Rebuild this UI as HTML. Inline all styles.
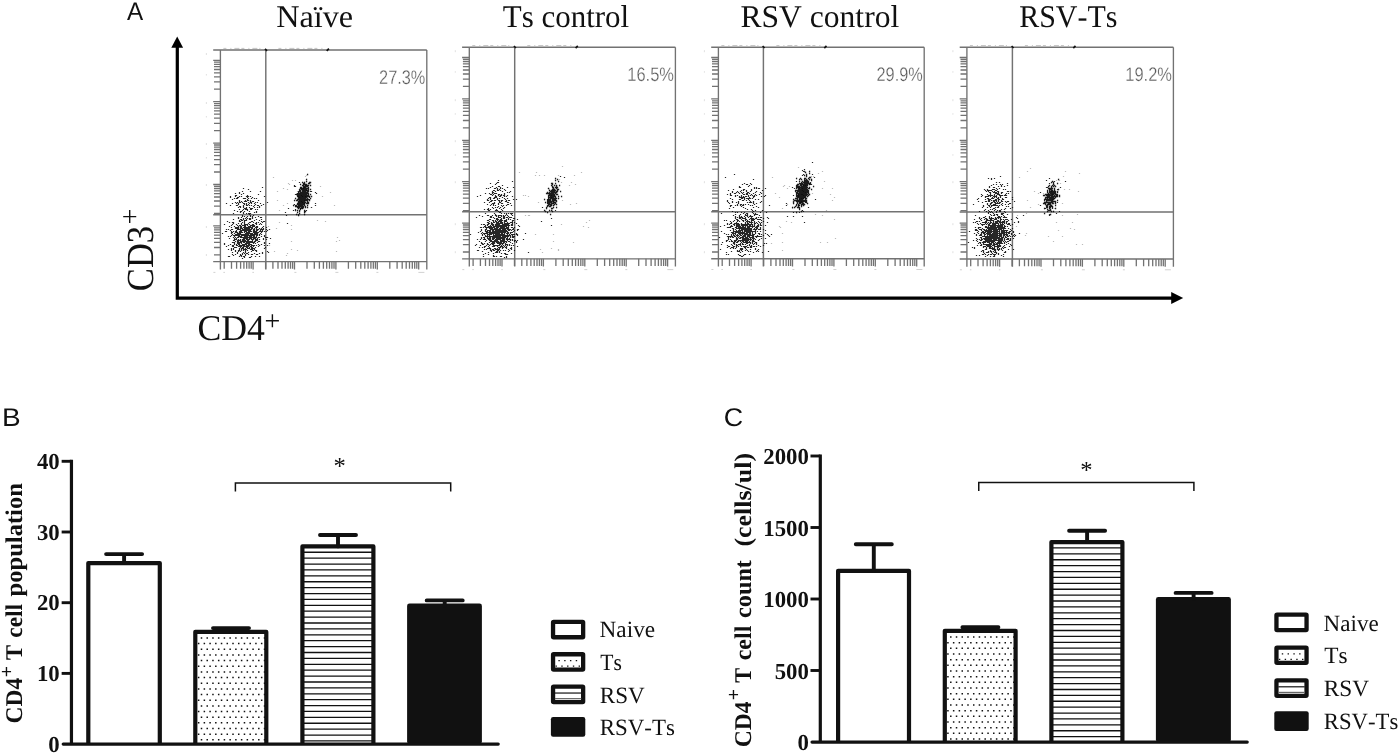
<!DOCTYPE html>
<html lang="en"><head><meta charset="utf-8"><title>Figure</title>
<style>
html,body{margin:0;padding:0;background:#fff;}
body{width:1400px;height:754px;overflow:hidden;}
svg{display:block;}
text{font-kerning:none;text-rendering:geometricPrecision;white-space:pre;}
.t{font-family:"Liberation Serif", serif;fill:#111;}
.tb{font-family:"Liberation Serif", serif;font-weight:bold;fill:#111;}
.s{font-family:"Liberation Sans", sans-serif;fill:#111;}
.pc{font-family:"Liberation Sans", sans-serif;fill:#585858;stroke:#fff;stroke-width:0.3px;}
</style></head><body>
<svg width="1400" height="754" viewBox="0 0 1400 754">
<defs>
<filter id="bl" x="-5%" y="-5%" width="110%" height="110%"><feGaussianBlur stdDeviation="0.3"/></filter>
</defs>
<rect width="1400" height="754" fill="#fff"/>

<text class="s" transform="translate(126.95,20.1) scale(0.9485,1)" font-size="25.6">A</text>
<text class="s" transform="translate(1.90,425.6) scale(1.0936,1)" font-size="25.6">B</text>
<text class="s" transform="translate(723.74,425.7) scale(1.0486,1)" font-size="25.6">C</text>
<path d="M177.3 46 V298.1 H1172" fill="none" stroke="#000" stroke-width="3.2"/>
<path d="M177.2 36.4 L183.1 47.8 H171.3 Z" fill="#000"/>
<path d="M1183.2 298.1 L1171.2 292.1 V304.1 Z" fill="#000"/>
<text class="t" transform="translate(276.17,26.5) scale(1.0198,1)" font-size="31.6">Naïve</text>
<text class="t" transform="translate(502.84,26.5) scale(0.9796,1)" font-size="31.6">Ts control</text>
<text class="t" transform="translate(740.49,26.5) scale(0.9991,1)" font-size="31.6">RSV control</text>
<text class="t" transform="translate(1019.14,26.5) scale(0.9484,1)" font-size="31.6">RSV-Ts</text>
<g transform="translate(152.7,289.7) rotate(-90)"><text class="t" transform="scale(0.952,1.055)" x="-1.5" y="0" font-size="36.3">CD3</text><text class="t" x="65.3" y="-13.6" font-size="28">+</text></g>
<text class="t" transform="translate(197.54,339.6) scale(0.9832,1)" font-size="36.3">CD4</text>
<text class="t" x="264.6" y="329.85" font-size="28">+</text>
<g><path d="M213.20000000000002 50.0H426.8 M426.8 50.0V269.40000000000003 M213.20000000000002 261.6H426.8 M220.4 50.0V269.40000000000003" fill="none" stroke="#727272" stroke-width="1.35"/>
<path d="M265.8 50.0V269.40000000000003 M213.20000000000002 214.8H426.8" fill="none" stroke="#727272" stroke-width="1.45"/>
<path d="M213.20000000000002 60.3H220.4M214.0 89.2H220.4M214.0 81.9H220.4M214.0 76.8H220.4M214.0 72.8H220.4M214.0 69.5H220.4M214.0 66.7H220.4M214.0 64.3H220.4M214.0 62.2H220.4M213.20000000000002 101.7H220.4M214.0 130.6H220.4M214.0 123.3H220.4M214.0 118.2H220.4M214.0 114.2H220.4M214.0 110.9H220.4M214.0 108.1H220.4M214.0 105.7H220.4M214.0 103.6H220.4M213.20000000000002 143.1H220.4M214.0 172.0H220.4M214.0 164.7H220.4M214.0 159.6H220.4M214.0 155.6H220.4M214.0 152.3H220.4M214.0 149.5H220.4M214.0 147.1H220.4M214.0 145.0H220.4M213.20000000000002 184.5H220.4M214.0 213.4H220.4M214.0 206.1H220.4M214.0 201.0H220.4M214.0 197.0H220.4M214.0 193.7H220.4M214.0 190.9H220.4M214.0 188.5H220.4M214.0 186.4H220.4M213.20000000000002 225.9H220.4M214.0 254.8H220.4M214.0 247.5H220.4M214.0 242.4H220.4M214.0 238.4H220.4M214.0 235.1H220.4M214.0 232.3H220.4M214.0 229.9H220.4M214.0 227.8H220.4M224.2 261.6V268.8M231.5 261.6V268.8M236.6 261.6V268.8M240.6 261.6V268.8M243.9 261.6V268.8M246.7 261.6V268.8M249.1 261.6V268.8M251.2 261.6V268.8M253.1 261.6V269.40000000000003M265.6 261.6V268.8M272.9 261.6V268.8M278.0 261.6V268.8M282.0 261.6V268.8M285.3 261.6V268.8M288.1 261.6V268.8M290.5 261.6V268.8M292.6 261.6V268.8M294.5 261.6V269.40000000000003M307.0 261.6V268.8M314.3 261.6V268.8M319.4 261.6V268.8M323.4 261.6V268.8M326.7 261.6V268.8M329.5 261.6V268.8M331.9 261.6V268.8M334.0 261.6V268.8M335.9 261.6V269.40000000000003M348.4 261.6V268.8M355.7 261.6V268.8M360.8 261.6V268.8M364.8 261.6V268.8M368.1 261.6V268.8M370.9 261.6V268.8M373.3 261.6V268.8M375.4 261.6V268.8M377.3 261.6V269.40000000000003M389.8 261.6V268.8M397.1 261.6V268.8M402.2 261.6V268.8M406.2 261.6V268.8M409.5 261.6V268.8M412.3 261.6V268.8M414.7 261.6V268.8M416.8 261.6V268.8M418.7 261.6V269.40000000000003" fill="none" stroke="#727272" stroke-width="1.3"/>
<path d="M265.0 48.8l2 2 M326.7 50.9l2.2 -2.2" stroke="#111" stroke-width="1.7" fill="none"/>
<path d="M223.4 48.4H260.4 M278.4 48.4H324.4" stroke="#bbb" stroke-width="0.9" stroke-dasharray="3 4 1 3 5 2" fill="none"/>
<path d="M213.4 272.40000000000003h2 M223.4 272.40000000000003h1.5 M252.4 272.40000000000003h1.5 M294.4 272.40000000000003h2 M335.4 272.40000000000003h3 M376.4 272.40000000000003h2 M418.4 272.40000000000003h6" stroke="#ccc" stroke-width="0.9" fill="none"/>
<path d="M206.4 53.0v2 M206.4 74.0v1.5 M206.4 102.0v2 M206.4 116.0v1.5 M206.4 143.0v2 M206.4 157.0v1.5 M206.4 184.0v2 M206.4 226.0v2 M206.4 254.0v2" stroke="#ddd" stroke-width="0.9" fill="none"/>
<text class="pc" transform="translate(379.08,83.9) scale(0.8332,1)" font-size="19.6">27.3%</text>
<g filter="url(#bl)"><path d="M221.9 233.5h1.2M223.9 224.5h1.2M223.9 243.5h1.2M223.9 244.5h1.2M224.9 231.5h1.2M225.9 203.5h1.2M225.9 229.5h1.2M225.9 231.5h1.2M225.9 246.5h1.2M226.9 221.5h1.2M227.9 229.5h1.2M227.9 236.5h1.2M227.9 245.5h1.2M227.9 249.5h1.2M227.9 256.5h1.2M228.9 222.5h1.2M228.9 226.5h1.2M228.9 238.5h1.2M228.9 256.5h1.2M229.9 196.5h1.2M229.9 197.5h1.2M229.9 205.5h1.2M229.9 230.5h1.2M229.9 236.5h1.2M229.9 244.5h1.2M230.9 225.5h1.2M230.9 227.5h1.2M230.9 229.5h1.2M230.9 231.5h1.2M230.9 232.5h1.2M230.9 233.5h1.2M230.9 235.5h1.2M230.9 248.5h1.2M230.9 249.5h1.2M230.9 250.5h1.2M231.9 199.5h1.2M231.9 203.5h1.2M231.9 222.5h1.2M231.9 224.5h1.2M231.9 229.5h1.2M231.9 232.5h1.2M231.9 234.5h1.2M231.9 242.5h1.2M231.9 245.5h1.2M231.9 246.5h1.2M231.9 252.5h1.2M231.9 254.5h1.2M232.9 213.5h1.2M232.9 219.5h1.2M232.9 222.5h1.2M232.9 223.5h1.2M232.9 231.5h1.2M232.9 235.5h1.2M232.9 237.5h1.2M232.9 240.5h1.2M232.9 242.5h1.2M232.9 245.5h1.2M232.9 246.5h1.2M232.9 248.5h1.2M232.9 249.5h1.2M232.9 255.5h1.2M233.9 198.5h1.2M233.9 210.5h1.2M233.9 226.5h1.2M233.9 233.5h1.2M233.9 235.5h1.2M233.9 236.5h1.2M233.9 238.5h1.2M233.9 239.5h1.2M233.9 240.5h1.2M233.9 242.5h1.2M233.9 243.5h1.2M233.9 244.5h1.2M233.9 247.5h1.2M234.9 193.5h1.2M234.9 195.5h1.2M234.9 196.5h1.2M234.9 202.5h1.2M234.9 227.5h1.2M234.9 228.5h1.2M234.9 231.5h1.2M234.9 232.5h1.2M234.9 234.5h1.2M234.9 235.5h1.2M234.9 237.5h1.2M234.9 239.5h1.2M234.9 241.5h1.2M234.9 247.5h1.2M234.9 250.5h1.2M234.9 251.5h1.2M234.9 254.5h1.2M235.9 195.5h1.2M235.9 198.5h1.2M235.9 203.5h1.2M235.9 205.5h1.2M235.9 224.5h1.2M235.9 227.5h1.2M235.9 228.5h1.2M235.9 230.5h1.2M235.9 231.5h1.2M235.9 232.5h1.2M235.9 234.5h1.2M235.9 235.5h1.2M235.9 238.5h1.2M235.9 239.5h1.2M235.9 244.5h1.2M235.9 245.5h1.2M235.9 247.5h1.2M236.9 197.5h1.2M236.9 198.5h1.2M236.9 202.5h1.2M236.9 205.5h1.2M236.9 211.5h1.2M236.9 225.5h1.2M236.9 227.5h1.2M236.9 228.5h1.2M236.9 229.5h1.2M236.9 232.5h1.2M236.9 233.5h1.2M236.9 234.5h1.2M236.9 235.5h1.2M236.9 237.5h1.2M236.9 240.5h1.2M236.9 241.5h1.2M236.9 242.5h1.2M236.9 243.5h1.2M236.9 245.5h1.2M236.9 252.5h1.2M236.9 253.5h1.2M237.9 197.5h1.2M237.9 203.5h1.2M237.9 204.5h1.2M237.9 207.5h1.2M237.9 217.5h1.2M237.9 218.5h1.2M237.9 223.5h1.2M237.9 226.5h1.2M237.9 227.5h1.2M237.9 228.5h1.2M237.9 229.5h1.2M237.9 233.5h1.2M237.9 234.5h1.2M237.9 235.5h1.2M237.9 236.5h1.2M237.9 237.5h1.2M237.9 239.5h1.2M237.9 240.5h1.2M237.9 241.5h1.2M237.9 242.5h1.2M237.9 243.5h1.2M237.9 244.5h1.2M237.9 246.5h1.2M237.9 250.5h1.2M237.9 251.5h1.2M238.9 192.5h1.2M238.9 193.5h1.2M238.9 196.5h1.2M238.9 200.5h1.2M238.9 201.5h1.2M238.9 202.5h1.2M238.9 206.5h1.2M238.9 209.5h1.2M238.9 220.5h1.2M238.9 221.5h1.2M238.9 225.5h1.2M238.9 229.5h1.2M238.9 231.5h1.2M238.9 232.5h1.2M238.9 233.5h1.2M238.9 234.5h1.2M238.9 235.5h1.2M238.9 236.5h1.2M238.9 240.5h1.2M238.9 242.5h1.2M238.9 243.5h1.2M238.9 244.5h1.2M238.9 245.5h1.2M238.9 246.5h1.2M238.9 248.5h1.2M238.9 249.5h1.2M238.9 250.5h1.2M238.9 256.5h1.2M239.9 202.5h1.2M239.9 206.5h1.2M239.9 207.5h1.2M239.9 211.5h1.2M239.9 212.5h1.2M239.9 219.5h1.2M239.9 221.5h1.2M239.9 225.5h1.2M239.9 226.5h1.2M239.9 227.5h1.2M239.9 228.5h1.2M239.9 229.5h1.2M239.9 230.5h1.2M239.9 231.5h1.2M239.9 232.5h1.2M239.9 233.5h1.2M239.9 234.5h1.2M239.9 236.5h1.2M239.9 237.5h1.2M239.9 239.5h1.2M239.9 240.5h1.2M239.9 241.5h1.2M239.9 242.5h1.2M239.9 245.5h1.2M239.9 246.5h1.2M239.9 247.5h1.2M239.9 251.5h1.2M239.9 254.5h1.2M239.9 255.5h1.2M240.9 194.5h1.2M240.9 196.5h1.2M240.9 201.5h1.2M240.9 211.5h1.2M240.9 217.5h1.2M240.9 219.5h1.2M240.9 220.5h1.2M240.9 223.5h1.2M240.9 224.5h1.2M240.9 226.5h1.2M240.9 227.5h1.2M240.9 228.5h1.2M240.9 230.5h1.2M240.9 231.5h1.2M240.9 232.5h1.2M240.9 234.5h1.2M240.9 235.5h1.2M240.9 236.5h1.2M240.9 237.5h1.2M240.9 241.5h1.2M240.9 242.5h1.2M240.9 243.5h1.2M240.9 245.5h1.2M240.9 246.5h1.2M240.9 248.5h1.2M240.9 249.5h1.2M240.9 250.5h1.2M240.9 255.5h1.2M240.9 256.5h1.2M241.9 191.5h1.2M241.9 202.5h1.2M241.9 210.5h1.2M241.9 215.5h1.2M241.9 216.5h1.2M241.9 220.5h1.2M241.9 222.5h1.2M241.9 225.5h1.2M241.9 228.5h1.2M241.9 229.5h1.2M241.9 230.5h1.2M241.9 232.5h1.2M241.9 234.5h1.2M241.9 235.5h1.2M241.9 237.5h1.2M241.9 239.5h1.2M241.9 240.5h1.2M241.9 241.5h1.2M241.9 244.5h1.2M241.9 245.5h1.2M241.9 247.5h1.2M241.9 248.5h1.2M241.9 253.5h1.2M241.9 254.5h1.2M241.9 258.5h1.2M242.9 188.5h1.2M242.9 193.5h1.2M242.9 198.5h1.2M242.9 203.5h1.2M242.9 205.5h1.2M242.9 206.5h1.2M242.9 207.5h1.2M242.9 209.5h1.2M242.9 212.5h1.2M242.9 213.5h1.2M242.9 218.5h1.2M242.9 219.5h1.2M242.9 225.5h1.2M242.9 227.5h1.2M242.9 229.5h1.2M242.9 230.5h1.2M242.9 234.5h1.2M242.9 235.5h1.2M242.9 237.5h1.2M242.9 238.5h1.2M242.9 239.5h1.2M242.9 240.5h1.2M242.9 241.5h1.2M242.9 242.5h1.2M242.9 244.5h1.2M242.9 245.5h1.2M242.9 246.5h1.2M242.9 247.5h1.2M242.9 248.5h1.2M242.9 249.5h1.2M242.9 250.5h1.2M242.9 252.5h1.2M242.9 256.5h1.2M243.9 198.5h1.2M243.9 201.5h1.2M243.9 203.5h1.2M243.9 204.5h1.2M243.9 208.5h1.2M243.9 211.5h1.2M243.9 216.5h1.2M243.9 220.5h1.2M243.9 221.5h1.2M243.9 222.5h1.2M243.9 223.5h1.2M243.9 224.5h1.2M243.9 225.5h1.2M243.9 226.5h1.2M243.9 227.5h1.2M243.9 228.5h1.2M243.9 229.5h1.2M243.9 230.5h1.2M243.9 231.5h1.2M243.9 232.5h1.2M243.9 234.5h1.2M243.9 235.5h1.2M243.9 236.5h1.2M243.9 237.5h1.2M243.9 238.5h1.2M243.9 239.5h1.2M243.9 240.5h1.2M243.9 241.5h1.2M243.9 242.5h1.2M243.9 244.5h1.2M243.9 245.5h1.2M243.9 246.5h1.2M243.9 249.5h1.2M243.9 253.5h1.2M243.9 256.5h1.2M243.9 257.5h1.2M244.9 198.5h1.2M244.9 200.5h1.2M244.9 201.5h1.2M244.9 208.5h1.2M244.9 209.5h1.2M244.9 218.5h1.2M244.9 220.5h1.2M244.9 224.5h1.2M244.9 225.5h1.2M244.9 226.5h1.2M244.9 227.5h1.2M244.9 228.5h1.2M244.9 229.5h1.2M244.9 230.5h1.2M244.9 231.5h1.2M244.9 233.5h1.2M244.9 234.5h1.2M244.9 235.5h1.2M244.9 236.5h1.2M244.9 237.5h1.2M244.9 238.5h1.2M244.9 240.5h1.2M244.9 241.5h1.2M244.9 243.5h1.2M244.9 244.5h1.2M244.9 246.5h1.2M244.9 248.5h1.2M244.9 249.5h1.2M244.9 250.5h1.2M244.9 251.5h1.2M244.9 252.5h1.2M244.9 254.5h1.2M244.9 255.5h1.2M245.9 196.5h1.2M245.9 201.5h1.2M245.9 203.5h1.2M245.9 204.5h1.2M245.9 205.5h1.2M245.9 207.5h1.2M245.9 208.5h1.2M245.9 209.5h1.2M245.9 213.5h1.2M245.9 217.5h1.2M245.9 219.5h1.2M245.9 220.5h1.2M245.9 224.5h1.2M245.9 227.5h1.2M245.9 228.5h1.2M245.9 229.5h1.2M245.9 230.5h1.2M245.9 231.5h1.2M245.9 232.5h1.2M245.9 233.5h1.2M245.9 234.5h1.2M245.9 235.5h1.2M245.9 236.5h1.2M245.9 237.5h1.2M245.9 238.5h1.2M245.9 239.5h1.2M245.9 241.5h1.2M245.9 242.5h1.2M245.9 243.5h1.2M245.9 244.5h1.2M245.9 245.5h1.2M245.9 246.5h1.2M245.9 247.5h1.2M245.9 249.5h1.2M245.9 253.5h1.2M246.9 195.5h1.2M246.9 196.5h1.2M246.9 197.5h1.2M246.9 199.5h1.2M246.9 200.5h1.2M246.9 205.5h1.2M246.9 209.5h1.2M246.9 210.5h1.2M246.9 216.5h1.2M246.9 218.5h1.2M246.9 224.5h1.2M246.9 225.5h1.2M246.9 227.5h1.2M246.9 228.5h1.2M246.9 229.5h1.2M246.9 230.5h1.2M246.9 232.5h1.2M246.9 233.5h1.2M246.9 234.5h1.2M246.9 235.5h1.2M246.9 236.5h1.2M246.9 237.5h1.2M246.9 238.5h1.2M246.9 239.5h1.2M246.9 240.5h1.2M246.9 241.5h1.2M246.9 242.5h1.2M246.9 243.5h1.2M246.9 245.5h1.2M246.9 246.5h1.2M246.9 247.5h1.2M246.9 248.5h1.2M246.9 250.5h1.2M246.9 253.5h1.2M247.9 189.5h1.2M247.9 196.5h1.2M247.9 198.5h1.2M247.9 200.5h1.2M247.9 202.5h1.2M247.9 204.5h1.2M247.9 213.5h1.2M247.9 223.5h1.2M247.9 226.5h1.2M247.9 227.5h1.2M247.9 228.5h1.2M247.9 229.5h1.2M247.9 230.5h1.2M247.9 231.5h1.2M247.9 232.5h1.2M247.9 233.5h1.2M247.9 234.5h1.2M247.9 235.5h1.2M247.9 237.5h1.2M247.9 239.5h1.2M247.9 240.5h1.2M247.9 241.5h1.2M247.9 242.5h1.2M247.9 243.5h1.2M247.9 244.5h1.2M247.9 245.5h1.2M247.9 246.5h1.2M247.9 248.5h1.2M247.9 252.5h1.2M247.9 254.5h1.2M248.9 203.5h1.2M248.9 205.5h1.2M248.9 207.5h1.2M248.9 211.5h1.2M248.9 213.5h1.2M248.9 214.5h1.2M248.9 218.5h1.2M248.9 219.5h1.2M248.9 222.5h1.2M248.9 224.5h1.2M248.9 226.5h1.2M248.9 227.5h1.2M248.9 228.5h1.2M248.9 229.5h1.2M248.9 230.5h1.2M248.9 231.5h1.2M248.9 232.5h1.2M248.9 233.5h1.2M248.9 235.5h1.2M248.9 236.5h1.2M248.9 237.5h1.2M248.9 238.5h1.2M248.9 239.5h1.2M248.9 241.5h1.2M248.9 242.5h1.2M248.9 243.5h1.2M248.9 244.5h1.2M248.9 245.5h1.2M248.9 247.5h1.2M248.9 248.5h1.2M248.9 257.5h1.2M249.9 191.5h1.2M249.9 196.5h1.2M249.9 200.5h1.2M249.9 201.5h1.2M249.9 202.5h1.2M249.9 208.5h1.2M249.9 209.5h1.2M249.9 213.5h1.2M249.9 215.5h1.2M249.9 216.5h1.2M249.9 218.5h1.2M249.9 219.5h1.2M249.9 222.5h1.2M249.9 225.5h1.2M249.9 226.5h1.2M249.9 227.5h1.2M249.9 229.5h1.2M249.9 230.5h1.2M249.9 231.5h1.2M249.9 233.5h1.2M249.9 234.5h1.2M249.9 235.5h1.2M249.9 236.5h1.2M249.9 237.5h1.2M249.9 238.5h1.2M249.9 241.5h1.2M249.9 242.5h1.2M249.9 244.5h1.2M249.9 246.5h1.2M249.9 249.5h1.2M249.9 257.5h1.2M250.9 198.5h1.2M250.9 202.5h1.2M250.9 203.5h1.2M250.9 205.5h1.2M250.9 208.5h1.2M250.9 209.5h1.2M250.9 221.5h1.2M250.9 225.5h1.2M250.9 227.5h1.2M250.9 228.5h1.2M250.9 229.5h1.2M250.9 231.5h1.2M250.9 233.5h1.2M250.9 234.5h1.2M250.9 235.5h1.2M250.9 236.5h1.2M250.9 237.5h1.2M250.9 238.5h1.2M250.9 239.5h1.2M250.9 241.5h1.2M250.9 242.5h1.2M250.9 244.5h1.2M250.9 245.5h1.2M250.9 246.5h1.2M250.9 247.5h1.2M250.9 248.5h1.2M250.9 249.5h1.2M250.9 251.5h1.2M250.9 254.5h1.2M250.9 256.5h1.2M251.9 197.5h1.2M251.9 201.5h1.2M251.9 208.5h1.2M251.9 216.5h1.2M251.9 217.5h1.2M251.9 218.5h1.2M251.9 221.5h1.2M251.9 224.5h1.2M251.9 225.5h1.2M251.9 226.5h1.2M251.9 227.5h1.2M251.9 228.5h1.2M251.9 233.5h1.2M251.9 234.5h1.2M251.9 235.5h1.2M251.9 237.5h1.2M251.9 239.5h1.2M251.9 240.5h1.2M251.9 241.5h1.2M251.9 242.5h1.2M251.9 245.5h1.2M251.9 247.5h1.2M251.9 248.5h1.2M251.9 249.5h1.2M251.9 250.5h1.2M251.9 254.5h1.2M252.9 201.5h1.2M252.9 206.5h1.2M252.9 215.5h1.2M252.9 222.5h1.2M252.9 224.5h1.2M252.9 225.5h1.2M252.9 226.5h1.2M252.9 229.5h1.2M252.9 230.5h1.2M252.9 231.5h1.2M252.9 232.5h1.2M252.9 234.5h1.2M252.9 235.5h1.2M252.9 236.5h1.2M252.9 237.5h1.2M252.9 238.5h1.2M252.9 239.5h1.2M252.9 242.5h1.2M252.9 243.5h1.2M252.9 245.5h1.2M252.9 246.5h1.2M252.9 248.5h1.2M252.9 250.5h1.2M253.9 198.5h1.2M253.9 203.5h1.2M253.9 205.5h1.2M253.9 207.5h1.2M253.9 212.5h1.2M253.9 220.5h1.2M253.9 225.5h1.2M253.9 226.5h1.2M253.9 228.5h1.2M253.9 229.5h1.2M253.9 230.5h1.2M253.9 231.5h1.2M253.9 232.5h1.2M253.9 233.5h1.2M253.9 234.5h1.2M253.9 235.5h1.2M253.9 236.5h1.2M253.9 237.5h1.2M253.9 238.5h1.2M253.9 241.5h1.2M253.9 242.5h1.2M253.9 245.5h1.2M253.9 248.5h1.2M253.9 249.5h1.2M253.9 253.5h1.2M254.9 202.5h1.2M254.9 204.5h1.2M254.9 209.5h1.2M254.9 217.5h1.2M254.9 223.5h1.2M254.9 227.5h1.2M254.9 231.5h1.2M254.9 232.5h1.2M254.9 233.5h1.2M254.9 234.5h1.2M254.9 237.5h1.2M254.9 238.5h1.2M254.9 239.5h1.2M254.9 240.5h1.2M254.9 241.5h1.2M254.9 243.5h1.2M254.9 247.5h1.2M254.9 250.5h1.2M254.9 256.5h1.2M255.9 198.5h1.2M255.9 211.5h1.2M255.9 212.5h1.2M255.9 219.5h1.2M255.9 222.5h1.2M255.9 223.5h1.2M255.9 224.5h1.2M255.9 226.5h1.2M255.9 227.5h1.2M255.9 228.5h1.2M255.9 229.5h1.2M255.9 230.5h1.2M255.9 231.5h1.2M255.9 232.5h1.2M255.9 233.5h1.2M255.9 234.5h1.2M255.9 235.5h1.2M255.9 236.5h1.2M255.9 237.5h1.2M255.9 239.5h1.2M255.9 240.5h1.2M255.9 245.5h1.2M255.9 250.5h1.2M255.9 251.5h1.2M255.9 254.5h1.2M256.9 202.5h1.2M256.9 205.5h1.2M256.9 207.5h1.2M256.9 209.5h1.2M256.9 226.5h1.2M256.9 227.5h1.2M256.9 229.5h1.2M256.9 230.5h1.2M256.9 232.5h1.2M256.9 233.5h1.2M256.9 234.5h1.2M256.9 235.5h1.2M256.9 238.5h1.2M256.9 239.5h1.2M256.9 240.5h1.2M256.9 242.5h1.2M256.9 254.5h1.2M257.9 194.5h1.2M257.9 200.5h1.2M257.9 205.5h1.2M257.9 216.5h1.2M257.9 222.5h1.2M257.9 229.5h1.2M257.9 232.5h1.2M257.9 237.5h1.2M257.9 241.5h1.2M257.9 244.5h1.2M257.9 246.5h1.2M258.9 206.5h1.2M258.9 207.5h1.2M258.9 220.5h1.2M258.9 224.5h1.2M258.9 228.5h1.2M258.9 231.5h1.2M258.9 234.5h1.2M258.9 235.5h1.2M258.9 237.5h1.2M258.9 239.5h1.2M258.9 241.5h1.2M258.9 245.5h1.2M258.9 253.5h1.2M258.9 256.5h1.2M259.9 191.5h1.2M259.9 203.5h1.2M259.9 217.5h1.2M259.9 223.5h1.2M259.9 229.5h1.2M259.9 230.5h1.2M259.9 231.5h1.2M259.9 233.5h1.2M260.9 205.5h1.2M260.9 217.5h1.2M260.9 219.5h1.2M260.9 221.5h1.2M260.9 224.5h1.2M260.9 228.5h1.2M260.9 229.5h1.2M260.9 231.5h1.2M260.9 232.5h1.2M260.9 234.5h1.2M260.9 236.5h1.2M260.9 244.5h1.2M261.9 187.5h1.2M261.9 222.5h1.2M261.9 227.5h1.2M261.9 229.5h1.2M261.9 230.5h1.2M261.9 231.5h1.2M261.9 252.5h1.2M261.9 253.5h1.2M262.9 204.5h1.2M262.9 221.5h1.2M262.9 226.5h1.2M262.9 228.5h1.2M262.9 229.5h1.2M262.9 238.5h1.2M262.9 239.5h1.2M263.9 196.5h1.2M263.9 221.5h1.2M263.9 231.5h1.2M263.9 235.5h1.2M263.9 236.5h1.2M263.9 242.5h1.2M263.9 243.5h1.2M263.9 245.5h1.2M263.9 248.5h1.2M264.9 237.5h1.2M264.9 247.5h1.2M265.9 227.5h1.2M265.9 229.5h1.2M265.9 231.5h1.2M265.9 237.5h1.2M265.9 239.5h1.2M266.9 202.5h1.2M266.9 230.5h1.2M266.9 237.5h1.2M266.9 245.5h1.2M266.9 251.5h1.2M267.9 252.5h1.2M268.9 229.5h1.2M268.9 243.5h1.2M269.9 238.5h1.2M284.9 212.5h1.2M285.9 215.5h1.2M286.9 223.5h1.2M287.9 208.5h1.2M292.9 210.5h1.2M293.9 185.5h1.2M293.9 186.5h1.2M293.9 204.5h1.2M294.9 186.5h1.2M294.9 194.5h1.2M294.9 205.5h1.2M294.9 209.5h1.2M296.9 193.5h1.2M296.9 206.5h1.2M297.9 191.5h1.2M297.9 196.5h1.2M297.9 206.5h1.2M297.9 208.5h1.2M297.9 214.5h1.2M298.9 182.5h1.2M298.9 197.5h1.2M299.9 193.5h1.2M299.9 208.5h1.2M300.9 188.5h1.2M300.9 195.5h1.2M300.9 201.5h1.2M300.9 208.5h1.2M301.9 196.5h1.2M301.9 202.5h1.2M301.9 208.5h1.2M302.9 186.5h1.2M302.9 188.5h1.2M303.9 187.5h1.2M303.9 200.5h1.2M303.9 203.5h1.2M304.9 185.5h1.2M304.9 196.5h1.2M305.9 190.5h1.2M305.9 210.5h1.2M308.9 196.5h1.2M308.9 197.5h1.2M308.9 199.5h1.2M309.9 191.5h1.2M310.9 191.5h1.2M310.9 207.5h1.2M314.9 192.5h1.2M314.9 203.5h1.2M314.9 205.5h1.2M315.9 193.5h1.2" stroke="#111" stroke-opacity="0.9" stroke-width="1.2" fill="none"/>
<path d="M303.9 197.5h1.3M300.9 194.5h1.3M300.9 193.5h1.3M306.9 198.5h1.3M301.9 193.5h1.3M302.9 201.5h1.3M299.9 197.5h1.3M304.9 197.5h1.3M303.9 187.5h1.3M302.9 183.5h1.3M305.9 184.5h1.3M305.9 188.5h1.3M301.9 198.5h1.3M305.9 179.5h1.3M302.9 197.5h1.3M303.9 186.5h1.3M301.9 190.5h1.3M298.9 204.5h1.3M304.9 197.5h1.3M303.9 193.5h1.3M302.9 198.5h1.3M304.9 189.5h1.3M295.9 205.5h1.3M301.9 203.5h1.3M309.9 194.5h1.3M297.9 201.5h1.3M303.9 198.5h1.3M304.9 196.5h1.3M304.9 197.5h1.3M297.9 207.5h1.3M300.9 198.5h1.3M298.9 197.5h1.3M302.9 193.5h1.3M303.9 204.5h1.3M302.9 187.5h1.3M295.9 200.5h1.3M302.9 194.5h1.3M302.9 206.5h1.3M301.9 194.5h1.3M307.9 196.5h1.3M302.9 194.5h1.3M301.9 199.5h1.3M299.9 195.5h1.3M301.9 197.5h1.3M302.9 206.5h1.3M304.9 197.5h1.3M305.9 195.5h1.3M304.9 197.5h1.3M305.9 188.5h1.3M299.9 184.5h1.3M300.9 194.5h1.3M308.9 200.5h1.3M302.9 191.5h1.3M303.9 199.5h1.3M302.9 196.5h1.3M302.9 202.5h1.3M304.9 190.5h1.3M299.9 196.5h1.3M299.9 198.5h1.3M301.9 204.5h1.3M300.9 197.5h1.3M297.9 195.5h1.3M305.9 189.5h1.3M308.9 183.5h1.3M307.9 185.5h1.3M306.9 192.5h1.3M297.9 197.5h1.3M304.9 207.5h1.3M301.9 196.5h1.3M299.9 195.5h1.3M298.9 204.5h1.3M300.9 196.5h1.3M299.9 192.5h1.3M299.9 206.5h1.3M300.9 204.5h1.3M302.9 192.5h1.3M303.9 193.5h1.3M302.9 194.5h1.3M302.9 187.5h1.3M297.9 208.5h1.3M305.9 190.5h1.3M295.9 206.5h1.3M301.9 195.5h1.3M307.9 185.5h1.3M302.9 197.5h1.3M305.9 192.5h1.3M302.9 193.5h1.3M300.9 188.5h1.3M298.9 206.5h1.3M301.9 199.5h1.3M301.9 194.5h1.3M300.9 201.5h1.3M302.9 196.5h1.3M302.9 206.5h1.3M300.9 199.5h1.3M307.9 188.5h1.3M300.9 204.5h1.3M303.9 201.5h1.3M303.9 203.5h1.3M307.9 195.5h1.3M307.9 189.5h1.3M303.9 201.5h1.3M303.9 211.5h1.3M299.9 188.5h1.3M298.9 202.5h1.3M304.9 198.5h1.3M299.9 184.5h1.3M302.9 199.5h1.3M302.9 195.5h1.3M299.9 190.5h1.3M299.9 195.5h1.3M306.9 186.5h1.3M303.9 197.5h1.3M302.9 190.5h1.3M301.9 189.5h1.3M299.9 198.5h1.3M302.9 200.5h1.3M294.9 210.5h1.3M300.9 203.5h1.3M298.9 196.5h1.3M305.9 194.5h1.3M302.9 196.5h1.3M306.9 196.5h1.3M296.9 195.5h1.3M298.9 191.5h1.3M306.9 174.5h1.3M300.9 206.5h1.3M301.9 188.5h1.3M300.9 205.5h1.3M302.9 197.5h1.3M304.9 198.5h1.3M302.9 201.5h1.3M305.9 190.5h1.3M306.9 193.5h1.3M304.9 188.5h1.3M298.9 196.5h1.3M303.9 210.5h1.3M305.9 194.5h1.3M294.9 198.5h1.3M301.9 199.5h1.3M299.9 197.5h1.3M302.9 195.5h1.3M301.9 206.5h1.3M306.9 198.5h1.3M302.9 193.5h1.3M309.9 185.5h1.3M303.9 204.5h1.3M301.9 202.5h1.3M301.9 198.5h1.3M302.9 196.5h1.3M301.9 208.5h1.3M300.9 196.5h1.3M307.9 194.5h1.3M301.9 201.5h1.3M299.9 194.5h1.3M304.9 197.5h1.3M302.9 194.5h1.3M303.9 196.5h1.3M304.9 186.5h1.3M306.9 192.5h1.3M305.9 192.5h1.3M298.9 207.5h1.3M304.9 193.5h1.3M299.9 196.5h1.3M307.9 202.5h1.3M302.9 195.5h1.3M305.9 190.5h1.3M301.9 188.5h1.3M297.9 205.5h1.3M304.9 206.5h1.3M303.9 199.5h1.3M298.9 210.5h1.3M299.9 192.5h1.3M306.9 198.5h1.3M298.9 203.5h1.3M302.9 191.5h1.3M301.9 199.5h1.3M302.9 199.5h1.3M302.9 195.5h1.3M301.9 198.5h1.3M306.9 202.5h1.3M301.9 201.5h1.3M306.9 186.5h1.3M301.9 182.5h1.3M302.9 203.5h1.3M297.9 195.5h1.3M301.9 194.5h1.3M307.9 203.5h1.3M299.9 198.5h1.3M304.9 189.5h1.3M299.9 195.5h1.3M298.9 197.5h1.3M303.9 205.5h1.3M299.9 204.5h1.3M301.9 200.5h1.3M302.9 194.5h1.3M300.9 187.5h1.3M300.9 202.5h1.3M304.9 199.5h1.3M303.9 184.5h1.3M303.9 198.5h1.3M305.9 195.5h1.3M298.9 198.5h1.3M306.9 191.5h1.3M296.9 199.5h1.3M301.9 207.5h1.3M298.9 206.5h1.3M299.9 194.5h1.3M297.9 215.5h1.3M297.9 208.5h1.3M297.9 197.5h1.3M305.9 195.5h1.3M307.9 189.5h1.3M298.9 199.5h1.3M302.9 193.5h1.3M300.9 196.5h1.3M303.9 191.5h1.3M300.9 189.5h1.3M304.9 197.5h1.3M305.9 186.5h1.3M300.9 192.5h1.3M299.9 203.5h1.3M297.9 207.5h1.3M301.9 200.5h1.3M305.9 192.5h1.3M304.9 196.5h1.3M299.9 196.5h1.3M302.9 196.5h1.3M298.9 203.5h1.3M297.9 196.5h1.3M298.9 201.5h1.3M305.9 184.5h1.3M296.9 204.5h1.3M302.9 189.5h1.3M305.9 189.5h1.3M301.9 191.5h1.3M299.9 201.5h1.3M298.9 199.5h1.3M299.9 187.5h1.3M298.9 210.5h1.3M301.9 199.5h1.3M302.9 198.5h1.3M296.9 210.5h1.3M302.9 185.5h1.3M306.9 188.5h1.3M298.9 202.5h1.3M303.9 187.5h1.3M292.9 205.5h1.3M298.9 200.5h1.3M297.9 203.5h1.3M298.9 194.5h1.3M307.9 191.5h1.3M299.9 202.5h1.3M298.9 190.5h1.3M303.9 194.5h1.3M302.9 196.5h1.3M304.9 189.5h1.3M306.9 198.5h1.3M298.9 210.5h1.3M303.9 192.5h1.3M301.9 192.5h1.3M299.9 196.5h1.3M301.9 201.5h1.3M301.9 199.5h1.3M301.9 191.5h1.3M301.9 195.5h1.3M301.9 199.5h1.3M305.9 188.5h1.3M303.9 187.5h1.3M297.9 193.5h1.3M302.9 198.5h1.3M301.9 196.5h1.3M300.9 194.5h1.3M301.9 195.5h1.3M298.9 197.5h1.3M302.9 199.5h1.3M301.9 196.5h1.3M296.9 200.5h1.3M302.9 200.5h1.3M302.9 199.5h1.3M302.9 192.5h1.3M302.9 202.5h1.3M297.9 197.5h1.3M304.9 202.5h1.3M301.9 204.5h1.3M307.9 187.5h1.3M295.9 194.5h1.3M297.9 199.5h1.3M302.9 188.5h1.3M299.9 206.5h1.3M306.9 200.5h1.3M299.9 208.5h1.3M299.9 194.5h1.3M304.9 192.5h1.3M302.9 200.5h1.3M298.9 203.5h1.3M304.9 197.5h1.3M304.9 202.5h1.3M300.9 200.5h1.3M298.9 199.5h1.3M306.9 186.5h1.3M303.9 197.5h1.3M304.9 185.5h1.3M301.9 192.5h1.3M305.9 181.5h1.3M301.9 204.5h1.3M303.9 193.5h1.3M293.9 200.5h1.3M304.9 197.5h1.3M305.9 203.5h1.3M301.9 205.5h1.3M304.9 200.5h1.3M303.9 193.5h1.3M306.9 205.5h1.3M302.9 196.5h1.3M305.9 199.5h1.3M306.9 198.5h1.3M303.9 190.5h1.3M304.9 196.5h1.3M296.9 203.5h1.3M304.9 191.5h1.3M299.9 191.5h1.3M301.9 205.5h1.3M300.9 200.5h1.3M299.9 204.5h1.3M297.9 204.5h1.3M304.9 191.5h1.3M305.9 193.5h1.3M299.9 198.5h1.3M301.9 197.5h1.3M299.9 203.5h1.3M306.9 195.5h1.3M303.9 214.5h1.3M302.9 198.5h1.3M299.9 208.5h1.3M304.9 190.5h1.3M299.9 200.5h1.3M301.9 185.5h1.3M299.9 201.5h1.3M303.9 196.5h1.3M300.9 201.5h1.3M299.9 200.5h1.3M300.9 194.5h1.3M300.9 205.5h1.3M302.9 192.5h1.3M304.9 196.5h1.3M302.9 185.5h1.3M310.9 196.5h1.3M300.9 204.5h1.3M306.9 203.5h1.3M301.9 195.5h1.3M301.9 206.5h1.3M299.9 201.5h1.3M303.9 212.5h1.3M303.9 201.5h1.3M307.9 183.5h1.3M303.9 196.5h1.3M300.9 202.5h1.3M306.9 185.5h1.3M302.9 192.5h1.3M302.9 193.5h1.3M309.9 182.5h1.3M305.9 200.5h1.3M298.9 211.5h1.3M303.9 184.5h1.3M303.9 188.5h1.3M296.9 196.5h1.3M297.9 198.5h1.3M301.9 199.5h1.3M302.9 195.5h1.3M301.9 193.5h1.3M305.9 185.5h1.3M304.9 211.5h1.3M302.9 207.5h1.3M307.9 193.5h1.3M302.9 197.5h1.3M303.9 195.5h1.3M302.9 194.5h1.3M303.9 189.5h1.3M298.9 213.5h1.3M304.9 196.5h1.3M298.9 201.5h1.3M305.9 196.5h1.3M302.9 199.5h1.3M297.9 207.5h1.3M300.9 197.5h1.3M294.9 206.5h1.3M302.9 192.5h1.3M302.9 202.5h1.3M295.9 206.5h1.3M300.9 202.5h1.3M305.9 193.5h1.3M298.9 189.5h1.3M298.9 193.5h1.3M304.9 193.5h1.3M306.9 200.5h1.3M298.9 195.5h1.3M301.9 191.5h1.3M305.9 189.5h1.3M298.9 191.5h1.3M300.9 202.5h1.3M302.9 200.5h1.3M301.9 201.5h1.3M301.9 206.5h1.3M302.9 200.5h1.3M304.9 187.5h1.3M303.9 195.5h1.3M309.9 189.5h1.3M298.9 197.5h1.3M304.9 185.5h1.3M300.9 196.5h1.3M300.9 197.5h1.3M299.9 200.5h1.3M305.9 197.5h1.3M295.9 214.5h1.3M300.9 193.5h1.3M297.9 202.5h1.3M303.9 194.5h1.3M301.9 190.5h1.3M297.9 192.5h1.3M303.9 187.5h1.3M301.9 198.5h1.3M304.9 184.5h1.3M302.9 203.5h1.3M300.9 196.5h1.3M299.9 201.5h1.3M302.9 188.5h1.3M300.9 207.5h1.3M299.9 205.5h1.3M299.9 203.5h1.3M309.9 198.5h1.3M299.9 202.5h1.3M303.9 197.5h1.3M298.9 205.5h1.3M304.9 185.5h1.3M302.9 197.5h1.3M300.9 206.5h1.3M297.9 202.5h1.3M306.9 205.5h1.3M301.9 203.5h1.3M307.9 199.5h1.3M303.9 190.5h1.3M303.9 201.5h1.3M304.9 194.5h1.3M303.9 195.5h1.3M299.9 195.5h1.3M304.9 197.5h1.3M303.9 190.5h1.3M298.9 201.5h1.3M299.9 198.5h1.3M306.9 207.5h1.3M298.9 211.5h1.3M301.9 202.5h1.3M306.9 199.5h1.3M307.9 189.5h1.3M306.9 198.5h1.3M300.9 198.5h1.3M303.9 199.5h1.3M303.9 198.5h1.3M297.9 192.5h1.3M302.9 204.5h1.3M302.9 198.5h1.3M299.9 204.5h1.3M303.9 192.5h1.3M296.9 204.5h1.3M298.9 205.5h1.3M307.9 190.5h1.3M298.9 195.5h1.3M305.9 195.5h1.3M299.9 205.5h1.3M303.9 200.5h1.3M304.9 193.5h1.3M300.9 196.5h1.3M303.9 194.5h1.3M300.9 197.5h1.3M306.9 195.5h1.3M304.9 199.5h1.3M301.9 206.5h1.3M296.9 212.5h1.3M300.9 202.5h1.3M303.9 211.5h1.3M303.9 183.5h1.3M303.9 202.5h1.3M300.9 202.5h1.3M303.9 201.5h1.3M305.9 197.5h1.3M308.9 182.5h1.3M306.9 190.5h1.3M300.9 195.5h1.3M299.9 199.5h1.3M299.9 190.5h1.3M303.9 197.5h1.3M300.9 204.5h1.3M300.9 204.5h1.3M304.9 197.5h1.3M299.9 204.5h1.3M302.9 195.5h1.3M299.9 197.5h1.3M299.9 204.5h1.3M299.9 200.5h1.3M302.9 200.5h1.3M308.9 196.5h1.3M306.9 201.5h1.3M298.9 203.5h1.3M304.9 195.5h1.3M302.9 197.5h1.3M297.9 194.5h1.3M296.9 194.5h1.3M299.9 199.5h1.3M303.9 192.5h1.3M297.9 198.5h1.3M302.9 184.5h1.3M303.9 182.5h1.3M296.9 207.5h1.3M297.9 201.5h1.3M300.9 199.5h1.3M304.9 197.5h1.3M299.9 209.5h1.3M299.9 197.5h1.3M300.9 201.5h1.3" stroke="#0a0a0a" stroke-opacity="0.95" stroke-width="1.35" fill="none"/>
<path d="M267.9 226.5h1.2M268.9 229.5h1.2M268.9 245.5h1.2M272.9 177.5h1.2M273.9 251.5h1.2M275.9 228.5h1.2M276.9 191.5h1.2M276.9 200.5h1.2M278.9 210.5h1.2M278.9 222.5h1.2M282.9 188.5h1.2M282.9 205.5h1.2M285.9 255.5h1.2M286.9 189.5h1.2M286.9 203.5h1.2M286.9 253.5h1.2M287.9 183.5h1.2M288.9 184.5h1.2M290.9 225.5h1.2M290.9 229.5h1.2M290.9 241.5h1.2M290.9 249.5h1.2M291.9 180.5h1.2M294.9 180.5h1.2M296.9 191.5h1.2M296.9 250.5h1.2M302.9 208.5h1.2M304.9 176.5h1.2M305.9 175.5h1.2M310.9 207.5h1.2M316.9 220.5h1.2M319.9 186.5h1.2M321.9 196.5h1.2M324.9 221.5h1.2M329.9 192.5h1.2M333.9 205.5h1.2M335.9 241.5h1.2M335.9 251.5h1.2M336.9 237.5h1.2M338.9 240.5h1.2" stroke="#555" stroke-opacity="0.4" stroke-width="1.1" fill="none"/></g></g>
<g><path d="M462.1 47.2H675.4 M675.4 47.2V266.6 M462.1 258.8H675.4 M469.3 47.2V266.6" fill="none" stroke="#727272" stroke-width="1.35"/>
<path d="M514.7 47.2V266.6 M462.1 211.7H675.4" fill="none" stroke="#727272" stroke-width="1.45"/>
<path d="M462.1 57.5H469.3M462.90000000000003 86.4H469.3M462.90000000000003 79.1H469.3M462.90000000000003 74.0H469.3M462.90000000000003 70.0H469.3M462.90000000000003 66.7H469.3M462.90000000000003 63.9H469.3M462.90000000000003 61.5H469.3M462.90000000000003 59.4H469.3M462.1 98.9H469.3M462.90000000000003 127.8H469.3M462.90000000000003 120.5H469.3M462.90000000000003 115.4H469.3M462.90000000000003 111.4H469.3M462.90000000000003 108.1H469.3M462.90000000000003 105.3H469.3M462.90000000000003 102.9H469.3M462.90000000000003 100.8H469.3M462.1 140.3H469.3M462.90000000000003 169.2H469.3M462.90000000000003 161.9H469.3M462.90000000000003 156.8H469.3M462.90000000000003 152.8H469.3M462.90000000000003 149.5H469.3M462.90000000000003 146.7H469.3M462.90000000000003 144.3H469.3M462.90000000000003 142.2H469.3M462.1 181.7H469.3M462.90000000000003 210.6H469.3M462.90000000000003 203.3H469.3M462.90000000000003 198.2H469.3M462.90000000000003 194.2H469.3M462.90000000000003 190.9H469.3M462.90000000000003 188.1H469.3M462.90000000000003 185.7H469.3M462.90000000000003 183.6H469.3M462.1 223.1H469.3M462.90000000000003 252.0H469.3M462.90000000000003 244.7H469.3M462.90000000000003 239.6H469.3M462.90000000000003 235.6H469.3M462.90000000000003 232.3H469.3M462.90000000000003 229.5H469.3M462.90000000000003 227.1H469.3M462.90000000000003 225.0H469.3M473.1 258.8V266.0M480.4 258.8V266.0M485.5 258.8V266.0M489.5 258.8V266.0M492.8 258.8V266.0M495.6 258.8V266.0M498.0 258.8V266.0M500.1 258.8V266.0M502.0 258.8V266.6M514.5 258.8V266.0M521.8 258.8V266.0M526.9 258.8V266.0M530.9 258.8V266.0M534.2 258.8V266.0M537.0 258.8V266.0M539.4 258.8V266.0M541.5 258.8V266.0M543.4 258.8V266.6M555.9 258.8V266.0M563.2 258.8V266.0M568.3 258.8V266.0M572.3 258.8V266.0M575.6 258.8V266.0M578.4 258.8V266.0M580.8 258.8V266.0M582.9 258.8V266.0M584.8 258.8V266.6M597.3 258.8V266.0M604.6 258.8V266.0M609.7 258.8V266.0M613.7 258.8V266.0M617.0 258.8V266.0M619.8 258.8V266.0M622.2 258.8V266.0M624.3 258.8V266.0M626.2 258.8V266.6M638.7 258.8V266.0M646.0 258.8V266.0M651.1 258.8V266.0M655.1 258.8V266.0M658.4 258.8V266.0M661.2 258.8V266.0M663.6 258.8V266.0M665.7 258.8V266.0M667.6 258.8V266.6" fill="none" stroke="#727272" stroke-width="1.3"/>
<path d="M513.9000000000001 46.0l2 2 M575.6 48.1l2.2 -2.2" stroke="#111" stroke-width="1.7" fill="none"/>
<path d="M472.3 45.6H509.3 M527.3 45.6H573.3" stroke="#bbb" stroke-width="0.9" stroke-dasharray="3 4 1 3 5 2" fill="none"/>
<path d="M462.3 269.6h2 M472.3 269.6h1.5 M501.3 269.6h1.5 M543.3 269.6h2 M584.3 269.6h3 M625.3 269.6h2 M667.3 269.6h6" stroke="#ccc" stroke-width="0.9" fill="none"/>
<path d="M455.3 50.2v2 M455.3 71.2v1.5 M455.3 99.2v2 M455.3 113.2v1.5 M455.3 140.2v2 M455.3 154.2v1.5 M455.3 181.2v2 M455.3 223.2v2 M455.3 251.2v2" stroke="#ddd" stroke-width="0.9" fill="none"/>
<text class="pc" transform="translate(627.24,81.1) scale(0.8411,1)" font-size="19.6">16.5%</text>
<g filter="url(#bl)"><path d="M469.9 234.5h1.2M474.9 245.5h1.2M475.9 217.5h1.2M475.9 244.5h1.2M476.9 196.5h1.2M476.9 239.5h1.2M476.9 250.5h1.2M477.9 232.5h1.2M477.9 250.5h1.2M478.9 215.5h1.2M478.9 241.5h1.2M478.9 247.5h1.2M479.9 195.5h1.2M479.9 227.5h1.2M479.9 231.5h1.2M479.9 239.5h1.2M479.9 245.5h1.2M480.9 224.5h1.2M480.9 227.5h1.2M480.9 229.5h1.2M480.9 230.5h1.2M480.9 233.5h1.2M480.9 237.5h1.2M480.9 238.5h1.2M480.9 242.5h1.2M480.9 243.5h1.2M481.9 216.5h1.2M481.9 232.5h1.2M481.9 234.5h1.2M481.9 235.5h1.2M481.9 243.5h1.2M481.9 244.5h1.2M481.9 247.5h1.2M481.9 251.5h1.2M482.9 224.5h1.2M482.9 227.5h1.2M482.9 233.5h1.2M482.9 237.5h1.2M482.9 239.5h1.2M482.9 244.5h1.2M482.9 254.5h1.2M482.9 256.5h1.2M483.9 202.5h1.2M483.9 209.5h1.2M483.9 224.5h1.2M483.9 226.5h1.2M483.9 233.5h1.2M483.9 234.5h1.2M483.9 237.5h1.2M483.9 238.5h1.2M483.9 239.5h1.2M483.9 243.5h1.2M483.9 246.5h1.2M483.9 247.5h1.2M483.9 249.5h1.2M484.9 193.5h1.2M484.9 213.5h1.2M484.9 225.5h1.2M484.9 226.5h1.2M484.9 227.5h1.2M484.9 229.5h1.2M484.9 230.5h1.2M484.9 231.5h1.2M484.9 233.5h1.2M484.9 235.5h1.2M484.9 236.5h1.2M484.9 239.5h1.2M484.9 241.5h1.2M484.9 246.5h1.2M484.9 253.5h1.2M485.9 188.5h1.2M485.9 227.5h1.2M485.9 228.5h1.2M485.9 229.5h1.2M485.9 231.5h1.2M485.9 232.5h1.2M485.9 233.5h1.2M485.9 236.5h1.2M485.9 240.5h1.2M485.9 245.5h1.2M485.9 249.5h1.2M486.9 199.5h1.2M486.9 200.5h1.2M486.9 204.5h1.2M486.9 209.5h1.2M486.9 215.5h1.2M486.9 220.5h1.2M486.9 222.5h1.2M486.9 224.5h1.2M486.9 225.5h1.2M486.9 227.5h1.2M486.9 230.5h1.2M486.9 231.5h1.2M486.9 232.5h1.2M486.9 233.5h1.2M486.9 234.5h1.2M486.9 235.5h1.2M486.9 236.5h1.2M486.9 237.5h1.2M486.9 238.5h1.2M486.9 243.5h1.2M486.9 244.5h1.2M486.9 248.5h1.2M487.9 188.5h1.2M487.9 198.5h1.2M487.9 200.5h1.2M487.9 208.5h1.2M487.9 209.5h1.2M487.9 210.5h1.2M487.9 215.5h1.2M487.9 220.5h1.2M487.9 222.5h1.2M487.9 223.5h1.2M487.9 224.5h1.2M487.9 226.5h1.2M487.9 227.5h1.2M487.9 230.5h1.2M487.9 232.5h1.2M487.9 234.5h1.2M487.9 236.5h1.2M487.9 238.5h1.2M487.9 239.5h1.2M487.9 244.5h1.2M487.9 246.5h1.2M487.9 248.5h1.2M487.9 252.5h1.2M487.9 254.5h1.2M488.9 193.5h1.2M488.9 197.5h1.2M488.9 202.5h1.2M488.9 210.5h1.2M488.9 219.5h1.2M488.9 221.5h1.2M488.9 223.5h1.2M488.9 226.5h1.2M488.9 227.5h1.2M488.9 228.5h1.2M488.9 230.5h1.2M488.9 231.5h1.2M488.9 232.5h1.2M488.9 233.5h1.2M488.9 234.5h1.2M488.9 235.5h1.2M488.9 236.5h1.2M488.9 237.5h1.2M488.9 238.5h1.2M488.9 239.5h1.2M488.9 240.5h1.2M488.9 242.5h1.2M488.9 245.5h1.2M488.9 247.5h1.2M488.9 248.5h1.2M489.9 183.5h1.2M489.9 187.5h1.2M489.9 194.5h1.2M489.9 197.5h1.2M489.9 198.5h1.2M489.9 199.5h1.2M489.9 201.5h1.2M489.9 205.5h1.2M489.9 209.5h1.2M489.9 216.5h1.2M489.9 217.5h1.2M489.9 219.5h1.2M489.9 225.5h1.2M489.9 226.5h1.2M489.9 227.5h1.2M489.9 228.5h1.2M489.9 229.5h1.2M489.9 230.5h1.2M489.9 231.5h1.2M489.9 232.5h1.2M489.9 233.5h1.2M489.9 234.5h1.2M489.9 236.5h1.2M489.9 237.5h1.2M489.9 238.5h1.2M489.9 239.5h1.2M489.9 240.5h1.2M489.9 241.5h1.2M489.9 244.5h1.2M489.9 248.5h1.2M489.9 249.5h1.2M489.9 250.5h1.2M490.9 194.5h1.2M490.9 200.5h1.2M490.9 201.5h1.2M490.9 204.5h1.2M490.9 216.5h1.2M490.9 217.5h1.2M490.9 222.5h1.2M490.9 223.5h1.2M490.9 224.5h1.2M490.9 226.5h1.2M490.9 227.5h1.2M490.9 228.5h1.2M490.9 229.5h1.2M490.9 232.5h1.2M490.9 233.5h1.2M490.9 234.5h1.2M490.9 236.5h1.2M490.9 240.5h1.2M490.9 241.5h1.2M490.9 243.5h1.2M490.9 250.5h1.2M490.9 251.5h1.2M491.9 186.5h1.2M491.9 191.5h1.2M491.9 192.5h1.2M491.9 193.5h1.2M491.9 195.5h1.2M491.9 200.5h1.2M491.9 203.5h1.2M491.9 207.5h1.2M491.9 215.5h1.2M491.9 220.5h1.2M491.9 223.5h1.2M491.9 224.5h1.2M491.9 225.5h1.2M491.9 227.5h1.2M491.9 228.5h1.2M491.9 229.5h1.2M491.9 230.5h1.2M491.9 231.5h1.2M491.9 232.5h1.2M491.9 233.5h1.2M491.9 236.5h1.2M491.9 237.5h1.2M491.9 238.5h1.2M491.9 239.5h1.2M491.9 241.5h1.2M491.9 242.5h1.2M491.9 243.5h1.2M491.9 244.5h1.2M491.9 246.5h1.2M491.9 249.5h1.2M492.9 190.5h1.2M492.9 192.5h1.2M492.9 194.5h1.2M492.9 198.5h1.2M492.9 203.5h1.2M492.9 204.5h1.2M492.9 205.5h1.2M492.9 208.5h1.2M492.9 217.5h1.2M492.9 220.5h1.2M492.9 221.5h1.2M492.9 222.5h1.2M492.9 224.5h1.2M492.9 225.5h1.2M492.9 226.5h1.2M492.9 227.5h1.2M492.9 229.5h1.2M492.9 230.5h1.2M492.9 231.5h1.2M492.9 232.5h1.2M492.9 233.5h1.2M492.9 234.5h1.2M492.9 235.5h1.2M492.9 236.5h1.2M492.9 237.5h1.2M492.9 238.5h1.2M492.9 239.5h1.2M492.9 241.5h1.2M492.9 242.5h1.2M492.9 243.5h1.2M492.9 244.5h1.2M492.9 245.5h1.2M492.9 246.5h1.2M492.9 249.5h1.2M492.9 250.5h1.2M492.9 253.5h1.2M492.9 255.5h1.2M492.9 256.5h1.2M493.9 188.5h1.2M493.9 190.5h1.2M493.9 193.5h1.2M493.9 197.5h1.2M493.9 198.5h1.2M493.9 200.5h1.2M493.9 202.5h1.2M493.9 203.5h1.2M493.9 213.5h1.2M493.9 218.5h1.2M493.9 222.5h1.2M493.9 226.5h1.2M493.9 227.5h1.2M493.9 228.5h1.2M493.9 229.5h1.2M493.9 231.5h1.2M493.9 232.5h1.2M493.9 233.5h1.2M493.9 235.5h1.2M493.9 236.5h1.2M493.9 237.5h1.2M493.9 238.5h1.2M493.9 240.5h1.2M493.9 241.5h1.2M493.9 242.5h1.2M493.9 243.5h1.2M493.9 245.5h1.2M493.9 246.5h1.2M493.9 248.5h1.2M493.9 250.5h1.2M493.9 256.5h1.2M494.9 184.5h1.2M494.9 188.5h1.2M494.9 191.5h1.2M494.9 193.5h1.2M494.9 195.5h1.2M494.9 196.5h1.2M494.9 197.5h1.2M494.9 200.5h1.2M494.9 205.5h1.2M494.9 207.5h1.2M494.9 210.5h1.2M494.9 214.5h1.2M494.9 215.5h1.2M494.9 220.5h1.2M494.9 221.5h1.2M494.9 224.5h1.2M494.9 225.5h1.2M494.9 226.5h1.2M494.9 228.5h1.2M494.9 229.5h1.2M494.9 230.5h1.2M494.9 231.5h1.2M494.9 232.5h1.2M494.9 233.5h1.2M494.9 234.5h1.2M494.9 235.5h1.2M494.9 236.5h1.2M494.9 237.5h1.2M494.9 239.5h1.2M494.9 240.5h1.2M494.9 241.5h1.2M494.9 245.5h1.2M494.9 248.5h1.2M494.9 249.5h1.2M494.9 252.5h1.2M495.9 183.5h1.2M495.9 187.5h1.2M495.9 193.5h1.2M495.9 196.5h1.2M495.9 197.5h1.2M495.9 209.5h1.2M495.9 210.5h1.2M495.9 215.5h1.2M495.9 216.5h1.2M495.9 218.5h1.2M495.9 219.5h1.2M495.9 221.5h1.2M495.9 222.5h1.2M495.9 223.5h1.2M495.9 224.5h1.2M495.9 225.5h1.2M495.9 226.5h1.2M495.9 227.5h1.2M495.9 228.5h1.2M495.9 229.5h1.2M495.9 230.5h1.2M495.9 231.5h1.2M495.9 232.5h1.2M495.9 233.5h1.2M495.9 234.5h1.2M495.9 235.5h1.2M495.9 236.5h1.2M495.9 237.5h1.2M495.9 238.5h1.2M495.9 239.5h1.2M495.9 240.5h1.2M495.9 241.5h1.2M495.9 242.5h1.2M495.9 245.5h1.2M495.9 249.5h1.2M495.9 251.5h1.2M495.9 252.5h1.2M495.9 256.5h1.2M496.9 182.5h1.2M496.9 188.5h1.2M496.9 189.5h1.2M496.9 190.5h1.2M496.9 198.5h1.2M496.9 199.5h1.2M496.9 207.5h1.2M496.9 210.5h1.2M496.9 218.5h1.2M496.9 219.5h1.2M496.9 220.5h1.2M496.9 222.5h1.2M496.9 223.5h1.2M496.9 224.5h1.2M496.9 225.5h1.2M496.9 226.5h1.2M496.9 227.5h1.2M496.9 228.5h1.2M496.9 229.5h1.2M496.9 230.5h1.2M496.9 231.5h1.2M496.9 232.5h1.2M496.9 233.5h1.2M496.9 234.5h1.2M496.9 235.5h1.2M496.9 236.5h1.2M496.9 237.5h1.2M496.9 238.5h1.2M496.9 239.5h1.2M496.9 240.5h1.2M496.9 241.5h1.2M496.9 242.5h1.2M496.9 243.5h1.2M496.9 245.5h1.2M496.9 246.5h1.2M496.9 248.5h1.2M496.9 249.5h1.2M496.9 250.5h1.2M496.9 251.5h1.2M496.9 252.5h1.2M497.9 180.5h1.2M497.9 182.5h1.2M497.9 186.5h1.2M497.9 190.5h1.2M497.9 194.5h1.2M497.9 195.5h1.2M497.9 200.5h1.2M497.9 203.5h1.2M497.9 204.5h1.2M497.9 206.5h1.2M497.9 211.5h1.2M497.9 215.5h1.2M497.9 216.5h1.2M497.9 217.5h1.2M497.9 219.5h1.2M497.9 221.5h1.2M497.9 222.5h1.2M497.9 223.5h1.2M497.9 224.5h1.2M497.9 225.5h1.2M497.9 226.5h1.2M497.9 227.5h1.2M497.9 229.5h1.2M497.9 230.5h1.2M497.9 231.5h1.2M497.9 232.5h1.2M497.9 233.5h1.2M497.9 234.5h1.2M497.9 235.5h1.2M497.9 236.5h1.2M497.9 237.5h1.2M497.9 238.5h1.2M497.9 239.5h1.2M497.9 241.5h1.2M497.9 242.5h1.2M497.9 243.5h1.2M497.9 245.5h1.2M497.9 247.5h1.2M497.9 249.5h1.2M497.9 250.5h1.2M498.9 186.5h1.2M498.9 189.5h1.2M498.9 194.5h1.2M498.9 196.5h1.2M498.9 198.5h1.2M498.9 200.5h1.2M498.9 201.5h1.2M498.9 202.5h1.2M498.9 208.5h1.2M498.9 212.5h1.2M498.9 215.5h1.2M498.9 217.5h1.2M498.9 220.5h1.2M498.9 221.5h1.2M498.9 223.5h1.2M498.9 224.5h1.2M498.9 225.5h1.2M498.9 226.5h1.2M498.9 228.5h1.2M498.9 229.5h1.2M498.9 230.5h1.2M498.9 231.5h1.2M498.9 232.5h1.2M498.9 233.5h1.2M498.9 234.5h1.2M498.9 235.5h1.2M498.9 236.5h1.2M498.9 237.5h1.2M498.9 238.5h1.2M498.9 239.5h1.2M498.9 242.5h1.2M498.9 243.5h1.2M498.9 244.5h1.2M498.9 245.5h1.2M498.9 247.5h1.2M498.9 248.5h1.2M498.9 249.5h1.2M498.9 251.5h1.2M498.9 252.5h1.2M499.9 187.5h1.2M499.9 188.5h1.2M499.9 190.5h1.2M499.9 195.5h1.2M499.9 196.5h1.2M499.9 202.5h1.2M499.9 207.5h1.2M499.9 211.5h1.2M499.9 212.5h1.2M499.9 215.5h1.2M499.9 217.5h1.2M499.9 219.5h1.2M499.9 220.5h1.2M499.9 221.5h1.2M499.9 222.5h1.2M499.9 223.5h1.2M499.9 225.5h1.2M499.9 226.5h1.2M499.9 227.5h1.2M499.9 228.5h1.2M499.9 229.5h1.2M499.9 230.5h1.2M499.9 231.5h1.2M499.9 232.5h1.2M499.9 234.5h1.2M499.9 235.5h1.2M499.9 236.5h1.2M499.9 237.5h1.2M499.9 238.5h1.2M499.9 239.5h1.2M499.9 240.5h1.2M499.9 241.5h1.2M499.9 242.5h1.2M499.9 243.5h1.2M499.9 244.5h1.2M499.9 246.5h1.2M499.9 247.5h1.2M499.9 250.5h1.2M499.9 256.5h1.2M500.9 194.5h1.2M500.9 195.5h1.2M500.9 200.5h1.2M500.9 201.5h1.2M500.9 203.5h1.2M500.9 205.5h1.2M500.9 209.5h1.2M500.9 213.5h1.2M500.9 215.5h1.2M500.9 216.5h1.2M500.9 218.5h1.2M500.9 219.5h1.2M500.9 220.5h1.2M500.9 221.5h1.2M500.9 222.5h1.2M500.9 223.5h1.2M500.9 225.5h1.2M500.9 226.5h1.2M500.9 227.5h1.2M500.9 228.5h1.2M500.9 230.5h1.2M500.9 231.5h1.2M500.9 232.5h1.2M500.9 233.5h1.2M500.9 234.5h1.2M500.9 235.5h1.2M500.9 237.5h1.2M500.9 238.5h1.2M500.9 240.5h1.2M500.9 241.5h1.2M500.9 242.5h1.2M500.9 243.5h1.2M500.9 245.5h1.2M500.9 246.5h1.2M500.9 253.5h1.2M500.9 256.5h1.2M501.9 185.5h1.2M501.9 188.5h1.2M501.9 191.5h1.2M501.9 197.5h1.2M501.9 200.5h1.2M501.9 203.5h1.2M501.9 206.5h1.2M501.9 210.5h1.2M501.9 220.5h1.2M501.9 222.5h1.2M501.9 223.5h1.2M501.9 224.5h1.2M501.9 225.5h1.2M501.9 226.5h1.2M501.9 227.5h1.2M501.9 228.5h1.2M501.9 229.5h1.2M501.9 230.5h1.2M501.9 231.5h1.2M501.9 232.5h1.2M501.9 233.5h1.2M501.9 234.5h1.2M501.9 235.5h1.2M501.9 236.5h1.2M501.9 237.5h1.2M501.9 238.5h1.2M501.9 239.5h1.2M501.9 240.5h1.2M501.9 241.5h1.2M501.9 243.5h1.2M501.9 244.5h1.2M501.9 246.5h1.2M501.9 247.5h1.2M501.9 248.5h1.2M502.9 195.5h1.2M502.9 205.5h1.2M502.9 208.5h1.2M502.9 215.5h1.2M502.9 216.5h1.2M502.9 217.5h1.2M502.9 218.5h1.2M502.9 224.5h1.2M502.9 225.5h1.2M502.9 226.5h1.2M502.9 227.5h1.2M502.9 228.5h1.2M502.9 229.5h1.2M502.9 230.5h1.2M502.9 231.5h1.2M502.9 232.5h1.2M502.9 234.5h1.2M502.9 235.5h1.2M502.9 236.5h1.2M502.9 237.5h1.2M502.9 238.5h1.2M502.9 239.5h1.2M502.9 240.5h1.2M502.9 241.5h1.2M502.9 242.5h1.2M502.9 243.5h1.2M502.9 245.5h1.2M502.9 247.5h1.2M502.9 250.5h1.2M503.9 189.5h1.2M503.9 193.5h1.2M503.9 194.5h1.2M503.9 195.5h1.2M503.9 196.5h1.2M503.9 198.5h1.2M503.9 207.5h1.2M503.9 213.5h1.2M503.9 216.5h1.2M503.9 217.5h1.2M503.9 218.5h1.2M503.9 220.5h1.2M503.9 221.5h1.2M503.9 222.5h1.2M503.9 223.5h1.2M503.9 224.5h1.2M503.9 225.5h1.2M503.9 226.5h1.2M503.9 227.5h1.2M503.9 228.5h1.2M503.9 229.5h1.2M503.9 230.5h1.2M503.9 231.5h1.2M503.9 232.5h1.2M503.9 233.5h1.2M503.9 234.5h1.2M503.9 235.5h1.2M503.9 236.5h1.2M503.9 237.5h1.2M503.9 238.5h1.2M503.9 239.5h1.2M503.9 240.5h1.2M503.9 241.5h1.2M503.9 242.5h1.2M503.9 246.5h1.2M503.9 253.5h1.2M503.9 257.5h1.2M504.9 190.5h1.2M504.9 199.5h1.2M504.9 201.5h1.2M504.9 215.5h1.2M504.9 220.5h1.2M504.9 221.5h1.2M504.9 223.5h1.2M504.9 224.5h1.2M504.9 225.5h1.2M504.9 226.5h1.2M504.9 228.5h1.2M504.9 229.5h1.2M504.9 230.5h1.2M504.9 231.5h1.2M504.9 232.5h1.2M504.9 235.5h1.2M504.9 236.5h1.2M504.9 237.5h1.2M504.9 241.5h1.2M504.9 243.5h1.2M504.9 244.5h1.2M504.9 245.5h1.2M504.9 247.5h1.2M504.9 250.5h1.2M504.9 253.5h1.2M504.9 254.5h1.2M505.9 196.5h1.2M505.9 200.5h1.2M505.9 201.5h1.2M505.9 205.5h1.2M505.9 213.5h1.2M505.9 214.5h1.2M505.9 217.5h1.2M505.9 219.5h1.2M505.9 220.5h1.2M505.9 221.5h1.2M505.9 223.5h1.2M505.9 224.5h1.2M505.9 225.5h1.2M505.9 226.5h1.2M505.9 227.5h1.2M505.9 228.5h1.2M505.9 230.5h1.2M505.9 231.5h1.2M505.9 233.5h1.2M505.9 235.5h1.2M505.9 236.5h1.2M505.9 238.5h1.2M505.9 239.5h1.2M505.9 241.5h1.2M505.9 242.5h1.2M505.9 244.5h1.2M505.9 246.5h1.2M505.9 247.5h1.2M505.9 248.5h1.2M505.9 254.5h1.2M505.9 256.5h1.2M505.9 257.5h1.2M506.9 187.5h1.2M506.9 192.5h1.2M506.9 195.5h1.2M506.9 198.5h1.2M506.9 202.5h1.2M506.9 204.5h1.2M506.9 215.5h1.2M506.9 217.5h1.2M506.9 222.5h1.2M506.9 223.5h1.2M506.9 224.5h1.2M506.9 225.5h1.2M506.9 227.5h1.2M506.9 228.5h1.2M506.9 229.5h1.2M506.9 231.5h1.2M506.9 232.5h1.2M506.9 233.5h1.2M506.9 234.5h1.2M506.9 235.5h1.2M506.9 236.5h1.2M506.9 237.5h1.2M506.9 238.5h1.2M506.9 239.5h1.2M506.9 240.5h1.2M506.9 244.5h1.2M506.9 245.5h1.2M506.9 254.5h1.2M507.9 200.5h1.2M507.9 202.5h1.2M507.9 204.5h1.2M507.9 213.5h1.2M507.9 216.5h1.2M507.9 218.5h1.2M507.9 219.5h1.2M507.9 223.5h1.2M507.9 224.5h1.2M507.9 225.5h1.2M507.9 226.5h1.2M507.9 227.5h1.2M507.9 228.5h1.2M507.9 229.5h1.2M507.9 230.5h1.2M507.9 232.5h1.2M507.9 233.5h1.2M507.9 235.5h1.2M507.9 236.5h1.2M507.9 239.5h1.2M507.9 241.5h1.2M507.9 249.5h1.2M507.9 251.5h1.2M508.9 192.5h1.2M508.9 200.5h1.2M508.9 217.5h1.2M508.9 223.5h1.2M508.9 225.5h1.2M508.9 229.5h1.2M508.9 230.5h1.2M508.9 234.5h1.2M508.9 235.5h1.2M508.9 238.5h1.2M508.9 239.5h1.2M508.9 241.5h1.2M508.9 244.5h1.2M508.9 245.5h1.2M508.9 250.5h1.2M509.9 191.5h1.2M509.9 203.5h1.2M509.9 213.5h1.2M509.9 217.5h1.2M509.9 219.5h1.2M509.9 222.5h1.2M509.9 229.5h1.2M509.9 232.5h1.2M509.9 233.5h1.2M509.9 235.5h1.2M509.9 236.5h1.2M509.9 237.5h1.2M509.9 239.5h1.2M509.9 240.5h1.2M509.9 242.5h1.2M509.9 248.5h1.2M510.9 205.5h1.2M510.9 213.5h1.2M510.9 214.5h1.2M510.9 217.5h1.2M510.9 222.5h1.2M510.9 224.5h1.2M510.9 225.5h1.2M510.9 227.5h1.2M510.9 230.5h1.2M510.9 232.5h1.2M510.9 234.5h1.2M510.9 245.5h1.2M510.9 247.5h1.2M510.9 248.5h1.2M510.9 249.5h1.2M510.9 253.5h1.2M511.9 181.5h1.2M511.9 196.5h1.2M511.9 213.5h1.2M511.9 215.5h1.2M511.9 220.5h1.2M511.9 221.5h1.2M511.9 222.5h1.2M511.9 223.5h1.2M511.9 224.5h1.2M511.9 225.5h1.2M511.9 227.5h1.2M511.9 229.5h1.2M511.9 232.5h1.2M511.9 234.5h1.2M511.9 235.5h1.2M511.9 236.5h1.2M511.9 237.5h1.2M511.9 239.5h1.2M511.9 240.5h1.2M511.9 243.5h1.2M512.9 187.5h1.2M512.9 199.5h1.2M512.9 218.5h1.2M512.9 220.5h1.2M512.9 228.5h1.2M512.9 229.5h1.2M512.9 231.5h1.2M512.9 234.5h1.2M512.9 236.5h1.2M512.9 237.5h1.2M512.9 245.5h1.2M513.9 218.5h1.2M513.9 222.5h1.2M513.9 227.5h1.2M513.9 230.5h1.2M513.9 234.5h1.2M513.9 236.5h1.2M513.9 240.5h1.2M513.9 241.5h1.2M513.9 250.5h1.2M514.9 240.5h1.2M515.9 199.5h1.2M515.9 223.5h1.2M515.9 233.5h1.2M515.9 234.5h1.2M515.9 241.5h1.2M515.9 242.5h1.2M516.9 219.5h1.2M516.9 229.5h1.2M516.9 230.5h1.2M516.9 234.5h1.2M516.9 235.5h1.2M516.9 240.5h1.2M516.9 246.5h1.2M517.9 225.5h1.2M517.9 229.5h1.2M518.9 226.5h1.2M522.9 239.5h1.2M524.9 233.5h1.2M527.9 252.5h1.2M540.9 221.5h1.2M541.9 207.5h1.2M546.9 199.5h1.2M546.9 205.5h1.2M547.9 188.5h1.2M548.9 190.5h1.2M548.9 193.5h1.2M550.9 195.5h1.2M550.9 197.5h1.2M550.9 205.5h1.2M550.9 218.5h1.2M550.9 225.5h1.2M551.9 201.5h1.2M552.9 190.5h1.2M552.9 201.5h1.2M552.9 203.5h1.2M552.9 205.5h1.2M553.9 195.5h1.2M553.9 202.5h1.2M554.9 210.5h1.2M555.9 185.5h1.2M555.9 200.5h1.2M559.9 176.5h1.2M563.9 177.5h1.2" stroke="#111" stroke-opacity="0.9" stroke-width="1.2" fill="none"/>
<path d="M548.9 200.5h1.3M549.9 193.5h1.3M546.9 200.5h1.3M557.9 196.5h1.3M552.9 197.5h1.3M548.9 195.5h1.3M552.9 197.5h1.3M554.9 190.5h1.3M552.9 205.5h1.3M551.9 186.5h1.3M556.9 187.5h1.3M552.9 201.5h1.3M550.9 190.5h1.3M551.9 197.5h1.3M553.9 191.5h1.3M551.9 201.5h1.3M547.9 188.5h1.3M552.9 195.5h1.3M550.9 195.5h1.3M554.9 192.5h1.3M551.9 196.5h1.3M551.9 190.5h1.3M548.9 197.5h1.3M552.9 188.5h1.3M550.9 204.5h1.3M548.9 206.5h1.3M548.9 194.5h1.3M556.9 194.5h1.3M552.9 199.5h1.3M550.9 201.5h1.3M552.9 195.5h1.3M551.9 201.5h1.3M551.9 200.5h1.3M552.9 191.5h1.3M555.9 191.5h1.3M554.9 183.5h1.3M546.9 212.5h1.3M553.9 189.5h1.3M549.9 205.5h1.3M550.9 201.5h1.3M560.9 196.5h1.3M550.9 197.5h1.3M553.9 194.5h1.3M552.9 200.5h1.3M547.9 197.5h1.3M549.9 200.5h1.3M548.9 194.5h1.3M550.9 192.5h1.3M547.9 195.5h1.3M551.9 197.5h1.3M551.9 189.5h1.3M555.9 192.5h1.3M554.9 180.5h1.3M553.9 185.5h1.3M548.9 202.5h1.3M549.9 197.5h1.3M550.9 210.5h1.3M546.9 203.5h1.3M556.9 190.5h1.3M551.9 195.5h1.3M547.9 198.5h1.3M550.9 202.5h1.3M549.9 199.5h1.3M548.9 199.5h1.3M552.9 203.5h1.3M551.9 203.5h1.3M543.9 199.5h1.3M549.9 202.5h1.3M550.9 197.5h1.3M552.9 187.5h1.3M554.9 202.5h1.3M550.9 192.5h1.3M547.9 205.5h1.3M548.9 210.5h1.3M555.9 191.5h1.3M545.9 207.5h1.3M548.9 206.5h1.3M548.9 206.5h1.3M555.9 187.5h1.3M555.9 204.5h1.3M550.9 208.5h1.3M550.9 195.5h1.3M549.9 194.5h1.3M545.9 193.5h1.3M551.9 198.5h1.3M549.9 214.5h1.3M553.9 194.5h1.3M552.9 188.5h1.3M558.9 185.5h1.3M547.9 200.5h1.3M554.9 197.5h1.3M551.9 200.5h1.3M551.9 191.5h1.3M553.9 198.5h1.3M550.9 190.5h1.3M547.9 203.5h1.3M550.9 204.5h1.3M554.9 203.5h1.3M552.9 201.5h1.3M551.9 190.5h1.3M554.9 202.5h1.3M555.9 207.5h1.3M551.9 199.5h1.3M550.9 203.5h1.3M549.9 195.5h1.3M547.9 202.5h1.3M547.9 199.5h1.3M547.9 203.5h1.3M546.9 201.5h1.3M555.9 194.5h1.3M553.9 191.5h1.3M546.9 192.5h1.3M552.9 199.5h1.3M554.9 190.5h1.3M550.9 191.5h1.3M549.9 196.5h1.3M543.9 210.5h1.3M552.9 202.5h1.3M550.9 183.5h1.3M549.9 200.5h1.3M553.9 200.5h1.3M549.9 193.5h1.3M556.9 179.5h1.3M553.9 191.5h1.3M547.9 197.5h1.3M551.9 208.5h1.3M547.9 201.5h1.3M550.9 194.5h1.3M549.9 193.5h1.3M551.9 199.5h1.3M549.9 199.5h1.3M550.9 205.5h1.3M554.9 178.5h1.3M554.9 197.5h1.3M551.9 194.5h1.3M554.9 193.5h1.3M550.9 193.5h1.3M554.9 192.5h1.3M548.9 192.5h1.3M548.9 200.5h1.3M551.9 199.5h1.3M552.9 205.5h1.3M552.9 193.5h1.3M557.9 189.5h1.3M554.9 200.5h1.3M546.9 193.5h1.3M549.9 206.5h1.3M551.9 197.5h1.3M551.9 201.5h1.3M556.9 187.5h1.3M551.9 193.5h1.3M551.9 208.5h1.3M547.9 193.5h1.3M552.9 198.5h1.3M548.9 195.5h1.3M549.9 191.5h1.3M553.9 198.5h1.3M548.9 203.5h1.3M552.9 198.5h1.3M552.9 193.5h1.3M548.9 210.5h1.3M549.9 202.5h1.3M547.9 196.5h1.3M554.9 197.5h1.3M551.9 211.5h1.3M550.9 201.5h1.3M552.9 193.5h1.3M548.9 200.5h1.3M547.9 202.5h1.3M551.9 184.5h1.3M550.9 185.5h1.3M549.9 204.5h1.3M554.9 199.5h1.3M548.9 204.5h1.3M550.9 205.5h1.3M552.9 197.5h1.3M551.9 187.5h1.3M553.9 196.5h1.3M551.9 194.5h1.3M553.9 204.5h1.3M553.9 202.5h1.3M551.9 194.5h1.3M550.9 198.5h1.3M556.9 194.5h1.3M549.9 195.5h1.3M555.9 201.5h1.3M554.9 198.5h1.3M551.9 193.5h1.3M552.9 192.5h1.3M545.9 208.5h1.3M546.9 206.5h1.3M554.9 196.5h1.3M551.9 201.5h1.3M555.9 186.5h1.3M559.9 191.5h1.3M552.9 195.5h1.3M552.9 189.5h1.3M556.9 189.5h1.3M553.9 195.5h1.3M551.9 192.5h1.3M547.9 204.5h1.3M555.9 185.5h1.3M552.9 189.5h1.3M548.9 202.5h1.3M548.9 202.5h1.3M552.9 207.5h1.3M551.9 193.5h1.3M553.9 191.5h1.3M546.9 203.5h1.3M546.9 202.5h1.3M548.9 190.5h1.3M548.9 210.5h1.3M549.9 198.5h1.3M544.9 202.5h1.3M557.9 198.5h1.3M552.9 194.5h1.3M548.9 200.5h1.3M554.9 197.5h1.3M552.9 198.5h1.3M552.9 194.5h1.3M555.9 198.5h1.3M549.9 201.5h1.3M557.9 181.5h1.3M548.9 201.5h1.3M551.9 183.5h1.3M547.9 202.5h1.3M552.9 194.5h1.3M549.9 204.5h1.3M550.9 196.5h1.3M551.9 208.5h1.3M548.9 195.5h1.3M554.9 192.5h1.3M555.9 192.5h1.3M551.9 199.5h1.3M551.9 201.5h1.3M552.9 191.5h1.3M544.9 211.5h1.3M555.9 194.5h1.3M549.9 195.5h1.3M555.9 188.5h1.3M553.9 204.5h1.3M554.9 198.5h1.3M553.9 190.5h1.3M553.9 192.5h1.3M553.9 202.5h1.3M556.9 191.5h1.3M549.9 193.5h1.3M548.9 194.5h1.3M552.9 197.5h1.3M553.9 196.5h1.3M552.9 194.5h1.3M554.9 187.5h1.3M551.9 191.5h1.3M552.9 196.5h1.3M550.9 185.5h1.3M553.9 195.5h1.3M553.9 199.5h1.3M550.9 205.5h1.3M549.9 196.5h1.3M551.9 190.5h1.3" stroke="#0a0a0a" stroke-opacity="0.95" stroke-width="1.35" fill="none"/>
<path d="M518.9 172.5h1.2M522.9 195.5h1.2M524.9 195.5h1.2M524.9 215.5h1.2M527.9 196.5h1.2M527.9 215.5h1.2M528.9 215.5h1.2M534.9 175.5h1.2M534.9 234.5h1.2M535.9 172.5h1.2M537.9 202.5h1.2M538.9 175.5h1.2M539.9 249.5h1.2M541.9 252.5h1.2M543.9 175.5h1.2M548.9 189.5h1.2M550.9 248.5h1.2M551.9 201.5h1.2M552.9 234.5h1.2M552.9 241.5h1.2M557.9 175.5h1.2M557.9 249.5h1.2M557.9 250.5h1.2M558.9 179.5h1.2M560.9 182.5h1.2M560.9 224.5h1.2M561.9 166.5h1.2M561.9 200.5h1.2M568.9 185.5h1.2M569.9 204.5h1.2M570.9 182.5h1.2M572.9 242.5h1.2M573.9 175.5h1.2M574.9 184.5h1.2M575.9 203.5h1.2M580.9 172.5h1.2M582.9 226.5h1.2M585.9 222.5h1.2M587.9 227.5h1.2M588.9 220.5h1.2" stroke="#555" stroke-opacity="0.4" stroke-width="1.1" fill="none"/></g></g>
<g><path d="M711.1999999999999 47.2H924.2 M924.2 47.2V266.5 M711.1999999999999 258.7H924.2 M718.4 47.2V266.5" fill="none" stroke="#727272" stroke-width="1.35"/>
<path d="M763.4 47.2V266.5 M711.1999999999999 211.7H924.2" fill="none" stroke="#727272" stroke-width="1.45"/>
<path d="M711.1999999999999 57.5H718.4M712.0 86.4H718.4M712.0 79.1H718.4M712.0 74.0H718.4M712.0 70.0H718.4M712.0 66.7H718.4M712.0 63.9H718.4M712.0 61.5H718.4M712.0 59.4H718.4M711.1999999999999 98.9H718.4M712.0 127.8H718.4M712.0 120.5H718.4M712.0 115.4H718.4M712.0 111.4H718.4M712.0 108.1H718.4M712.0 105.3H718.4M712.0 102.9H718.4M712.0 100.8H718.4M711.1999999999999 140.3H718.4M712.0 169.2H718.4M712.0 161.9H718.4M712.0 156.8H718.4M712.0 152.8H718.4M712.0 149.5H718.4M712.0 146.7H718.4M712.0 144.3H718.4M712.0 142.2H718.4M711.1999999999999 181.7H718.4M712.0 210.6H718.4M712.0 203.3H718.4M712.0 198.2H718.4M712.0 194.2H718.4M712.0 190.9H718.4M712.0 188.1H718.4M712.0 185.7H718.4M712.0 183.6H718.4M711.1999999999999 223.1H718.4M712.0 252.0H718.4M712.0 244.7H718.4M712.0 239.6H718.4M712.0 235.6H718.4M712.0 232.3H718.4M712.0 229.5H718.4M712.0 227.1H718.4M712.0 225.0H718.4M722.2 258.7V265.9M729.5 258.7V265.9M734.6 258.7V265.9M738.6 258.7V265.9M741.9 258.7V265.9M744.7 258.7V265.9M747.1 258.7V265.9M749.2 258.7V265.9M751.1 258.7V266.5M763.6 258.7V265.9M770.9 258.7V265.9M776.0 258.7V265.9M780.0 258.7V265.9M783.3 258.7V265.9M786.1 258.7V265.9M788.5 258.7V265.9M790.6 258.7V265.9M792.5 258.7V266.5M805.0 258.7V265.9M812.3 258.7V265.9M817.4 258.7V265.9M821.4 258.7V265.9M824.7 258.7V265.9M827.5 258.7V265.9M829.9 258.7V265.9M832.0 258.7V265.9M833.9 258.7V266.5M846.4 258.7V265.9M853.7 258.7V265.9M858.8 258.7V265.9M862.8 258.7V265.9M866.1 258.7V265.9M868.9 258.7V265.9M871.3 258.7V265.9M873.4 258.7V265.9M875.3 258.7V266.5M887.8 258.7V265.9M895.1 258.7V265.9M900.2 258.7V265.9M904.2 258.7V265.9M907.5 258.7V265.9M910.3 258.7V265.9M912.7 258.7V265.9M914.8 258.7V265.9M916.7 258.7V266.5" fill="none" stroke="#727272" stroke-width="1.3"/>
<path d="M762.6 46.0l2 2 M824.3 48.1l2.2 -2.2" stroke="#111" stroke-width="1.7" fill="none"/>
<path d="M721.4 45.6H758.4 M776.4 45.6H822.4" stroke="#bbb" stroke-width="0.9" stroke-dasharray="3 4 1 3 5 2" fill="none"/>
<path d="M711.4 269.5h2 M721.4 269.5h1.5 M750.4 269.5h1.5 M792.4 269.5h2 M833.4 269.5h3 M874.4 269.5h2 M916.4 269.5h6" stroke="#ccc" stroke-width="0.9" fill="none"/>
<path d="M704.4 50.2v2 M704.4 71.2v1.5 M704.4 99.2v2 M704.4 113.2v1.5 M704.4 140.2v2 M704.4 154.2v1.5 M704.4 181.2v2 M704.4 223.2v2 M704.4 251.2v2" stroke="#ddd" stroke-width="0.9" fill="none"/>
<text class="pc" transform="translate(876.48,81.1) scale(0.8332,1)" font-size="19.6">29.9%</text>
<g filter="url(#bl)"><path d="M718.9 237.5h1.2M719.9 226.5h1.2M719.9 249.5h1.2M720.9 213.5h1.2M720.9 231.5h1.2M720.9 244.5h1.2M721.9 242.5h1.2M723.9 220.5h1.2M723.9 225.5h1.2M723.9 233.5h1.2M724.9 177.5h1.2M725.9 220.5h1.2M725.9 234.5h1.2M725.9 240.5h1.2M725.9 241.5h1.2M725.9 252.5h1.2M725.9 254.5h1.2M726.9 194.5h1.2M726.9 200.5h1.2M726.9 201.5h1.2M726.9 223.5h1.2M726.9 224.5h1.2M726.9 227.5h1.2M726.9 236.5h1.2M726.9 240.5h1.2M726.9 245.5h1.2M726.9 247.5h1.2M727.9 190.5h1.2M727.9 202.5h1.2M727.9 227.5h1.2M727.9 234.5h1.2M727.9 236.5h1.2M727.9 237.5h1.2M727.9 238.5h1.2M727.9 239.5h1.2M727.9 246.5h1.2M727.9 254.5h1.2M728.9 203.5h1.2M728.9 208.5h1.2M728.9 224.5h1.2M728.9 227.5h1.2M728.9 236.5h1.2M728.9 241.5h1.2M728.9 246.5h1.2M729.9 193.5h1.2M729.9 194.5h1.2M729.9 195.5h1.2M729.9 198.5h1.2M729.9 205.5h1.2M729.9 206.5h1.2M729.9 221.5h1.2M729.9 223.5h1.2M729.9 226.5h1.2M729.9 227.5h1.2M729.9 230.5h1.2M729.9 236.5h1.2M729.9 237.5h1.2M729.9 239.5h1.2M729.9 248.5h1.2M730.9 195.5h1.2M730.9 205.5h1.2M730.9 222.5h1.2M730.9 223.5h1.2M730.9 225.5h1.2M730.9 226.5h1.2M730.9 232.5h1.2M730.9 234.5h1.2M730.9 235.5h1.2M730.9 236.5h1.2M730.9 240.5h1.2M730.9 241.5h1.2M730.9 244.5h1.2M730.9 247.5h1.2M730.9 251.5h1.2M731.9 191.5h1.2M731.9 192.5h1.2M731.9 199.5h1.2M731.9 201.5h1.2M731.9 202.5h1.2M731.9 211.5h1.2M731.9 226.5h1.2M731.9 228.5h1.2M731.9 232.5h1.2M731.9 233.5h1.2M731.9 236.5h1.2M731.9 237.5h1.2M731.9 241.5h1.2M731.9 245.5h1.2M731.9 247.5h1.2M732.9 189.5h1.2M732.9 207.5h1.2M732.9 215.5h1.2M732.9 221.5h1.2M732.9 224.5h1.2M732.9 228.5h1.2M732.9 229.5h1.2M732.9 230.5h1.2M732.9 231.5h1.2M732.9 232.5h1.2M732.9 233.5h1.2M732.9 234.5h1.2M732.9 235.5h1.2M732.9 237.5h1.2M732.9 242.5h1.2M732.9 243.5h1.2M732.9 246.5h1.2M732.9 247.5h1.2M732.9 248.5h1.2M733.9 174.5h1.2M733.9 193.5h1.2M733.9 220.5h1.2M733.9 223.5h1.2M733.9 224.5h1.2M733.9 225.5h1.2M733.9 231.5h1.2M733.9 233.5h1.2M733.9 235.5h1.2M733.9 236.5h1.2M733.9 240.5h1.2M733.9 241.5h1.2M733.9 242.5h1.2M733.9 243.5h1.2M733.9 244.5h1.2M733.9 246.5h1.2M734.9 193.5h1.2M734.9 195.5h1.2M734.9 196.5h1.2M734.9 205.5h1.2M734.9 212.5h1.2M734.9 214.5h1.2M734.9 216.5h1.2M734.9 217.5h1.2M734.9 218.5h1.2M734.9 223.5h1.2M734.9 227.5h1.2M734.9 229.5h1.2M734.9 231.5h1.2M734.9 232.5h1.2M734.9 233.5h1.2M734.9 234.5h1.2M734.9 236.5h1.2M734.9 240.5h1.2M734.9 241.5h1.2M734.9 248.5h1.2M735.9 192.5h1.2M735.9 202.5h1.2M735.9 219.5h1.2M735.9 222.5h1.2M735.9 223.5h1.2M735.9 224.5h1.2M735.9 225.5h1.2M735.9 226.5h1.2M735.9 227.5h1.2M735.9 228.5h1.2M735.9 230.5h1.2M735.9 231.5h1.2M735.9 232.5h1.2M735.9 235.5h1.2M735.9 237.5h1.2M735.9 238.5h1.2M735.9 239.5h1.2M735.9 240.5h1.2M735.9 242.5h1.2M735.9 244.5h1.2M735.9 245.5h1.2M735.9 246.5h1.2M735.9 247.5h1.2M736.9 191.5h1.2M736.9 195.5h1.2M736.9 204.5h1.2M736.9 205.5h1.2M736.9 212.5h1.2M736.9 217.5h1.2M736.9 219.5h1.2M736.9 220.5h1.2M736.9 221.5h1.2M736.9 223.5h1.2M736.9 224.5h1.2M736.9 225.5h1.2M736.9 226.5h1.2M736.9 228.5h1.2M736.9 231.5h1.2M736.9 232.5h1.2M736.9 234.5h1.2M736.9 235.5h1.2M736.9 236.5h1.2M736.9 238.5h1.2M736.9 239.5h1.2M736.9 241.5h1.2M736.9 242.5h1.2M736.9 245.5h1.2M736.9 250.5h1.2M736.9 251.5h1.2M737.9 192.5h1.2M737.9 201.5h1.2M737.9 202.5h1.2M737.9 203.5h1.2M737.9 220.5h1.2M737.9 223.5h1.2M737.9 224.5h1.2M737.9 225.5h1.2M737.9 226.5h1.2M737.9 227.5h1.2M737.9 228.5h1.2M737.9 230.5h1.2M737.9 231.5h1.2M737.9 232.5h1.2M737.9 233.5h1.2M737.9 235.5h1.2M737.9 237.5h1.2M737.9 240.5h1.2M737.9 241.5h1.2M737.9 244.5h1.2M737.9 246.5h1.2M737.9 251.5h1.2M737.9 254.5h1.2M738.9 186.5h1.2M738.9 187.5h1.2M738.9 193.5h1.2M738.9 196.5h1.2M738.9 197.5h1.2M738.9 199.5h1.2M738.9 215.5h1.2M738.9 216.5h1.2M738.9 217.5h1.2M738.9 218.5h1.2M738.9 221.5h1.2M738.9 224.5h1.2M738.9 225.5h1.2M738.9 226.5h1.2M738.9 227.5h1.2M738.9 228.5h1.2M738.9 229.5h1.2M738.9 230.5h1.2M738.9 231.5h1.2M738.9 232.5h1.2M738.9 233.5h1.2M738.9 234.5h1.2M738.9 236.5h1.2M738.9 238.5h1.2M738.9 240.5h1.2M738.9 244.5h1.2M738.9 250.5h1.2M738.9 251.5h1.2M738.9 255.5h1.2M739.9 187.5h1.2M739.9 191.5h1.2M739.9 197.5h1.2M739.9 199.5h1.2M739.9 204.5h1.2M739.9 205.5h1.2M739.9 214.5h1.2M739.9 217.5h1.2M739.9 218.5h1.2M739.9 226.5h1.2M739.9 227.5h1.2M739.9 228.5h1.2M739.9 230.5h1.2M739.9 231.5h1.2M739.9 232.5h1.2M739.9 233.5h1.2M739.9 234.5h1.2M739.9 235.5h1.2M739.9 237.5h1.2M739.9 238.5h1.2M739.9 240.5h1.2M739.9 241.5h1.2M739.9 243.5h1.2M739.9 244.5h1.2M739.9 245.5h1.2M739.9 248.5h1.2M739.9 249.5h1.2M739.9 252.5h1.2M739.9 255.5h1.2M740.9 190.5h1.2M740.9 192.5h1.2M740.9 195.5h1.2M740.9 196.5h1.2M740.9 197.5h1.2M740.9 198.5h1.2M740.9 204.5h1.2M740.9 206.5h1.2M740.9 212.5h1.2M740.9 216.5h1.2M740.9 217.5h1.2M740.9 219.5h1.2M740.9 223.5h1.2M740.9 224.5h1.2M740.9 225.5h1.2M740.9 227.5h1.2M740.9 228.5h1.2M740.9 229.5h1.2M740.9 230.5h1.2M740.9 232.5h1.2M740.9 233.5h1.2M740.9 235.5h1.2M740.9 237.5h1.2M740.9 240.5h1.2M740.9 242.5h1.2M740.9 246.5h1.2M740.9 248.5h1.2M740.9 249.5h1.2M740.9 250.5h1.2M740.9 256.5h1.2M741.9 184.5h1.2M741.9 193.5h1.2M741.9 197.5h1.2M741.9 198.5h1.2M741.9 200.5h1.2M741.9 205.5h1.2M741.9 217.5h1.2M741.9 218.5h1.2M741.9 220.5h1.2M741.9 224.5h1.2M741.9 225.5h1.2M741.9 226.5h1.2M741.9 227.5h1.2M741.9 228.5h1.2M741.9 229.5h1.2M741.9 230.5h1.2M741.9 231.5h1.2M741.9 232.5h1.2M741.9 233.5h1.2M741.9 234.5h1.2M741.9 236.5h1.2M741.9 237.5h1.2M741.9 238.5h1.2M741.9 239.5h1.2M741.9 240.5h1.2M741.9 241.5h1.2M741.9 243.5h1.2M741.9 244.5h1.2M741.9 248.5h1.2M741.9 249.5h1.2M741.9 251.5h1.2M741.9 256.5h1.2M742.9 189.5h1.2M742.9 190.5h1.2M742.9 192.5h1.2M742.9 194.5h1.2M742.9 196.5h1.2M742.9 197.5h1.2M742.9 200.5h1.2M742.9 204.5h1.2M742.9 205.5h1.2M742.9 207.5h1.2M742.9 213.5h1.2M742.9 218.5h1.2M742.9 220.5h1.2M742.9 221.5h1.2M742.9 224.5h1.2M742.9 225.5h1.2M742.9 226.5h1.2M742.9 227.5h1.2M742.9 228.5h1.2M742.9 229.5h1.2M742.9 232.5h1.2M742.9 233.5h1.2M742.9 235.5h1.2M742.9 236.5h1.2M742.9 237.5h1.2M742.9 238.5h1.2M742.9 239.5h1.2M742.9 240.5h1.2M742.9 241.5h1.2M742.9 242.5h1.2M742.9 244.5h1.2M742.9 246.5h1.2M742.9 255.5h1.2M743.9 183.5h1.2M743.9 189.5h1.2M743.9 194.5h1.2M743.9 197.5h1.2M743.9 198.5h1.2M743.9 199.5h1.2M743.9 212.5h1.2M743.9 216.5h1.2M743.9 218.5h1.2M743.9 224.5h1.2M743.9 225.5h1.2M743.9 227.5h1.2M743.9 228.5h1.2M743.9 229.5h1.2M743.9 230.5h1.2M743.9 231.5h1.2M743.9 232.5h1.2M743.9 233.5h1.2M743.9 234.5h1.2M743.9 235.5h1.2M743.9 236.5h1.2M743.9 238.5h1.2M743.9 239.5h1.2M743.9 240.5h1.2M743.9 242.5h1.2M743.9 246.5h1.2M743.9 247.5h1.2M743.9 254.5h1.2M744.9 196.5h1.2M744.9 204.5h1.2M744.9 208.5h1.2M744.9 214.5h1.2M744.9 215.5h1.2M744.9 217.5h1.2M744.9 218.5h1.2M744.9 219.5h1.2M744.9 220.5h1.2M744.9 222.5h1.2M744.9 223.5h1.2M744.9 224.5h1.2M744.9 225.5h1.2M744.9 226.5h1.2M744.9 227.5h1.2M744.9 228.5h1.2M744.9 229.5h1.2M744.9 230.5h1.2M744.9 231.5h1.2M744.9 233.5h1.2M744.9 234.5h1.2M744.9 235.5h1.2M744.9 236.5h1.2M744.9 237.5h1.2M744.9 238.5h1.2M744.9 239.5h1.2M744.9 240.5h1.2M744.9 241.5h1.2M744.9 242.5h1.2M744.9 244.5h1.2M744.9 246.5h1.2M744.9 247.5h1.2M744.9 248.5h1.2M744.9 250.5h1.2M744.9 254.5h1.2M745.9 184.5h1.2M745.9 190.5h1.2M745.9 191.5h1.2M745.9 193.5h1.2M745.9 194.5h1.2M745.9 196.5h1.2M745.9 198.5h1.2M745.9 200.5h1.2M745.9 213.5h1.2M745.9 215.5h1.2M745.9 219.5h1.2M745.9 221.5h1.2M745.9 224.5h1.2M745.9 225.5h1.2M745.9 228.5h1.2M745.9 229.5h1.2M745.9 230.5h1.2M745.9 231.5h1.2M745.9 232.5h1.2M745.9 233.5h1.2M745.9 234.5h1.2M745.9 237.5h1.2M745.9 238.5h1.2M745.9 239.5h1.2M745.9 240.5h1.2M745.9 241.5h1.2M745.9 242.5h1.2M745.9 243.5h1.2M745.9 246.5h1.2M745.9 249.5h1.2M746.9 184.5h1.2M746.9 192.5h1.2M746.9 193.5h1.2M746.9 194.5h1.2M746.9 198.5h1.2M746.9 202.5h1.2M746.9 209.5h1.2M746.9 213.5h1.2M746.9 214.5h1.2M746.9 215.5h1.2M746.9 216.5h1.2M746.9 220.5h1.2M746.9 221.5h1.2M746.9 222.5h1.2M746.9 223.5h1.2M746.9 224.5h1.2M746.9 225.5h1.2M746.9 226.5h1.2M746.9 227.5h1.2M746.9 228.5h1.2M746.9 229.5h1.2M746.9 230.5h1.2M746.9 231.5h1.2M746.9 232.5h1.2M746.9 233.5h1.2M746.9 234.5h1.2M746.9 235.5h1.2M746.9 236.5h1.2M746.9 237.5h1.2M746.9 238.5h1.2M746.9 239.5h1.2M746.9 240.5h1.2M746.9 241.5h1.2M746.9 242.5h1.2M746.9 243.5h1.2M746.9 245.5h1.2M746.9 247.5h1.2M746.9 250.5h1.2M747.9 186.5h1.2M747.9 192.5h1.2M747.9 195.5h1.2M747.9 196.5h1.2M747.9 198.5h1.2M747.9 199.5h1.2M747.9 204.5h1.2M747.9 217.5h1.2M747.9 221.5h1.2M747.9 223.5h1.2M747.9 224.5h1.2M747.9 226.5h1.2M747.9 227.5h1.2M747.9 228.5h1.2M747.9 229.5h1.2M747.9 230.5h1.2M747.9 231.5h1.2M747.9 232.5h1.2M747.9 234.5h1.2M747.9 235.5h1.2M747.9 236.5h1.2M747.9 238.5h1.2M747.9 239.5h1.2M747.9 240.5h1.2M747.9 242.5h1.2M747.9 247.5h1.2M747.9 251.5h1.2M748.9 185.5h1.2M748.9 193.5h1.2M748.9 197.5h1.2M748.9 198.5h1.2M748.9 200.5h1.2M748.9 202.5h1.2M748.9 216.5h1.2M748.9 219.5h1.2M748.9 221.5h1.2M748.9 222.5h1.2M748.9 224.5h1.2M748.9 225.5h1.2M748.9 226.5h1.2M748.9 227.5h1.2M748.9 228.5h1.2M748.9 229.5h1.2M748.9 230.5h1.2M748.9 231.5h1.2M748.9 232.5h1.2M748.9 233.5h1.2M748.9 234.5h1.2M748.9 235.5h1.2M748.9 236.5h1.2M748.9 237.5h1.2M748.9 239.5h1.2M748.9 241.5h1.2M748.9 242.5h1.2M748.9 244.5h1.2M748.9 245.5h1.2M748.9 254.5h1.2M749.9 183.5h1.2M749.9 191.5h1.2M749.9 195.5h1.2M749.9 198.5h1.2M749.9 201.5h1.2M749.9 202.5h1.2M749.9 205.5h1.2M749.9 215.5h1.2M749.9 216.5h1.2M749.9 218.5h1.2M749.9 222.5h1.2M749.9 224.5h1.2M749.9 225.5h1.2M749.9 226.5h1.2M749.9 228.5h1.2M749.9 229.5h1.2M749.9 230.5h1.2M749.9 231.5h1.2M749.9 232.5h1.2M749.9 233.5h1.2M749.9 234.5h1.2M749.9 235.5h1.2M749.9 237.5h1.2M749.9 238.5h1.2M749.9 239.5h1.2M749.9 240.5h1.2M749.9 242.5h1.2M749.9 243.5h1.2M749.9 246.5h1.2M749.9 247.5h1.2M749.9 249.5h1.2M749.9 251.5h1.2M750.9 184.5h1.2M750.9 189.5h1.2M750.9 190.5h1.2M750.9 194.5h1.2M750.9 202.5h1.2M750.9 209.5h1.2M750.9 216.5h1.2M750.9 217.5h1.2M750.9 218.5h1.2M750.9 219.5h1.2M750.9 220.5h1.2M750.9 221.5h1.2M750.9 222.5h1.2M750.9 223.5h1.2M750.9 224.5h1.2M750.9 226.5h1.2M750.9 228.5h1.2M750.9 229.5h1.2M750.9 230.5h1.2M750.9 231.5h1.2M750.9 235.5h1.2M750.9 237.5h1.2M750.9 239.5h1.2M750.9 245.5h1.2M750.9 246.5h1.2M750.9 247.5h1.2M751.9 195.5h1.2M751.9 198.5h1.2M751.9 205.5h1.2M751.9 210.5h1.2M751.9 212.5h1.2M751.9 216.5h1.2M751.9 218.5h1.2M751.9 219.5h1.2M751.9 220.5h1.2M751.9 222.5h1.2M751.9 224.5h1.2M751.9 225.5h1.2M751.9 226.5h1.2M751.9 227.5h1.2M751.9 231.5h1.2M751.9 232.5h1.2M751.9 233.5h1.2M751.9 234.5h1.2M751.9 235.5h1.2M751.9 236.5h1.2M751.9 237.5h1.2M751.9 238.5h1.2M751.9 240.5h1.2M751.9 241.5h1.2M751.9 242.5h1.2M751.9 243.5h1.2M752.9 179.5h1.2M752.9 193.5h1.2M752.9 196.5h1.2M752.9 197.5h1.2M752.9 201.5h1.2M752.9 202.5h1.2M752.9 203.5h1.2M752.9 207.5h1.2M752.9 211.5h1.2M752.9 213.5h1.2M752.9 218.5h1.2M752.9 219.5h1.2M752.9 220.5h1.2M752.9 226.5h1.2M752.9 229.5h1.2M752.9 231.5h1.2M752.9 234.5h1.2M752.9 235.5h1.2M752.9 236.5h1.2M752.9 237.5h1.2M752.9 238.5h1.2M752.9 239.5h1.2M752.9 240.5h1.2M752.9 241.5h1.2M752.9 244.5h1.2M752.9 246.5h1.2M752.9 252.5h1.2M753.9 187.5h1.2M753.9 188.5h1.2M753.9 195.5h1.2M753.9 196.5h1.2M753.9 204.5h1.2M753.9 214.5h1.2M753.9 215.5h1.2M753.9 219.5h1.2M753.9 221.5h1.2M753.9 222.5h1.2M753.9 223.5h1.2M753.9 224.5h1.2M753.9 225.5h1.2M753.9 226.5h1.2M753.9 228.5h1.2M753.9 229.5h1.2M753.9 231.5h1.2M753.9 234.5h1.2M753.9 238.5h1.2M753.9 241.5h1.2M753.9 243.5h1.2M753.9 246.5h1.2M754.9 192.5h1.2M754.9 194.5h1.2M754.9 199.5h1.2M754.9 210.5h1.2M754.9 213.5h1.2M754.9 214.5h1.2M754.9 218.5h1.2M754.9 223.5h1.2M754.9 227.5h1.2M754.9 229.5h1.2M754.9 230.5h1.2M754.9 231.5h1.2M754.9 232.5h1.2M754.9 233.5h1.2M754.9 236.5h1.2M754.9 239.5h1.2M754.9 242.5h1.2M754.9 248.5h1.2M754.9 249.5h1.2M755.9 187.5h1.2M755.9 188.5h1.2M755.9 191.5h1.2M755.9 195.5h1.2M755.9 203.5h1.2M755.9 206.5h1.2M755.9 214.5h1.2M755.9 217.5h1.2M755.9 218.5h1.2M755.9 222.5h1.2M755.9 226.5h1.2M755.9 227.5h1.2M755.9 228.5h1.2M755.9 229.5h1.2M755.9 236.5h1.2M755.9 237.5h1.2M755.9 242.5h1.2M755.9 243.5h1.2M755.9 244.5h1.2M755.9 246.5h1.2M755.9 251.5h1.2M756.9 214.5h1.2M756.9 219.5h1.2M756.9 223.5h1.2M756.9 225.5h1.2M756.9 226.5h1.2M756.9 227.5h1.2M756.9 228.5h1.2M756.9 231.5h1.2M756.9 235.5h1.2M756.9 236.5h1.2M756.9 250.5h1.2M757.9 188.5h1.2M757.9 199.5h1.2M757.9 207.5h1.2M757.9 217.5h1.2M757.9 219.5h1.2M757.9 221.5h1.2M757.9 224.5h1.2M757.9 225.5h1.2M757.9 226.5h1.2M757.9 229.5h1.2M757.9 233.5h1.2M757.9 236.5h1.2M757.9 240.5h1.2M757.9 245.5h1.2M757.9 249.5h1.2M757.9 251.5h1.2M758.9 188.5h1.2M758.9 194.5h1.2M758.9 215.5h1.2M758.9 219.5h1.2M758.9 222.5h1.2M758.9 229.5h1.2M758.9 233.5h1.2M758.9 234.5h1.2M758.9 236.5h1.2M758.9 239.5h1.2M759.9 192.5h1.2M759.9 202.5h1.2M759.9 212.5h1.2M759.9 217.5h1.2M759.9 219.5h1.2M759.9 223.5h1.2M759.9 224.5h1.2M759.9 225.5h1.2M759.9 227.5h1.2M759.9 228.5h1.2M759.9 229.5h1.2M759.9 231.5h1.2M759.9 236.5h1.2M759.9 246.5h1.2M760.9 193.5h1.2M760.9 196.5h1.2M760.9 201.5h1.2M760.9 217.5h1.2M760.9 220.5h1.2M760.9 222.5h1.2M760.9 225.5h1.2M760.9 234.5h1.2M760.9 236.5h1.2M760.9 238.5h1.2M761.9 190.5h1.2M761.9 210.5h1.2M761.9 252.5h1.2M762.9 218.5h1.2M762.9 221.5h1.2M762.9 229.5h1.2M762.9 235.5h1.2M762.9 245.5h1.2M763.9 196.5h1.2M763.9 243.5h1.2M764.9 188.5h1.2M764.9 195.5h1.2M764.9 225.5h1.2M764.9 230.5h1.2M764.9 233.5h1.2M764.9 238.5h1.2M765.9 212.5h1.2M765.9 243.5h1.2M766.9 217.5h1.2M766.9 222.5h1.2M766.9 234.5h1.2M767.9 218.5h1.2M767.9 235.5h1.2M767.9 251.5h1.2M768.9 205.5h1.2M768.9 236.5h1.2M770.9 234.5h1.2M785.9 203.5h1.2M785.9 205.5h1.2M786.9 216.5h1.2M791.9 187.5h1.2M792.9 195.5h1.2M792.9 202.5h1.2M792.9 212.5h1.2M792.9 216.5h1.2M793.9 188.5h1.2M795.9 181.5h1.2M795.9 190.5h1.2M797.9 187.5h1.2M797.9 194.5h1.2M797.9 195.5h1.2M797.9 196.5h1.2M797.9 205.5h1.2M798.9 187.5h1.2M798.9 188.5h1.2M798.9 199.5h1.2M798.9 202.5h1.2M798.9 207.5h1.2M798.9 212.5h1.2M799.9 183.5h1.2M799.9 202.5h1.2M800.9 194.5h1.2M800.9 198.5h1.2M800.9 201.5h1.2M801.9 170.5h1.2M801.9 175.5h1.2M801.9 188.5h1.2M801.9 190.5h1.2M801.9 194.5h1.2M801.9 210.5h1.2M801.9 216.5h1.2M802.9 171.5h1.2M802.9 174.5h1.2M802.9 185.5h1.2M802.9 191.5h1.2M802.9 195.5h1.2M802.9 198.5h1.2M802.9 211.5h1.2M803.9 169.5h1.2M803.9 197.5h1.2M803.9 201.5h1.2M803.9 222.5h1.2M804.9 185.5h1.2M804.9 192.5h1.2M804.9 202.5h1.2M805.9 201.5h1.2M806.9 191.5h1.2M807.9 188.5h1.2M807.9 207.5h1.2M808.9 184.5h1.2M809.9 182.5h1.2M809.9 184.5h1.2M810.9 184.5h1.2M811.9 162.5h1.2M811.9 174.5h1.2M813.9 177.5h1.2M814.9 199.5h1.2" stroke="#111" stroke-opacity="0.9" stroke-width="1.2" fill="none"/>
<path d="M802.9 188.5h1.3M799.9 194.5h1.3M803.9 192.5h1.3M807.9 195.5h1.3M794.9 206.5h1.3M798.9 186.5h1.3M805.9 183.5h1.3M800.9 183.5h1.3M804.9 190.5h1.3M801.9 188.5h1.3M801.9 198.5h1.3M803.9 195.5h1.3M803.9 184.5h1.3M805.9 187.5h1.3M797.9 197.5h1.3M795.9 200.5h1.3M800.9 200.5h1.3M799.9 184.5h1.3M802.9 189.5h1.3M804.9 186.5h1.3M804.9 181.5h1.3M796.9 190.5h1.3M797.9 193.5h1.3M804.9 172.5h1.3M804.9 190.5h1.3M806.9 189.5h1.3M802.9 203.5h1.3M800.9 201.5h1.3M804.9 188.5h1.3M800.9 199.5h1.3M797.9 188.5h1.3M801.9 196.5h1.3M804.9 182.5h1.3M799.9 196.5h1.3M802.9 198.5h1.3M803.9 180.5h1.3M803.9 195.5h1.3M793.9 200.5h1.3M803.9 191.5h1.3M804.9 201.5h1.3M802.9 184.5h1.3M805.9 184.5h1.3M807.9 182.5h1.3M801.9 198.5h1.3M803.9 175.5h1.3M796.9 196.5h1.3M801.9 189.5h1.3M800.9 198.5h1.3M799.9 193.5h1.3M801.9 191.5h1.3M799.9 196.5h1.3M794.9 198.5h1.3M798.9 200.5h1.3M799.9 200.5h1.3M804.9 199.5h1.3M802.9 187.5h1.3M802.9 190.5h1.3M803.9 179.5h1.3M799.9 189.5h1.3M797.9 189.5h1.3M800.9 202.5h1.3M795.9 205.5h1.3M804.9 183.5h1.3M805.9 179.5h1.3M801.9 186.5h1.3M801.9 193.5h1.3M800.9 205.5h1.3M806.9 182.5h1.3M804.9 181.5h1.3M801.9 181.5h1.3M797.9 201.5h1.3M801.9 186.5h1.3M806.9 190.5h1.3M800.9 182.5h1.3M795.9 194.5h1.3M805.9 189.5h1.3M800.9 191.5h1.3M800.9 185.5h1.3M802.9 187.5h1.3M802.9 201.5h1.3M800.9 186.5h1.3M795.9 195.5h1.3M801.9 188.5h1.3M800.9 182.5h1.3M796.9 193.5h1.3M801.9 184.5h1.3M797.9 191.5h1.3M798.9 199.5h1.3M800.9 189.5h1.3M799.9 185.5h1.3M800.9 200.5h1.3M804.9 191.5h1.3M804.9 186.5h1.3M798.9 191.5h1.3M795.9 196.5h1.3M797.9 195.5h1.3M804.9 195.5h1.3M798.9 195.5h1.3M800.9 190.5h1.3M800.9 182.5h1.3M802.9 192.5h1.3M804.9 178.5h1.3M800.9 195.5h1.3M806.9 184.5h1.3M805.9 182.5h1.3M792.9 201.5h1.3M801.9 193.5h1.3M798.9 192.5h1.3M798.9 188.5h1.3M802.9 192.5h1.3M800.9 185.5h1.3M802.9 187.5h1.3M801.9 191.5h1.3M797.9 190.5h1.3M808.9 171.5h1.3M794.9 200.5h1.3M803.9 186.5h1.3M801.9 198.5h1.3M799.9 200.5h1.3M801.9 194.5h1.3M805.9 188.5h1.3M803.9 196.5h1.3M805.9 189.5h1.3M804.9 183.5h1.3M803.9 171.5h1.3M798.9 196.5h1.3M796.9 191.5h1.3M800.9 202.5h1.3M802.9 191.5h1.3M804.9 194.5h1.3M796.9 191.5h1.3M805.9 190.5h1.3M799.9 195.5h1.3M800.9 195.5h1.3M795.9 194.5h1.3M804.9 185.5h1.3M802.9 189.5h1.3M797.9 205.5h1.3M799.9 192.5h1.3M802.9 186.5h1.3M798.9 179.5h1.3M798.9 201.5h1.3M799.9 199.5h1.3M803.9 192.5h1.3M796.9 195.5h1.3M796.9 199.5h1.3M808.9 194.5h1.3M806.9 192.5h1.3M803.9 189.5h1.3M802.9 191.5h1.3M800.9 184.5h1.3M796.9 192.5h1.3M804.9 185.5h1.3M800.9 186.5h1.3M803.9 183.5h1.3M802.9 188.5h1.3M807.9 191.5h1.3M796.9 186.5h1.3M801.9 192.5h1.3M796.9 191.5h1.3M799.9 199.5h1.3M797.9 189.5h1.3M800.9 194.5h1.3M797.9 200.5h1.3M804.9 182.5h1.3M804.9 184.5h1.3M803.9 183.5h1.3M801.9 189.5h1.3M800.9 186.5h1.3M799.9 190.5h1.3M800.9 192.5h1.3M805.9 174.5h1.3M799.9 201.5h1.3M801.9 195.5h1.3M798.9 186.5h1.3M803.9 197.5h1.3M801.9 195.5h1.3M800.9 194.5h1.3M801.9 193.5h1.3M798.9 192.5h1.3M804.9 187.5h1.3M795.9 187.5h1.3M794.9 190.5h1.3M800.9 205.5h1.3M798.9 195.5h1.3M802.9 182.5h1.3M799.9 190.5h1.3M803.9 192.5h1.3M797.9 194.5h1.3M805.9 175.5h1.3M803.9 186.5h1.3M803.9 204.5h1.3M804.9 194.5h1.3M798.9 203.5h1.3M803.9 193.5h1.3M800.9 190.5h1.3M802.9 185.5h1.3M804.9 187.5h1.3M806.9 189.5h1.3M796.9 199.5h1.3M798.9 198.5h1.3M800.9 201.5h1.3M803.9 191.5h1.3M803.9 187.5h1.3M800.9 194.5h1.3M798.9 193.5h1.3M797.9 194.5h1.3M801.9 196.5h1.3M798.9 196.5h1.3M795.9 212.5h1.3M799.9 192.5h1.3M797.9 201.5h1.3M797.9 197.5h1.3M799.9 193.5h1.3M799.9 197.5h1.3M804.9 185.5h1.3M800.9 182.5h1.3M795.9 195.5h1.3M799.9 196.5h1.3M803.9 185.5h1.3M798.9 195.5h1.3M804.9 190.5h1.3M800.9 196.5h1.3M800.9 185.5h1.3M804.9 187.5h1.3M801.9 195.5h1.3M798.9 201.5h1.3M801.9 188.5h1.3M792.9 203.5h1.3M802.9 194.5h1.3M807.9 193.5h1.3M801.9 200.5h1.3M804.9 185.5h1.3M802.9 189.5h1.3M799.9 192.5h1.3M804.9 197.5h1.3M800.9 199.5h1.3M807.9 178.5h1.3M799.9 199.5h1.3M804.9 188.5h1.3M805.9 186.5h1.3M800.9 183.5h1.3M797.9 191.5h1.3M803.9 192.5h1.3M806.9 183.5h1.3M804.9 188.5h1.3M799.9 193.5h1.3M797.9 187.5h1.3M800.9 186.5h1.3M801.9 204.5h1.3M806.9 182.5h1.3M800.9 193.5h1.3M802.9 195.5h1.3M801.9 187.5h1.3M798.9 192.5h1.3M801.9 193.5h1.3M800.9 186.5h1.3M803.9 194.5h1.3M798.9 193.5h1.3M800.9 197.5h1.3M803.9 196.5h1.3M802.9 185.5h1.3M800.9 187.5h1.3M800.9 206.5h1.3M805.9 179.5h1.3M805.9 188.5h1.3M800.9 192.5h1.3M802.9 193.5h1.3M800.9 192.5h1.3M803.9 191.5h1.3M803.9 184.5h1.3M800.9 190.5h1.3M796.9 196.5h1.3M799.9 188.5h1.3M799.9 195.5h1.3M802.9 192.5h1.3M805.9 181.5h1.3M802.9 186.5h1.3M803.9 191.5h1.3M805.9 198.5h1.3M800.9 192.5h1.3M804.9 188.5h1.3M799.9 203.5h1.3M803.9 188.5h1.3M801.9 193.5h1.3M796.9 185.5h1.3M805.9 188.5h1.3M795.9 192.5h1.3M796.9 190.5h1.3M798.9 205.5h1.3M805.9 184.5h1.3M804.9 186.5h1.3M798.9 191.5h1.3M796.9 195.5h1.3M799.9 201.5h1.3M798.9 183.5h1.3M802.9 204.5h1.3M808.9 184.5h1.3M800.9 193.5h1.3M801.9 191.5h1.3M799.9 202.5h1.3M810.9 180.5h1.3M797.9 197.5h1.3M799.9 188.5h1.3M802.9 192.5h1.3M799.9 193.5h1.3M805.9 186.5h1.3M807.9 192.5h1.3M805.9 186.5h1.3M799.9 191.5h1.3M799.9 201.5h1.3M802.9 185.5h1.3M796.9 198.5h1.3M801.9 202.5h1.3M805.9 190.5h1.3M800.9 204.5h1.3M806.9 194.5h1.3M796.9 201.5h1.3M801.9 190.5h1.3M798.9 188.5h1.3M800.9 198.5h1.3M805.9 193.5h1.3M802.9 188.5h1.3M799.9 193.5h1.3M803.9 191.5h1.3M805.9 192.5h1.3M803.9 186.5h1.3M803.9 181.5h1.3M806.9 187.5h1.3M801.9 197.5h1.3M802.9 205.5h1.3M798.9 196.5h1.3M803.9 181.5h1.3M800.9 189.5h1.3M797.9 188.5h1.3M795.9 201.5h1.3M804.9 187.5h1.3M806.9 181.5h1.3M799.9 198.5h1.3M802.9 184.5h1.3M808.9 179.5h1.3M799.9 191.5h1.3M804.9 185.5h1.3M795.9 201.5h1.3M797.9 186.5h1.3M800.9 196.5h1.3M797.9 207.5h1.3M800.9 188.5h1.3M795.9 196.5h1.3M800.9 197.5h1.3M800.9 187.5h1.3M804.9 200.5h1.3M803.9 189.5h1.3M796.9 203.5h1.3M798.9 189.5h1.3M801.9 190.5h1.3M800.9 188.5h1.3M800.9 179.5h1.3M805.9 185.5h1.3M800.9 187.5h1.3M802.9 197.5h1.3M801.9 186.5h1.3M801.9 196.5h1.3M803.9 186.5h1.3M804.9 192.5h1.3M805.9 186.5h1.3M798.9 194.5h1.3M802.9 200.5h1.3M809.9 183.5h1.3M801.9 183.5h1.3M804.9 190.5h1.3M800.9 196.5h1.3M800.9 202.5h1.3M806.9 203.5h1.3M794.9 191.5h1.3M799.9 188.5h1.3M801.9 192.5h1.3M800.9 182.5h1.3M801.9 189.5h1.3M808.9 173.5h1.3M801.9 192.5h1.3M798.9 193.5h1.3M804.9 192.5h1.3M801.9 200.5h1.3M799.9 189.5h1.3M800.9 201.5h1.3M796.9 187.5h1.3M797.9 184.5h1.3M799.9 201.5h1.3M802.9 186.5h1.3M800.9 211.5h1.3M803.9 182.5h1.3M798.9 181.5h1.3M808.9 194.5h1.3M798.9 203.5h1.3M802.9 189.5h1.3M795.9 198.5h1.3M810.9 179.5h1.3M805.9 195.5h1.3M805.9 194.5h1.3M804.9 187.5h1.3M801.9 204.5h1.3M804.9 189.5h1.3M798.9 186.5h1.3M804.9 196.5h1.3M796.9 197.5h1.3M801.9 198.5h1.3M795.9 186.5h1.3M802.9 200.5h1.3M795.9 194.5h1.3M807.9 181.5h1.3M801.9 198.5h1.3M803.9 190.5h1.3M801.9 187.5h1.3M803.9 185.5h1.3M805.9 189.5h1.3M797.9 196.5h1.3M795.9 204.5h1.3M803.9 196.5h1.3M792.9 199.5h1.3M803.9 200.5h1.3M792.9 201.5h1.3M802.9 186.5h1.3M806.9 189.5h1.3M806.9 187.5h1.3M796.9 195.5h1.3M802.9 184.5h1.3M804.9 193.5h1.3M804.9 191.5h1.3M795.9 178.5h1.3M803.9 189.5h1.3M799.9 188.5h1.3M806.9 196.5h1.3M799.9 190.5h1.3M808.9 187.5h1.3M803.9 192.5h1.3M802.9 201.5h1.3M806.9 185.5h1.3M801.9 198.5h1.3M798.9 199.5h1.3M800.9 191.5h1.3M798.9 197.5h1.3M797.9 194.5h1.3M800.9 190.5h1.3M802.9 191.5h1.3M801.9 190.5h1.3M808.9 177.5h1.3M802.9 187.5h1.3M805.9 186.5h1.3M804.9 185.5h1.3M804.9 201.5h1.3M801.9 201.5h1.3M807.9 183.5h1.3M801.9 201.5h1.3M800.9 198.5h1.3M805.9 188.5h1.3M796.9 200.5h1.3M800.9 199.5h1.3M800.9 198.5h1.3M802.9 201.5h1.3M796.9 197.5h1.3M800.9 198.5h1.3M805.9 184.5h1.3M806.9 182.5h1.3M797.9 204.5h1.3M801.9 199.5h1.3M796.9 196.5h1.3M800.9 196.5h1.3M800.9 197.5h1.3M800.9 200.5h1.3M804.9 198.5h1.3M804.9 194.5h1.3M802.9 194.5h1.3M804.9 188.5h1.3M799.9 201.5h1.3M801.9 198.5h1.3M804.9 184.5h1.3M797.9 201.5h1.3M805.9 179.5h1.3M808.9 188.5h1.3M801.9 191.5h1.3M803.9 187.5h1.3M800.9 187.5h1.3M799.9 191.5h1.3M795.9 201.5h1.3M799.9 191.5h1.3M808.9 183.5h1.3M809.9 177.5h1.3M804.9 181.5h1.3M791.9 207.5h1.3M807.9 183.5h1.3M799.9 193.5h1.3M798.9 191.5h1.3M805.9 194.5h1.3M802.9 189.5h1.3M805.9 202.5h1.3M803.9 188.5h1.3M800.9 187.5h1.3M800.9 188.5h1.3M799.9 178.5h1.3M803.9 187.5h1.3M797.9 200.5h1.3M803.9 191.5h1.3M800.9 197.5h1.3M807.9 193.5h1.3M800.9 189.5h1.3M805.9 180.5h1.3M807.9 191.5h1.3M804.9 190.5h1.3M804.9 200.5h1.3M808.9 183.5h1.3M801.9 192.5h1.3M801.9 189.5h1.3M795.9 188.5h1.3M800.9 196.5h1.3M803.9 185.5h1.3M798.9 209.5h1.3M807.9 190.5h1.3M802.9 186.5h1.3M801.9 188.5h1.3M801.9 198.5h1.3M802.9 186.5h1.3M800.9 192.5h1.3M799.9 191.5h1.3M803.9 186.5h1.3M804.9 185.5h1.3M799.9 190.5h1.3M801.9 187.5h1.3M802.9 191.5h1.3M799.9 190.5h1.3M801.9 203.5h1.3M804.9 193.5h1.3M800.9 194.5h1.3M808.9 194.5h1.3M802.9 200.5h1.3M804.9 189.5h1.3M798.9 208.5h1.3M803.9 200.5h1.3M804.9 197.5h1.3M802.9 194.5h1.3M810.9 189.5h1.3M801.9 194.5h1.3M797.9 201.5h1.3M799.9 191.5h1.3M800.9 192.5h1.3M800.9 196.5h1.3M801.9 187.5h1.3M800.9 191.5h1.3M801.9 199.5h1.3M798.9 192.5h1.3M797.9 195.5h1.3M801.9 193.5h1.3M800.9 187.5h1.3M808.9 188.5h1.3M801.9 190.5h1.3M801.9 199.5h1.3M796.9 199.5h1.3M812.9 186.5h1.3M800.9 191.5h1.3M804.9 194.5h1.3M804.9 183.5h1.3M803.9 192.5h1.3M799.9 193.5h1.3M796.9 184.5h1.3M795.9 198.5h1.3M806.9 190.5h1.3M804.9 189.5h1.3M803.9 191.5h1.3M800.9 192.5h1.3M798.9 201.5h1.3M803.9 182.5h1.3M797.9 195.5h1.3M802.9 198.5h1.3M796.9 207.5h1.3M795.9 195.5h1.3M802.9 189.5h1.3M800.9 195.5h1.3M800.9 191.5h1.3M803.9 189.5h1.3M802.9 196.5h1.3M803.9 200.5h1.3M803.9 178.5h1.3M800.9 190.5h1.3M801.9 200.5h1.3M802.9 191.5h1.3M798.9 201.5h1.3M804.9 190.5h1.3M804.9 196.5h1.3M803.9 195.5h1.3M799.9 187.5h1.3M794.9 190.5h1.3M803.9 195.5h1.3M800.9 192.5h1.3M799.9 199.5h1.3M805.9 200.5h1.3M802.9 198.5h1.3M801.9 195.5h1.3M801.9 194.5h1.3M795.9 198.5h1.3M803.9 190.5h1.3M802.9 186.5h1.3M804.9 187.5h1.3M804.9 199.5h1.3M798.9 195.5h1.3M802.9 194.5h1.3M793.9 200.5h1.3M795.9 193.5h1.3M801.9 197.5h1.3M803.9 196.5h1.3M799.9 194.5h1.3M804.9 195.5h1.3M801.9 191.5h1.3M806.9 184.5h1.3M800.9 188.5h1.3M800.9 188.5h1.3M805.9 191.5h1.3M804.9 198.5h1.3M796.9 202.5h1.3M804.9 196.5h1.3M793.9 207.5h1.3M805.9 182.5h1.3M799.9 189.5h1.3M798.9 194.5h1.3M805.9 176.5h1.3M803.9 193.5h1.3M800.9 199.5h1.3M800.9 190.5h1.3M803.9 180.5h1.3M801.9 199.5h1.3M797.9 206.5h1.3M806.9 180.5h1.3M796.9 198.5h1.3M804.9 180.5h1.3M797.9 196.5h1.3M800.9 189.5h1.3M800.9 182.5h1.3M800.9 192.5h1.3M795.9 185.5h1.3M796.9 203.5h1.3M798.9 190.5h1.3" stroke="#0a0a0a" stroke-opacity="0.95" stroke-width="1.35" fill="none"/>
<path d="M770.9 243.5h1.2M771.9 177.5h1.2M774.9 193.5h1.2M778.9 197.5h1.2M778.9 226.5h1.2M779.9 227.5h1.2M781.9 208.5h1.2M781.9 233.5h1.2M781.9 242.5h1.2M781.9 250.5h1.2M782.9 186.5h1.2M783.9 185.5h1.2M785.9 221.5h1.2M786.9 188.5h1.2M786.9 204.5h1.2M788.9 186.5h1.2M790.9 222.5h1.2M791.9 208.5h1.2M792.9 201.5h1.2M797.9 167.5h1.2M799.9 188.5h1.2M803.9 171.5h1.2M810.9 176.5h1.2M811.9 193.5h1.2M812.9 176.5h1.2M814.9 214.5h1.2M817.9 173.5h1.2M819.9 242.5h1.2M821.9 171.5h1.2M821.9 188.5h1.2M821.9 215.5h1.2M823.9 181.5h1.2M825.9 210.5h1.2M826.9 242.5h1.2M829.9 194.5h1.2M831.9 188.5h1.2M831.9 200.5h1.2M833.9 197.5h1.2M833.9 219.5h1.2M834.9 238.5h1.2" stroke="#555" stroke-opacity="0.4" stroke-width="1.1" fill="none"/></g></g>
<g><path d="M959.6999999999999 47.2H1173.4 M1173.4 47.2V266.8 M959.6999999999999 259.0H1173.4 M966.9 47.2V266.8" fill="none" stroke="#727272" stroke-width="1.35"/>
<path d="M1012.4 47.2V266.8 M959.6999999999999 212.0H1173.4" fill="none" stroke="#727272" stroke-width="1.45"/>
<path d="M959.6999999999999 57.5H966.9M960.5 86.4H966.9M960.5 79.1H966.9M960.5 74.0H966.9M960.5 70.0H966.9M960.5 66.7H966.9M960.5 63.9H966.9M960.5 61.5H966.9M960.5 59.4H966.9M959.6999999999999 98.9H966.9M960.5 127.8H966.9M960.5 120.5H966.9M960.5 115.4H966.9M960.5 111.4H966.9M960.5 108.1H966.9M960.5 105.3H966.9M960.5 102.9H966.9M960.5 100.8H966.9M959.6999999999999 140.3H966.9M960.5 169.2H966.9M960.5 161.9H966.9M960.5 156.8H966.9M960.5 152.8H966.9M960.5 149.5H966.9M960.5 146.7H966.9M960.5 144.3H966.9M960.5 142.2H966.9M959.6999999999999 181.7H966.9M960.5 210.6H966.9M960.5 203.3H966.9M960.5 198.2H966.9M960.5 194.2H966.9M960.5 190.9H966.9M960.5 188.1H966.9M960.5 185.7H966.9M960.5 183.6H966.9M959.6999999999999 223.1H966.9M960.5 252.0H966.9M960.5 244.7H966.9M960.5 239.6H966.9M960.5 235.6H966.9M960.5 232.3H966.9M960.5 229.5H966.9M960.5 227.1H966.9M960.5 225.0H966.9M970.7 259.0V266.2M978.0 259.0V266.2M983.1 259.0V266.2M987.1 259.0V266.2M990.4 259.0V266.2M993.2 259.0V266.2M995.6 259.0V266.2M997.7 259.0V266.2M999.6 259.0V266.8M1012.1 259.0V266.2M1019.4 259.0V266.2M1024.5 259.0V266.2M1028.5 259.0V266.2M1031.8 259.0V266.2M1034.6 259.0V266.2M1037.0 259.0V266.2M1039.1 259.0V266.2M1041.0 259.0V266.8M1053.5 259.0V266.2M1060.8 259.0V266.2M1065.9 259.0V266.2M1069.9 259.0V266.2M1073.2 259.0V266.2M1076.0 259.0V266.2M1078.4 259.0V266.2M1080.5 259.0V266.2M1082.4 259.0V266.8M1094.9 259.0V266.2M1102.2 259.0V266.2M1107.3 259.0V266.2M1111.3 259.0V266.2M1114.6 259.0V266.2M1117.4 259.0V266.2M1119.8 259.0V266.2M1121.9 259.0V266.2M1123.8 259.0V266.8M1136.3 259.0V266.2M1143.6 259.0V266.2M1148.7 259.0V266.2M1152.7 259.0V266.2M1156.0 259.0V266.2M1158.8 259.0V266.2M1161.2 259.0V266.2M1163.3 259.0V266.2M1165.2 259.0V266.8" fill="none" stroke="#727272" stroke-width="1.3"/>
<path d="M1011.6 46.0l2 2 M1073.3 48.1l2.2 -2.2" stroke="#111" stroke-width="1.7" fill="none"/>
<path d="M969.9 45.6H1006.9 M1024.9 45.6H1070.9" stroke="#bbb" stroke-width="0.9" stroke-dasharray="3 4 1 3 5 2" fill="none"/>
<path d="M959.9 269.8h2 M969.9 269.8h1.5 M998.9 269.8h1.5 M1040.9 269.8h2 M1081.9 269.8h3 M1122.9 269.8h2 M1164.9 269.8h6" stroke="#ccc" stroke-width="0.9" fill="none"/>
<path d="M952.9 50.2v2 M952.9 71.2v1.5 M952.9 99.2v2 M952.9 113.2v1.5 M952.9 140.2v2 M952.9 154.2v1.5 M952.9 181.2v2 M952.9 223.2v2 M952.9 251.2v2" stroke="#ddd" stroke-width="0.9" fill="none"/>
<text class="pc" transform="translate(1125.24,81.1) scale(0.8411,1)" font-size="19.6">19.2%</text>
<g filter="url(#bl)"><path d="M1000.9 185.5h1.2M1000.9 186.5h1.2M1000.9 192.5h1.2M1000.9 193.5h1.2M1000.9 195.5h1.2M1000.9 200.5h1.2M1000.9 201.5h1.2M1000.9 204.5h1.2M1000.9 209.5h1.2M1000.9 213.5h1.2M1000.9 214.5h1.2M1000.9 216.5h1.2M1000.9 219.5h1.2M1000.9 222.5h1.2M1000.9 224.5h1.2M1000.9 225.5h1.2M1000.9 226.5h1.2M1000.9 227.5h1.2M1000.9 228.5h1.2M1000.9 229.5h1.2M1000.9 230.5h1.2M1000.9 231.5h1.2M1000.9 232.5h1.2M1000.9 233.5h1.2M1000.9 234.5h1.2M1000.9 235.5h1.2M1000.9 236.5h1.2M1000.9 237.5h1.2M1000.9 238.5h1.2M1000.9 239.5h1.2M1000.9 240.5h1.2M1000.9 241.5h1.2M1000.9 242.5h1.2M1000.9 243.5h1.2M1000.9 248.5h1.2M1000.9 249.5h1.2M1000.9 255.5h1.2M1001.9 184.5h1.2M1001.9 192.5h1.2M1001.9 195.5h1.2M1001.9 198.5h1.2M1001.9 199.5h1.2M1001.9 201.5h1.2M1001.9 203.5h1.2M1001.9 205.5h1.2M1001.9 213.5h1.2M1001.9 214.5h1.2M1001.9 221.5h1.2M1001.9 222.5h1.2M1001.9 223.5h1.2M1001.9 224.5h1.2M1001.9 225.5h1.2M1001.9 226.5h1.2M1001.9 227.5h1.2M1001.9 228.5h1.2M1001.9 230.5h1.2M1001.9 231.5h1.2M1001.9 232.5h1.2M1001.9 233.5h1.2M1001.9 237.5h1.2M1001.9 238.5h1.2M1001.9 239.5h1.2M1001.9 240.5h1.2M1001.9 243.5h1.2M1001.9 247.5h1.2M1001.9 250.5h1.2M1002.9 189.5h1.2M1002.9 199.5h1.2M1002.9 213.5h1.2M1002.9 215.5h1.2M1002.9 217.5h1.2M1002.9 219.5h1.2M1002.9 221.5h1.2M1002.9 222.5h1.2M1002.9 224.5h1.2M1002.9 227.5h1.2M1002.9 228.5h1.2M1002.9 229.5h1.2M1002.9 230.5h1.2M1002.9 231.5h1.2M1002.9 232.5h1.2M1002.9 233.5h1.2M1002.9 234.5h1.2M1002.9 235.5h1.2M1002.9 236.5h1.2M1002.9 237.5h1.2M1002.9 241.5h1.2M1002.9 246.5h1.2M1002.9 248.5h1.2M1002.9 254.5h1.2M1002.9 256.5h1.2M1003.9 186.5h1.2M1003.9 195.5h1.2M1003.9 209.5h1.2M1003.9 211.5h1.2M1003.9 216.5h1.2M1003.9 217.5h1.2M1003.9 220.5h1.2M1003.9 221.5h1.2M1003.9 222.5h1.2M1003.9 223.5h1.2M1003.9 225.5h1.2M1003.9 226.5h1.2M1003.9 227.5h1.2M1003.9 228.5h1.2M1003.9 230.5h1.2M1003.9 231.5h1.2M1003.9 232.5h1.2M1003.9 233.5h1.2M1003.9 234.5h1.2M1003.9 235.5h1.2M1003.9 238.5h1.2M1003.9 239.5h1.2M1003.9 240.5h1.2M1003.9 242.5h1.2M1003.9 243.5h1.2M1003.9 245.5h1.2M1003.9 247.5h1.2M1003.9 252.5h1.2M1004.9 189.5h1.2M1004.9 194.5h1.2M1004.9 195.5h1.2M1004.9 197.5h1.2M1004.9 201.5h1.2M1004.9 204.5h1.2M1004.9 208.5h1.2M1004.9 212.5h1.2M1004.9 217.5h1.2M1004.9 219.5h1.2M1004.9 226.5h1.2M1004.9 228.5h1.2M1004.9 230.5h1.2M1004.9 232.5h1.2M1004.9 234.5h1.2M1004.9 236.5h1.2M1004.9 237.5h1.2M1004.9 241.5h1.2M1004.9 247.5h1.2M1004.9 251.5h1.2M1004.9 252.5h1.2M1005.9 193.5h1.2M1005.9 195.5h1.2M1005.9 197.5h1.2M1005.9 202.5h1.2M1005.9 206.5h1.2M1005.9 217.5h1.2M1005.9 219.5h1.2M1005.9 221.5h1.2M1005.9 222.5h1.2M1005.9 223.5h1.2M1005.9 230.5h1.2M1005.9 231.5h1.2M1005.9 232.5h1.2M1005.9 233.5h1.2M1005.9 234.5h1.2M1005.9 235.5h1.2M1005.9 237.5h1.2M1005.9 239.5h1.2M1005.9 242.5h1.2M1005.9 244.5h1.2M1006.9 183.5h1.2M1006.9 185.5h1.2M1006.9 191.5h1.2M1006.9 201.5h1.2M1006.9 214.5h1.2M1006.9 219.5h1.2M1006.9 221.5h1.2M1006.9 224.5h1.2M1006.9 226.5h1.2M1006.9 230.5h1.2M1006.9 232.5h1.2M1006.9 234.5h1.2M1006.9 235.5h1.2M1006.9 236.5h1.2M1006.9 238.5h1.2M1006.9 239.5h1.2M1006.9 241.5h1.2M1007.9 191.5h1.2M1007.9 193.5h1.2M1007.9 201.5h1.2M1007.9 204.5h1.2M1007.9 206.5h1.2M1007.9 220.5h1.2M1007.9 223.5h1.2M1007.9 224.5h1.2M1007.9 228.5h1.2M1007.9 232.5h1.2M1007.9 233.5h1.2M1007.9 236.5h1.2M1007.9 238.5h1.2M1007.9 239.5h1.2M1007.9 241.5h1.2M1007.9 243.5h1.2M1007.9 249.5h1.2M1008.9 203.5h1.2M1008.9 223.5h1.2M1008.9 224.5h1.2M1008.9 231.5h1.2M1008.9 232.5h1.2M1008.9 233.5h1.2M1008.9 235.5h1.2M1008.9 240.5h1.2M1008.9 246.5h1.2M1009.9 191.5h1.2M1009.9 203.5h1.2M1009.9 208.5h1.2M1009.9 225.5h1.2M1009.9 229.5h1.2M1009.9 231.5h1.2M1009.9 236.5h1.2M1009.9 238.5h1.2M1009.9 239.5h1.2M1009.9 240.5h1.2M1009.9 244.5h1.2M1010.9 219.5h1.2M1010.9 230.5h1.2M1010.9 233.5h1.2M1010.9 234.5h1.2M1010.9 245.5h1.2M1011.9 197.5h1.2M1011.9 199.5h1.2M1011.9 207.5h1.2M1011.9 224.5h1.2M1011.9 228.5h1.2M1011.9 236.5h1.2M1012.9 231.5h1.2M1012.9 232.5h1.2M1012.9 235.5h1.2M1012.9 238.5h1.2M1012.9 249.5h1.2M1013.9 201.5h1.2M1013.9 222.5h1.2M1013.9 234.5h1.2M1013.9 236.5h1.2M1014.9 235.5h1.2M1015.9 217.5h1.2M1016.9 218.5h1.2M1017.9 221.5h1.2M1017.9 222.5h1.2M1018.9 233.5h1.2M1022.9 215.5h1.2M1039.9 192.5h1.2M1039.9 205.5h1.2M1044.9 199.5h1.2M1044.9 208.5h1.2M1045.9 180.5h1.2M1045.9 187.5h1.2M1046.9 187.5h1.2M1046.9 197.5h1.2M1047.9 194.5h1.2M1047.9 204.5h1.2M1048.9 178.5h1.2M1048.9 183.5h1.2M1048.9 188.5h1.2M1048.9 214.5h1.2M1048.9 215.5h1.2M1050.9 191.5h1.2M1050.9 197.5h1.2M1050.9 206.5h1.2M1051.9 194.5h1.2M1051.9 199.5h1.2M1051.9 200.5h1.2M1051.9 208.5h1.2M1053.9 181.5h1.2M1053.9 198.5h1.2M1053.9 201.5h1.2M1054.9 192.5h1.2M1055.9 213.5h1.2M1056.9 189.5h1.2M1056.9 194.5h1.2M1056.9 202.5h1.2M1058.9 211.5h1.2M1059.9 187.5h1.2M1064.9 181.5h1.2M967.9 242.5h1.2M968.9 231.5h1.2M971.9 247.5h1.2M972.9 204.5h1.2M972.9 222.5h1.2M972.9 240.5h1.2M973.9 219.5h1.2M973.9 233.5h1.2M973.9 247.5h1.2M973.9 248.5h1.2M974.9 215.5h1.2M974.9 222.5h1.2M974.9 227.5h1.2M974.9 229.5h1.2M974.9 230.5h1.2M975.9 221.5h1.2M975.9 229.5h1.2M975.9 230.5h1.2M975.9 234.5h1.2M975.9 235.5h1.2M975.9 238.5h1.2M975.9 240.5h1.2M975.9 255.5h1.2M976.9 199.5h1.2M976.9 221.5h1.2M976.9 223.5h1.2M976.9 230.5h1.2M976.9 232.5h1.2M976.9 239.5h1.2M976.9 241.5h1.2M976.9 245.5h1.2M977.9 198.5h1.2M977.9 201.5h1.2M977.9 224.5h1.2M977.9 227.5h1.2M977.9 228.5h1.2M977.9 231.5h1.2M977.9 233.5h1.2M977.9 243.5h1.2M978.9 211.5h1.2M978.9 217.5h1.2M978.9 218.5h1.2M978.9 221.5h1.2M978.9 227.5h1.2M978.9 229.5h1.2M978.9 235.5h1.2M978.9 239.5h1.2M978.9 242.5h1.2M978.9 255.5h1.2M979.9 219.5h1.2M979.9 223.5h1.2M979.9 227.5h1.2M979.9 229.5h1.2M979.9 234.5h1.2M979.9 235.5h1.2M979.9 237.5h1.2M979.9 240.5h1.2M979.9 242.5h1.2M979.9 243.5h1.2M979.9 245.5h1.2M980.9 194.5h1.2M980.9 196.5h1.2M980.9 218.5h1.2M980.9 220.5h1.2M980.9 224.5h1.2M980.9 229.5h1.2M980.9 230.5h1.2M980.9 232.5h1.2M980.9 233.5h1.2M980.9 234.5h1.2M980.9 235.5h1.2M980.9 237.5h1.2M980.9 238.5h1.2M980.9 239.5h1.2M980.9 240.5h1.2M980.9 244.5h1.2M980.9 245.5h1.2M980.9 251.5h1.2M981.9 195.5h1.2M981.9 202.5h1.2M981.9 207.5h1.2M981.9 222.5h1.2M981.9 224.5h1.2M981.9 225.5h1.2M981.9 228.5h1.2M981.9 231.5h1.2M981.9 232.5h1.2M981.9 236.5h1.2M981.9 239.5h1.2M981.9 242.5h1.2M981.9 250.5h1.2M981.9 254.5h1.2M982.9 205.5h1.2M982.9 206.5h1.2M982.9 217.5h1.2M982.9 222.5h1.2M982.9 224.5h1.2M982.9 229.5h1.2M982.9 231.5h1.2M982.9 232.5h1.2M982.9 233.5h1.2M982.9 236.5h1.2M982.9 238.5h1.2M982.9 241.5h1.2M982.9 242.5h1.2M982.9 243.5h1.2M982.9 244.5h1.2M982.9 246.5h1.2M982.9 247.5h1.2M982.9 250.5h1.2M982.9 251.5h1.2M982.9 252.5h1.2M982.9 254.5h1.2M983.9 189.5h1.2M983.9 210.5h1.2M983.9 217.5h1.2M983.9 219.5h1.2M983.9 222.5h1.2M983.9 224.5h1.2M983.9 229.5h1.2M983.9 230.5h1.2M983.9 232.5h1.2M983.9 233.5h1.2M983.9 234.5h1.2M983.9 235.5h1.2M983.9 236.5h1.2M983.9 238.5h1.2M983.9 239.5h1.2M983.9 241.5h1.2M983.9 242.5h1.2M983.9 244.5h1.2M983.9 246.5h1.2M983.9 253.5h1.2M984.9 190.5h1.2M984.9 196.5h1.2M984.9 197.5h1.2M984.9 199.5h1.2M984.9 201.5h1.2M984.9 209.5h1.2M984.9 216.5h1.2M984.9 218.5h1.2M984.9 221.5h1.2M984.9 222.5h1.2M984.9 223.5h1.2M984.9 226.5h1.2M984.9 227.5h1.2M984.9 230.5h1.2M984.9 231.5h1.2M984.9 232.5h1.2M984.9 234.5h1.2M984.9 236.5h1.2M984.9 237.5h1.2M984.9 238.5h1.2M984.9 239.5h1.2M984.9 240.5h1.2M984.9 241.5h1.2M984.9 242.5h1.2M984.9 244.5h1.2M984.9 246.5h1.2M984.9 249.5h1.2M984.9 254.5h1.2M984.9 256.5h1.2M985.9 191.5h1.2M985.9 196.5h1.2M985.9 201.5h1.2M985.9 211.5h1.2M985.9 218.5h1.2M985.9 219.5h1.2M985.9 220.5h1.2M985.9 221.5h1.2M985.9 222.5h1.2M985.9 224.5h1.2M985.9 226.5h1.2M985.9 227.5h1.2M985.9 229.5h1.2M985.9 230.5h1.2M985.9 231.5h1.2M985.9 233.5h1.2M985.9 236.5h1.2M985.9 237.5h1.2M985.9 238.5h1.2M985.9 239.5h1.2M985.9 240.5h1.2M985.9 241.5h1.2M985.9 244.5h1.2M985.9 245.5h1.2M985.9 247.5h1.2M985.9 248.5h1.2M985.9 249.5h1.2M985.9 252.5h1.2M986.9 189.5h1.2M986.9 190.5h1.2M986.9 194.5h1.2M986.9 196.5h1.2M986.9 198.5h1.2M986.9 203.5h1.2M986.9 204.5h1.2M986.9 207.5h1.2M986.9 219.5h1.2M986.9 220.5h1.2M986.9 223.5h1.2M986.9 227.5h1.2M986.9 228.5h1.2M986.9 230.5h1.2M986.9 231.5h1.2M986.9 232.5h1.2M986.9 233.5h1.2M986.9 234.5h1.2M986.9 235.5h1.2M986.9 236.5h1.2M986.9 237.5h1.2M986.9 238.5h1.2M986.9 239.5h1.2M986.9 240.5h1.2M986.9 241.5h1.2M986.9 242.5h1.2M986.9 244.5h1.2M986.9 245.5h1.2M986.9 246.5h1.2M986.9 252.5h1.2M986.9 255.5h1.2M987.9 178.5h1.2M987.9 190.5h1.2M987.9 191.5h1.2M987.9 195.5h1.2M987.9 196.5h1.2M987.9 198.5h1.2M987.9 199.5h1.2M987.9 200.5h1.2M987.9 201.5h1.2M987.9 205.5h1.2M987.9 210.5h1.2M987.9 212.5h1.2M987.9 213.5h1.2M987.9 220.5h1.2M987.9 222.5h1.2M987.9 224.5h1.2M987.9 225.5h1.2M987.9 226.5h1.2M987.9 227.5h1.2M987.9 228.5h1.2M987.9 229.5h1.2M987.9 230.5h1.2M987.9 231.5h1.2M987.9 232.5h1.2M987.9 233.5h1.2M987.9 234.5h1.2M987.9 236.5h1.2M987.9 237.5h1.2M987.9 238.5h1.2M987.9 239.5h1.2M987.9 240.5h1.2M987.9 241.5h1.2M987.9 242.5h1.2M987.9 244.5h1.2M987.9 245.5h1.2M987.9 246.5h1.2M987.9 251.5h1.2M987.9 252.5h1.2M987.9 254.5h1.2M988.9 186.5h1.2M988.9 187.5h1.2M988.9 190.5h1.2M988.9 192.5h1.2M988.9 195.5h1.2M988.9 199.5h1.2M988.9 200.5h1.2M988.9 201.5h1.2M988.9 205.5h1.2M988.9 206.5h1.2M988.9 211.5h1.2M988.9 216.5h1.2M988.9 217.5h1.2M988.9 218.5h1.2M988.9 220.5h1.2M988.9 223.5h1.2M988.9 224.5h1.2M988.9 225.5h1.2M988.9 227.5h1.2M988.9 228.5h1.2M988.9 229.5h1.2M988.9 230.5h1.2M988.9 231.5h1.2M988.9 232.5h1.2M988.9 233.5h1.2M988.9 234.5h1.2M988.9 235.5h1.2M988.9 236.5h1.2M988.9 237.5h1.2M988.9 238.5h1.2M988.9 239.5h1.2M988.9 240.5h1.2M988.9 241.5h1.2M988.9 242.5h1.2M988.9 243.5h1.2M988.9 244.5h1.2M988.9 245.5h1.2M988.9 246.5h1.2M988.9 247.5h1.2M988.9 248.5h1.2M989.9 190.5h1.2M989.9 192.5h1.2M989.9 193.5h1.2M989.9 194.5h1.2M989.9 195.5h1.2M989.9 196.5h1.2M989.9 199.5h1.2M989.9 203.5h1.2M989.9 204.5h1.2M989.9 207.5h1.2M989.9 209.5h1.2M989.9 212.5h1.2M989.9 214.5h1.2M989.9 218.5h1.2M989.9 219.5h1.2M989.9 220.5h1.2M989.9 221.5h1.2M989.9 222.5h1.2M989.9 223.5h1.2M989.9 225.5h1.2M989.9 226.5h1.2M989.9 227.5h1.2M989.9 228.5h1.2M989.9 229.5h1.2M989.9 230.5h1.2M989.9 231.5h1.2M989.9 232.5h1.2M989.9 233.5h1.2M989.9 234.5h1.2M989.9 235.5h1.2M989.9 236.5h1.2M989.9 237.5h1.2M989.9 238.5h1.2M989.9 239.5h1.2M989.9 240.5h1.2M989.9 241.5h1.2M989.9 243.5h1.2M989.9 244.5h1.2M989.9 245.5h1.2M989.9 246.5h1.2M989.9 247.5h1.2M989.9 248.5h1.2M989.9 250.5h1.2M989.9 251.5h1.2M989.9 254.5h1.2M989.9 256.5h1.2M990.9 178.5h1.2M990.9 179.5h1.2M990.9 185.5h1.2M990.9 190.5h1.2M990.9 195.5h1.2M990.9 198.5h1.2M990.9 200.5h1.2M990.9 202.5h1.2M990.9 203.5h1.2M990.9 205.5h1.2M990.9 206.5h1.2M990.9 211.5h1.2M990.9 215.5h1.2M990.9 217.5h1.2M990.9 218.5h1.2M990.9 219.5h1.2M990.9 220.5h1.2M990.9 222.5h1.2M990.9 225.5h1.2M990.9 226.5h1.2M990.9 227.5h1.2M990.9 228.5h1.2M990.9 229.5h1.2M990.9 230.5h1.2M990.9 231.5h1.2M990.9 232.5h1.2M990.9 234.5h1.2M990.9 235.5h1.2M990.9 236.5h1.2M990.9 237.5h1.2M990.9 238.5h1.2M990.9 239.5h1.2M990.9 240.5h1.2M990.9 241.5h1.2M990.9 242.5h1.2M990.9 243.5h1.2M990.9 244.5h1.2M990.9 246.5h1.2M990.9 248.5h1.2M990.9 251.5h1.2M990.9 252.5h1.2M990.9 254.5h1.2M991.9 189.5h1.2M991.9 191.5h1.2M991.9 195.5h1.2M991.9 197.5h1.2M991.9 198.5h1.2M991.9 202.5h1.2M991.9 205.5h1.2M991.9 209.5h1.2M991.9 212.5h1.2M991.9 218.5h1.2M991.9 220.5h1.2M991.9 223.5h1.2M991.9 224.5h1.2M991.9 225.5h1.2M991.9 226.5h1.2M991.9 227.5h1.2M991.9 228.5h1.2M991.9 229.5h1.2M991.9 231.5h1.2M991.9 233.5h1.2M991.9 234.5h1.2M991.9 235.5h1.2M991.9 236.5h1.2M991.9 237.5h1.2M991.9 238.5h1.2M991.9 240.5h1.2M991.9 241.5h1.2M991.9 242.5h1.2M991.9 245.5h1.2M991.9 247.5h1.2M991.9 248.5h1.2M991.9 249.5h1.2M991.9 253.5h1.2M992.9 184.5h1.2M992.9 187.5h1.2M992.9 189.5h1.2M992.9 192.5h1.2M992.9 196.5h1.2M992.9 198.5h1.2M992.9 200.5h1.2M992.9 201.5h1.2M992.9 204.5h1.2M992.9 205.5h1.2M992.9 208.5h1.2M992.9 213.5h1.2M992.9 215.5h1.2M992.9 218.5h1.2M992.9 220.5h1.2M992.9 221.5h1.2M992.9 222.5h1.2M992.9 223.5h1.2M992.9 224.5h1.2M992.9 225.5h1.2M992.9 226.5h1.2M992.9 227.5h1.2M992.9 228.5h1.2M992.9 229.5h1.2M992.9 230.5h1.2M992.9 231.5h1.2M992.9 232.5h1.2M992.9 233.5h1.2M992.9 234.5h1.2M992.9 235.5h1.2M992.9 236.5h1.2M992.9 237.5h1.2M992.9 238.5h1.2M992.9 239.5h1.2M992.9 240.5h1.2M992.9 241.5h1.2M992.9 242.5h1.2M992.9 243.5h1.2M992.9 244.5h1.2M992.9 245.5h1.2M992.9 248.5h1.2M992.9 249.5h1.2M992.9 251.5h1.2M992.9 254.5h1.2M992.9 256.5h1.2M993.9 178.5h1.2M993.9 187.5h1.2M993.9 189.5h1.2M993.9 191.5h1.2M993.9 192.5h1.2M993.9 194.5h1.2M993.9 195.5h1.2M993.9 196.5h1.2M993.9 197.5h1.2M993.9 200.5h1.2M993.9 201.5h1.2M993.9 202.5h1.2M993.9 204.5h1.2M993.9 205.5h1.2M993.9 208.5h1.2M993.9 210.5h1.2M993.9 214.5h1.2M993.9 215.5h1.2M993.9 219.5h1.2M993.9 223.5h1.2M993.9 224.5h1.2M993.9 225.5h1.2M993.9 226.5h1.2M993.9 227.5h1.2M993.9 228.5h1.2M993.9 229.5h1.2M993.9 230.5h1.2M993.9 231.5h1.2M993.9 232.5h1.2M993.9 233.5h1.2M993.9 234.5h1.2M993.9 235.5h1.2M993.9 236.5h1.2M993.9 237.5h1.2M993.9 238.5h1.2M993.9 239.5h1.2M993.9 240.5h1.2M993.9 241.5h1.2M993.9 243.5h1.2M993.9 244.5h1.2M993.9 245.5h1.2M993.9 246.5h1.2M993.9 247.5h1.2M993.9 248.5h1.2M993.9 249.5h1.2M993.9 250.5h1.2M993.9 252.5h1.2M993.9 254.5h1.2M993.9 255.5h1.2M993.9 256.5h1.2M994.9 190.5h1.2M994.9 192.5h1.2M994.9 193.5h1.2M994.9 196.5h1.2M994.9 199.5h1.2M994.9 200.5h1.2M994.9 202.5h1.2M994.9 203.5h1.2M994.9 204.5h1.2M994.9 205.5h1.2M994.9 207.5h1.2M994.9 209.5h1.2M994.9 217.5h1.2M994.9 218.5h1.2M994.9 219.5h1.2M994.9 221.5h1.2M994.9 222.5h1.2M994.9 223.5h1.2M994.9 224.5h1.2M994.9 225.5h1.2M994.9 226.5h1.2M994.9 227.5h1.2M994.9 228.5h1.2M994.9 229.5h1.2M994.9 230.5h1.2M994.9 231.5h1.2M994.9 232.5h1.2M994.9 233.5h1.2M994.9 234.5h1.2M994.9 235.5h1.2M994.9 236.5h1.2M994.9 237.5h1.2M994.9 238.5h1.2M994.9 239.5h1.2M994.9 240.5h1.2M994.9 242.5h1.2M994.9 244.5h1.2M994.9 246.5h1.2M994.9 249.5h1.2M994.9 250.5h1.2M994.9 251.5h1.2M994.9 252.5h1.2M994.9 254.5h1.2M995.9 182.5h1.2M995.9 184.5h1.2M995.9 188.5h1.2M995.9 190.5h1.2M995.9 192.5h1.2M995.9 193.5h1.2M995.9 195.5h1.2M995.9 196.5h1.2M995.9 197.5h1.2M995.9 199.5h1.2M995.9 200.5h1.2M995.9 201.5h1.2M995.9 203.5h1.2M995.9 205.5h1.2M995.9 211.5h1.2M995.9 212.5h1.2M995.9 214.5h1.2M995.9 218.5h1.2M995.9 219.5h1.2M995.9 221.5h1.2M995.9 222.5h1.2M995.9 223.5h1.2M995.9 225.5h1.2M995.9 227.5h1.2M995.9 228.5h1.2M995.9 229.5h1.2M995.9 230.5h1.2M995.9 231.5h1.2M995.9 232.5h1.2M995.9 233.5h1.2M995.9 234.5h1.2M995.9 235.5h1.2M995.9 236.5h1.2M995.9 237.5h1.2M995.9 238.5h1.2M995.9 239.5h1.2M995.9 240.5h1.2M995.9 243.5h1.2M995.9 244.5h1.2M995.9 246.5h1.2M995.9 252.5h1.2M995.9 253.5h1.2M996.9 189.5h1.2M996.9 191.5h1.2M996.9 193.5h1.2M996.9 194.5h1.2M996.9 198.5h1.2M996.9 202.5h1.2M996.9 203.5h1.2M996.9 205.5h1.2M996.9 207.5h1.2M996.9 210.5h1.2M996.9 214.5h1.2M996.9 215.5h1.2M996.9 217.5h1.2M996.9 220.5h1.2M996.9 221.5h1.2M996.9 222.5h1.2M996.9 223.5h1.2M996.9 225.5h1.2M996.9 226.5h1.2M996.9 227.5h1.2M996.9 229.5h1.2M996.9 230.5h1.2M996.9 231.5h1.2M996.9 232.5h1.2M996.9 233.5h1.2M996.9 234.5h1.2M996.9 235.5h1.2M996.9 236.5h1.2M996.9 237.5h1.2M996.9 238.5h1.2M996.9 240.5h1.2M996.9 242.5h1.2M996.9 243.5h1.2M996.9 244.5h1.2M996.9 245.5h1.2M996.9 246.5h1.2M996.9 247.5h1.2M996.9 248.5h1.2M996.9 249.5h1.2M997.9 186.5h1.2M997.9 191.5h1.2M997.9 192.5h1.2M997.9 193.5h1.2M997.9 194.5h1.2M997.9 197.5h1.2M997.9 198.5h1.2M997.9 199.5h1.2M997.9 200.5h1.2M997.9 201.5h1.2M997.9 203.5h1.2M997.9 206.5h1.2M997.9 207.5h1.2M997.9 216.5h1.2M997.9 217.5h1.2M997.9 218.5h1.2M997.9 220.5h1.2M997.9 221.5h1.2M997.9 223.5h1.2M997.9 224.5h1.2M997.9 225.5h1.2M997.9 226.5h1.2M997.9 227.5h1.2M997.9 228.5h1.2M997.9 229.5h1.2M997.9 231.5h1.2M997.9 233.5h1.2M997.9 235.5h1.2M997.9 237.5h1.2M997.9 238.5h1.2M997.9 239.5h1.2M997.9 240.5h1.2M997.9 241.5h1.2M997.9 242.5h1.2M997.9 243.5h1.2M997.9 245.5h1.2M997.9 246.5h1.2M997.9 247.5h1.2M997.9 249.5h1.2M997.9 250.5h1.2M997.9 253.5h1.2M997.9 254.5h1.2M998.9 182.5h1.2M998.9 188.5h1.2M998.9 194.5h1.2M998.9 195.5h1.2M998.9 199.5h1.2M998.9 202.5h1.2M998.9 203.5h1.2M998.9 205.5h1.2M998.9 210.5h1.2M998.9 211.5h1.2M998.9 216.5h1.2M998.9 217.5h1.2M998.9 221.5h1.2M998.9 222.5h1.2M998.9 225.5h1.2M998.9 226.5h1.2M998.9 227.5h1.2M998.9 228.5h1.2M998.9 229.5h1.2M998.9 230.5h1.2M998.9 231.5h1.2M998.9 232.5h1.2M998.9 233.5h1.2M998.9 234.5h1.2M998.9 235.5h1.2M998.9 236.5h1.2M998.9 237.5h1.2M998.9 238.5h1.2M998.9 239.5h1.2M998.9 240.5h1.2M998.9 241.5h1.2M998.9 242.5h1.2M998.9 243.5h1.2M998.9 244.5h1.2M998.9 245.5h1.2M998.9 246.5h1.2M998.9 248.5h1.2M998.9 249.5h1.2M999.9 176.5h1.2M999.9 184.5h1.2M999.9 195.5h1.2M999.9 196.5h1.2M999.9 197.5h1.2M999.9 202.5h1.2M999.9 210.5h1.2M999.9 211.5h1.2M999.9 217.5h1.2M999.9 218.5h1.2M999.9 219.5h1.2M999.9 220.5h1.2M999.9 221.5h1.2M999.9 222.5h1.2M999.9 223.5h1.2M999.9 224.5h1.2M999.9 225.5h1.2M999.9 226.5h1.2M999.9 227.5h1.2M999.9 228.5h1.2M999.9 229.5h1.2M999.9 233.5h1.2M999.9 234.5h1.2M999.9 235.5h1.2M999.9 236.5h1.2M999.9 238.5h1.2M999.9 239.5h1.2M999.9 240.5h1.2M999.9 241.5h1.2M999.9 242.5h1.2M999.9 243.5h1.2M999.9 245.5h1.2M999.9 246.5h1.2" stroke="#111" stroke-opacity="0.9" stroke-width="1.2" fill="none"/>
<path d="M1048.9 204.5h1.3M1054.9 194.5h1.3M1049.9 188.5h1.3M1051.9 196.5h1.3M1044.9 194.5h1.3M1050.9 195.5h1.3M1049.9 214.5h1.3M1046.9 197.5h1.3M1046.9 198.5h1.3M1050.9 199.5h1.3M1051.9 195.5h1.3M1049.9 195.5h1.3M1048.9 207.5h1.3M1048.9 195.5h1.3M1051.9 199.5h1.3M1052.9 203.5h1.3M1046.9 199.5h1.3M1049.9 210.5h1.3M1051.9 203.5h1.3M1051.9 188.5h1.3M1053.9 195.5h1.3M1051.9 190.5h1.3M1049.9 207.5h1.3M1055.9 196.5h1.3M1053.9 189.5h1.3M1051.9 196.5h1.3M1048.9 195.5h1.3M1046.9 197.5h1.3M1048.9 200.5h1.3M1047.9 202.5h1.3M1052.9 193.5h1.3M1042.9 203.5h1.3M1051.9 198.5h1.3M1050.9 188.5h1.3M1046.9 200.5h1.3M1055.9 194.5h1.3M1049.9 191.5h1.3M1050.9 182.5h1.3M1056.9 191.5h1.3M1044.9 204.5h1.3M1048.9 210.5h1.3M1052.9 197.5h1.3M1047.9 199.5h1.3M1050.9 186.5h1.3M1049.9 197.5h1.3M1053.9 193.5h1.3M1053.9 191.5h1.3M1050.9 194.5h1.3M1051.9 190.5h1.3M1046.9 191.5h1.3M1049.9 197.5h1.3M1049.9 202.5h1.3M1050.9 190.5h1.3M1051.9 181.5h1.3M1051.9 206.5h1.3M1049.9 202.5h1.3M1050.9 201.5h1.3M1050.9 186.5h1.3M1050.9 205.5h1.3M1048.9 198.5h1.3M1049.9 194.5h1.3M1046.9 190.5h1.3M1048.9 198.5h1.3M1054.9 197.5h1.3M1047.9 200.5h1.3M1045.9 200.5h1.3M1048.9 204.5h1.3M1051.9 196.5h1.3M1046.9 206.5h1.3M1056.9 192.5h1.3M1053.9 198.5h1.3M1052.9 193.5h1.3M1052.9 194.5h1.3M1048.9 195.5h1.3M1048.9 207.5h1.3M1052.9 184.5h1.3M1048.9 190.5h1.3M1049.9 193.5h1.3M1047.9 197.5h1.3M1051.9 185.5h1.3M1044.9 202.5h1.3M1050.9 201.5h1.3M1051.9 194.5h1.3M1050.9 192.5h1.3M1052.9 191.5h1.3M1045.9 205.5h1.3M1042.9 203.5h1.3M1048.9 191.5h1.3M1045.9 207.5h1.3M1043.9 200.5h1.3M1051.9 198.5h1.3M1042.9 195.5h1.3M1051.9 199.5h1.3M1048.9 206.5h1.3M1052.9 186.5h1.3M1046.9 202.5h1.3M1047.9 200.5h1.3M1051.9 198.5h1.3M1058.9 195.5h1.3M1050.9 198.5h1.3M1051.9 192.5h1.3M1046.9 194.5h1.3M1053.9 188.5h1.3M1043.9 195.5h1.3M1052.9 183.5h1.3M1051.9 197.5h1.3M1053.9 190.5h1.3M1049.9 195.5h1.3M1052.9 197.5h1.3M1051.9 201.5h1.3M1050.9 192.5h1.3M1050.9 189.5h1.3M1049.9 194.5h1.3M1049.9 202.5h1.3M1048.9 202.5h1.3M1048.9 204.5h1.3M1049.9 203.5h1.3M1048.9 202.5h1.3M1048.9 188.5h1.3M1047.9 210.5h1.3M1048.9 200.5h1.3M1058.9 196.5h1.3M1051.9 190.5h1.3M1047.9 196.5h1.3M1050.9 189.5h1.3M1049.9 195.5h1.3M1045.9 201.5h1.3M1053.9 201.5h1.3M1045.9 202.5h1.3M1057.9 179.5h1.3M1047.9 200.5h1.3M1046.9 205.5h1.3M1047.9 197.5h1.3M1048.9 199.5h1.3M1053.9 195.5h1.3M1045.9 197.5h1.3M1050.9 202.5h1.3M1050.9 192.5h1.3M1049.9 197.5h1.3M1051.9 198.5h1.3M1056.9 195.5h1.3M1049.9 192.5h1.3M1052.9 211.5h1.3M1049.9 197.5h1.3M1054.9 191.5h1.3M1047.9 197.5h1.3M1052.9 201.5h1.3M1054.9 203.5h1.3M1049.9 205.5h1.3M1051.9 197.5h1.3M1050.9 205.5h1.3M1048.9 204.5h1.3M1051.9 203.5h1.3M1046.9 195.5h1.3M1048.9 208.5h1.3M1051.9 194.5h1.3M1045.9 194.5h1.3M1046.9 195.5h1.3M1049.9 198.5h1.3M1047.9 204.5h1.3M1048.9 199.5h1.3M1046.9 194.5h1.3M1048.9 203.5h1.3M1051.9 193.5h1.3M1048.9 194.5h1.3M1052.9 199.5h1.3M1046.9 194.5h1.3M1055.9 194.5h1.3M1054.9 193.5h1.3M1052.9 196.5h1.3M1045.9 195.5h1.3M1056.9 196.5h1.3M1051.9 197.5h1.3M1050.9 195.5h1.3M1050.9 199.5h1.3M1046.9 211.5h1.3M1048.9 195.5h1.3M1047.9 188.5h1.3M1043.9 200.5h1.3M1049.9 206.5h1.3M1047.9 194.5h1.3M1049.9 197.5h1.3M1046.9 204.5h1.3M1050.9 195.5h1.3M1048.9 195.5h1.3M1048.9 185.5h1.3M1050.9 193.5h1.3M1054.9 205.5h1.3M1048.9 208.5h1.3M1046.9 209.5h1.3M1056.9 195.5h1.3M1050.9 190.5h1.3M1054.9 196.5h1.3M1052.9 194.5h1.3M1047.9 194.5h1.3M1049.9 199.5h1.3M1049.9 189.5h1.3M1053.9 193.5h1.3M1049.9 200.5h1.3M1047.9 200.5h1.3M1047.9 200.5h1.3M1050.9 188.5h1.3M1049.9 198.5h1.3M1043.9 202.5h1.3M1051.9 196.5h1.3M1052.9 191.5h1.3M1047.9 194.5h1.3M1044.9 203.5h1.3M1047.9 203.5h1.3M1049.9 191.5h1.3M1048.9 192.5h1.3M1044.9 197.5h1.3M1049.9 205.5h1.3M1045.9 205.5h1.3M1052.9 182.5h1.3M1050.9 196.5h1.3M1050.9 194.5h1.3M1045.9 197.5h1.3M1043.9 208.5h1.3M1052.9 199.5h1.3M1051.9 192.5h1.3M1046.9 207.5h1.3M1048.9 204.5h1.3M1051.9 199.5h1.3M1049.9 195.5h1.3M1048.9 203.5h1.3M1045.9 199.5h1.3M1053.9 198.5h1.3M1049.9 203.5h1.3M1049.9 193.5h1.3M1052.9 201.5h1.3M1053.9 198.5h1.3M1053.9 196.5h1.3M1052.9 191.5h1.3M1053.9 191.5h1.3M1046.9 200.5h1.3M1050.9 192.5h1.3M1050.9 187.5h1.3M1053.9 192.5h1.3M1046.9 205.5h1.3M1050.9 195.5h1.3M1050.9 194.5h1.3M1049.9 203.5h1.3M1048.9 196.5h1.3M1045.9 206.5h1.3M1047.9 197.5h1.3M1051.9 193.5h1.3M1051.9 195.5h1.3M1046.9 197.5h1.3M1056.9 183.5h1.3M1054.9 194.5h1.3M1047.9 197.5h1.3M1048.9 200.5h1.3M1047.9 197.5h1.3M1051.9 202.5h1.3M1055.9 195.5h1.3M1051.9 194.5h1.3M1047.9 186.5h1.3M1050.9 211.5h1.3M1043.9 203.5h1.3M1050.9 199.5h1.3M1050.9 198.5h1.3M1051.9 191.5h1.3M1050.9 190.5h1.3M1047.9 199.5h1.3M1049.9 195.5h1.3M1052.9 198.5h1.3M1050.9 199.5h1.3M1051.9 188.5h1.3M1046.9 202.5h1.3M1048.9 194.5h1.3M1046.9 205.5h1.3M1052.9 193.5h1.3M1049.9 204.5h1.3M1048.9 203.5h1.3M1048.9 196.5h1.3M1049.9 193.5h1.3M1048.9 199.5h1.3M1051.9 198.5h1.3M1046.9 196.5h1.3M1048.9 191.5h1.3M1053.9 185.5h1.3M1048.9 189.5h1.3M1053.9 191.5h1.3M1053.9 196.5h1.3M1048.9 196.5h1.3M1050.9 201.5h1.3M1047.9 197.5h1.3M1047.9 193.5h1.3M1050.9 195.5h1.3M1051.9 207.5h1.3M1051.9 202.5h1.3M1056.9 200.5h1.3M1054.9 208.5h1.3M1050.9 200.5h1.3M1048.9 204.5h1.3M1046.9 198.5h1.3M1048.9 203.5h1.3M1047.9 202.5h1.3M1054.9 186.5h1.3M1044.9 203.5h1.3M1050.9 191.5h1.3M1045.9 194.5h1.3M1049.9 209.5h1.3M1046.9 192.5h1.3M1054.9 201.5h1.3M1051.9 203.5h1.3M1052.9 191.5h1.3M1057.9 189.5h1.3M1043.9 199.5h1.3M1054.9 186.5h1.3M1048.9 198.5h1.3M1054.9 202.5h1.3M1044.9 198.5h1.3M1046.9 195.5h1.3M1052.9 192.5h1.3M1047.9 195.5h1.3M1047.9 196.5h1.3M1048.9 200.5h1.3M1048.9 199.5h1.3M1048.9 202.5h1.3M1048.9 196.5h1.3M1045.9 197.5h1.3M1043.9 213.5h1.3M1048.9 197.5h1.3M1051.9 194.5h1.3M1049.9 193.5h1.3M1049.9 188.5h1.3M1056.9 191.5h1.3M1049.9 188.5h1.3" stroke="#0a0a0a" stroke-opacity="0.95" stroke-width="1.35" fill="none"/>
<path d="M1015.9 226.5h1.2M1016.9 215.5h1.2M1018.9 177.5h1.2M1024.9 235.5h1.2M1025.9 213.5h1.2M1025.9 233.5h1.2M1026.9 171.5h1.2M1026.9 200.5h1.2M1029.9 168.5h1.2M1029.9 207.5h1.2M1033.9 191.5h1.2M1037.9 193.5h1.2M1037.9 204.5h1.2M1042.9 193.5h1.2M1047.9 236.5h1.2M1049.9 194.5h1.2M1052.9 203.5h1.2M1052.9 241.5h1.2M1053.9 208.5h1.2M1055.9 180.5h1.2M1055.9 222.5h1.2M1056.9 191.5h1.2M1057.9 230.5h1.2M1058.9 180.5h1.2M1059.9 183.5h1.2M1061.9 203.5h1.2M1061.9 215.5h1.2M1061.9 236.5h1.2M1062.9 176.5h1.2M1063.9 189.5h1.2M1064.9 171.5h1.2M1068.9 189.5h1.2M1069.9 228.5h1.2M1071.9 222.5h1.2M1073.9 229.5h1.2M1075.9 244.5h1.2M1076.9 214.5h1.2M1077.9 191.5h1.2M1078.9 173.5h1.2M1081.9 244.5h1.2" stroke="#555" stroke-opacity="0.4" stroke-width="1.1" fill="none"/></g></g>
<g><path d="M71.45 459.85V744.1" stroke="#111" stroke-width="3.2" fill="none"/>
<path d="M61.650000000000006 461.3H71.45" stroke="#111" stroke-width="2.9" fill="none"/>
<path d="M61.650000000000006 532.0H71.45" stroke="#111" stroke-width="2.9" fill="none"/>
<path d="M61.650000000000006 602.7H71.45" stroke="#111" stroke-width="2.9" fill="none"/>
<path d="M61.650000000000006 673.4H71.45" stroke="#111" stroke-width="2.9" fill="none"/>
<text class="tb" transform="translate(36.97,469.0) scale(1.0000,1)" font-size="22.8">40</text>
<text class="tb" transform="translate(36.97,539.7) scale(1.0000,1)" font-size="22.8">30</text>
<text class="tb" transform="translate(36.97,610.4000000000001) scale(1.0000,1)" font-size="22.8">20</text>
<text class="tb" transform="translate(36.97,681.1) scale(1.0000,1)" font-size="22.8">10</text>
<text class="tb" transform="translate(48.37,751.8000000000001) scale(1.0000,1)" font-size="22.8">0</text>
<rect x="88.3" y="563.1" width="71.50000000000001" height="181.0" fill="#fff"/>
<path d="M88.3 744.1V563.1H159.8V744.1" fill="none" stroke="#111" stroke-width="4.2" stroke-linejoin="round"/>
<path d="M124.1 563.1V554.1 M106.1 554.1H142.1" stroke="#111" stroke-width="3.9" stroke-linecap="round" fill="none"/>
<rect x="195.3" y="631.8" width="71.0" height="112.30000000000007" fill="#fff"/>
<path d="M200.75 637.90h1.5M206.48 637.90h1.5M212.21 637.90h1.5M217.94 637.90h1.5M223.67 637.90h1.5M229.40 637.90h1.5M235.13 637.90h1.5M240.86 637.90h1.5M246.59 637.90h1.5M252.32 637.90h1.5M258.05 637.90h1.5M263.78 637.90h1.5M197.89 643.56h1.5M203.62 643.56h1.5M209.34 643.56h1.5M215.07 643.56h1.5M220.80 643.56h1.5M226.53 643.56h1.5M232.26 643.56h1.5M237.99 643.56h1.5M243.72 643.56h1.5M249.45 643.56h1.5M255.18 643.56h1.5M260.91 643.56h1.5M200.75 649.23h1.5M206.48 649.23h1.5M212.21 649.23h1.5M217.94 649.23h1.5M223.67 649.23h1.5M229.40 649.23h1.5M235.13 649.23h1.5M240.86 649.23h1.5M246.59 649.23h1.5M252.32 649.23h1.5M258.05 649.23h1.5M263.78 649.23h1.5M197.89 654.89h1.5M203.62 654.89h1.5M209.34 654.89h1.5M215.07 654.89h1.5M220.80 654.89h1.5M226.53 654.89h1.5M232.26 654.89h1.5M237.99 654.89h1.5M243.72 654.89h1.5M249.45 654.89h1.5M255.18 654.89h1.5M260.91 654.89h1.5M200.75 660.56h1.5M206.48 660.56h1.5M212.21 660.56h1.5M217.94 660.56h1.5M223.67 660.56h1.5M229.40 660.56h1.5M235.13 660.56h1.5M240.86 660.56h1.5M246.59 660.56h1.5M252.32 660.56h1.5M258.05 660.56h1.5M263.78 660.56h1.5M197.89 666.22h1.5M203.62 666.22h1.5M209.34 666.22h1.5M215.07 666.22h1.5M220.80 666.22h1.5M226.53 666.22h1.5M232.26 666.22h1.5M237.99 666.22h1.5M243.72 666.22h1.5M249.45 666.22h1.5M255.18 666.22h1.5M260.91 666.22h1.5M200.75 671.89h1.5M206.48 671.89h1.5M212.21 671.89h1.5M217.94 671.89h1.5M223.67 671.89h1.5M229.40 671.89h1.5M235.13 671.89h1.5M240.86 671.89h1.5M246.59 671.89h1.5M252.32 671.89h1.5M258.05 671.89h1.5M263.78 671.89h1.5M197.89 677.55h1.5M203.62 677.55h1.5M209.34 677.55h1.5M215.07 677.55h1.5M220.80 677.55h1.5M226.53 677.55h1.5M232.26 677.55h1.5M237.99 677.55h1.5M243.72 677.55h1.5M249.45 677.55h1.5M255.18 677.55h1.5M260.91 677.55h1.5M200.75 683.22h1.5M206.48 683.22h1.5M212.21 683.22h1.5M217.94 683.22h1.5M223.67 683.22h1.5M229.40 683.22h1.5M235.13 683.22h1.5M240.86 683.22h1.5M246.59 683.22h1.5M252.32 683.22h1.5M258.05 683.22h1.5M263.78 683.22h1.5M197.89 688.88h1.5M203.62 688.88h1.5M209.34 688.88h1.5M215.07 688.88h1.5M220.80 688.88h1.5M226.53 688.88h1.5M232.26 688.88h1.5M237.99 688.88h1.5M243.72 688.88h1.5M249.45 688.88h1.5M255.18 688.88h1.5M260.91 688.88h1.5M200.75 694.55h1.5M206.48 694.55h1.5M212.21 694.55h1.5M217.94 694.55h1.5M223.67 694.55h1.5M229.40 694.55h1.5M235.13 694.55h1.5M240.86 694.55h1.5M246.59 694.55h1.5M252.32 694.55h1.5M258.05 694.55h1.5M263.78 694.55h1.5M197.89 700.21h1.5M203.62 700.21h1.5M209.34 700.21h1.5M215.07 700.21h1.5M220.80 700.21h1.5M226.53 700.21h1.5M232.26 700.21h1.5M237.99 700.21h1.5M243.72 700.21h1.5M249.45 700.21h1.5M255.18 700.21h1.5M260.91 700.21h1.5M200.75 705.88h1.5M206.48 705.88h1.5M212.21 705.88h1.5M217.94 705.88h1.5M223.67 705.88h1.5M229.40 705.88h1.5M235.13 705.88h1.5M240.86 705.88h1.5M246.59 705.88h1.5M252.32 705.88h1.5M258.05 705.88h1.5M263.78 705.88h1.5M197.89 711.54h1.5M203.62 711.54h1.5M209.34 711.54h1.5M215.07 711.54h1.5M220.80 711.54h1.5M226.53 711.54h1.5M232.26 711.54h1.5M237.99 711.54h1.5M243.72 711.54h1.5M249.45 711.54h1.5M255.18 711.54h1.5M260.91 711.54h1.5M200.75 717.21h1.5M206.48 717.21h1.5M212.21 717.21h1.5M217.94 717.21h1.5M223.67 717.21h1.5M229.40 717.21h1.5M235.13 717.21h1.5M240.86 717.21h1.5M246.59 717.21h1.5M252.32 717.21h1.5M258.05 717.21h1.5M263.78 717.21h1.5M197.89 722.87h1.5M203.62 722.87h1.5M209.34 722.87h1.5M215.07 722.87h1.5M220.80 722.87h1.5M226.53 722.87h1.5M232.26 722.87h1.5M237.99 722.87h1.5M243.72 722.87h1.5M249.45 722.87h1.5M255.18 722.87h1.5M260.91 722.87h1.5M200.75 728.54h1.5M206.48 728.54h1.5M212.21 728.54h1.5M217.94 728.54h1.5M223.67 728.54h1.5M229.40 728.54h1.5M235.13 728.54h1.5M240.86 728.54h1.5M246.59 728.54h1.5M252.32 728.54h1.5M258.05 728.54h1.5M263.78 728.54h1.5M197.89 734.20h1.5M203.62 734.20h1.5M209.34 734.20h1.5M215.07 734.20h1.5M220.80 734.20h1.5M226.53 734.20h1.5M232.26 734.20h1.5M237.99 734.20h1.5M243.72 734.20h1.5M249.45 734.20h1.5M255.18 734.20h1.5M260.91 734.20h1.5M200.75 739.87h1.5M206.48 739.87h1.5M212.21 739.87h1.5M217.94 739.87h1.5M223.67 739.87h1.5M229.40 739.87h1.5M235.13 739.87h1.5M240.86 739.87h1.5M246.59 739.87h1.5M252.32 739.87h1.5M258.05 739.87h1.5M263.78 739.87h1.5" stroke="#111" stroke-width="1.5" fill="none"/>
<path d="M195.3 744.1V631.8H266.3V744.1" fill="none" stroke="#111" stroke-width="4.2" stroke-linejoin="round"/>
<path d="M231.0 631.8V628.1 M213.0 628.1H249.0" stroke="#111" stroke-width="3.9" stroke-linecap="round" fill="none"/>
<rect x="302.4" y="546.4" width="71.0" height="197.70000000000005" fill="#fff"/>
<path d="M302.4 552.25H373.4M302.4 558.15H373.4M302.4 564.04H373.4M302.4 569.94H373.4M302.4 575.84H373.4M302.4 581.74H373.4M302.4 587.63H373.4M302.4 593.53H373.4M302.4 599.43H373.4M302.4 605.32H373.4M302.4 611.22H373.4M302.4 617.12H373.4M302.4 623.01H373.4M302.4 628.91H373.4M302.4 634.81H373.4M302.4 640.71H373.4M302.4 646.60H373.4M302.4 652.50H373.4M302.4 658.40H373.4M302.4 664.29H373.4M302.4 670.19H373.4M302.4 676.09H373.4M302.4 681.98H373.4M302.4 687.88H373.4M302.4 693.78H373.4M302.4 699.68H373.4M302.4 705.57H373.4M302.4 711.47H373.4M302.4 717.37H373.4M302.4 723.26H373.4M302.4 729.16H373.4M302.4 735.06H373.4M302.4 740.95H373.4" stroke="#111" stroke-width="1.3" fill="none"/>
<path d="M302.4 744.1V546.4H373.4V744.1" fill="none" stroke="#111" stroke-width="4.2" stroke-linejoin="round"/>
<path d="M338.0 546.4V535.0 M320.0 535.0H356.0" stroke="#111" stroke-width="3.9" stroke-linecap="round" fill="none"/>
<rect x="407.1" y="603.5" width="74.79999999999995" height="140.60000000000002" rx="2.4" fill="#111"/>
<path d="M444.7 605.5V600.4 M426.7 600.4H462.7" stroke="#111" stroke-width="3.9" stroke-linecap="round" fill="none"/>
<path d="M63.150000000000006 744.1H498.25" stroke="#111" stroke-width="3.1" stroke-linecap="round" fill="none"/>
<path d="M235.4 491.4V482.9H450.7V491.4" stroke="#111" stroke-width="1.5" fill="none"/>
<text class="t" x="339.65" y="473.5" font-size="24.6" text-anchor="middle">*</text>
<text class="tb" transform="translate(22.3,723.44) rotate(-90) scale(0.9768,1)" font-size="24">CD4</text>
<text class="tb" transform="translate(13.04,677.22) rotate(-90)" font-size="19.7">+</text>
<text class="tb" transform="translate(22.3,659.95) rotate(-90) scale(0.9365,1)" font-size="24">T</text>
<text class="tb" transform="translate(22.3,637.65) rotate(-90) scale(0.9743,1)" font-size="24">cell</text>
<text class="tb" transform="translate(22.3,596.41) rotate(-90) scale(1.0227,1)" font-size="24">population</text>
<rect x="553.05" y="621.85" width="30.1" height="15.4" rx="0.6" fill="#fff" stroke="#111" stroke-width="4.3" stroke-linejoin="round"/>
<text class="t" transform="translate(599.53,637.2) scale(0.9990,1)" font-size="23.3">Naive</text>
<rect x="553.05" y="654.27" width="30.1" height="15.4" rx="0.6" fill="#fff" stroke="#111" stroke-width="4.3" stroke-linejoin="round"/>
<path d="M558.40 660.62h1.4M564.18 660.62h1.4M569.96 660.62h1.4M575.74 660.62h1.4M555.50 666.12h1.4M561.28 666.12h1.4M567.06 666.12h1.4M572.84 666.12h1.4M578.62 666.12h1.4" stroke="#111" stroke-width="1.4" fill="none"/>
<text class="t" transform="translate(600.31,669.87) scale(0.9257,1)" font-size="23.3">Ts</text>
<rect x="553.05" y="686.69" width="30.1" height="15.4" rx="0.6" fill="#fff" stroke="#111" stroke-width="4.3" stroke-linejoin="round"/>
<path d="M554.9 693.0400000000001H581.3" stroke="#111" stroke-width="1.2" fill="none"/>
<path d="M554.9 698.6400000000001H581.3" stroke="#666" stroke-width="1.2" fill="none"/>
<text class="t" transform="translate(599.73,702.5400000000001) scale(0.9934,1)" font-size="23.3">RSV</text>
<rect x="550.9" y="716.96" width="34.4" height="19.7" rx="2.2" fill="#111"/>
<text class="t" transform="translate(599.74,735.21) scale(0.9844,1)" font-size="23.3">RSV-Ts</text></g>
<g><path d="M820.3 454.55V742.1" stroke="#111" stroke-width="3.2" fill="none"/>
<path d="M810.5 456.0H820.3" stroke="#111" stroke-width="2.9" fill="none"/>
<path d="M810.5 527.5H820.3" stroke="#111" stroke-width="2.9" fill="none"/>
<path d="M810.5 599.0H820.3" stroke="#111" stroke-width="2.9" fill="none"/>
<path d="M810.5 670.5H820.3" stroke="#111" stroke-width="2.9" fill="none"/>
<text class="tb" transform="translate(763.27,464.1) scale(1.0000,1)" font-size="22.8">2000</text>
<text class="tb" transform="translate(763.27,535.6) scale(1.0000,1)" font-size="22.8">1500</text>
<text class="tb" transform="translate(763.27,607.1) scale(1.0000,1)" font-size="22.8">1000</text>
<text class="tb" transform="translate(774.67,678.6) scale(1.0000,1)" font-size="22.8">500</text>
<text class="tb" transform="translate(797.47,750.1) scale(1.0000,1)" font-size="22.8">0</text>
<rect x="838.1" y="570.85" width="70.89999999999998" height="171.25" fill="#fff"/>
<path d="M838.1 742.1V570.85H909.0V742.1" fill="none" stroke="#111" stroke-width="4.2" stroke-linejoin="round"/>
<path d="M873.8 570.85V544.2 M855.8 544.2H891.8" stroke="#111" stroke-width="3.9" stroke-linecap="round" fill="none"/>
<rect x="944.8" y="630.8" width="70.80000000000007" height="111.30000000000007" fill="#fff"/>
<path d="M950.05 637.00h1.5M955.78 637.00h1.5M961.51 637.00h1.5M967.24 637.00h1.5M972.97 637.00h1.5M978.70 637.00h1.5M984.43 637.00h1.5M990.16 637.00h1.5M995.89 637.00h1.5M1001.62 637.00h1.5M1007.35 637.00h1.5M1013.08 637.00h1.5M947.18 642.66h1.5M952.91 642.66h1.5M958.64 642.66h1.5M964.38 642.66h1.5M970.11 642.66h1.5M975.84 642.66h1.5M981.57 642.66h1.5M987.30 642.66h1.5M993.03 642.66h1.5M998.76 642.66h1.5M1004.49 642.66h1.5M1010.22 642.66h1.5M950.05 648.33h1.5M955.78 648.33h1.5M961.51 648.33h1.5M967.24 648.33h1.5M972.97 648.33h1.5M978.70 648.33h1.5M984.43 648.33h1.5M990.16 648.33h1.5M995.89 648.33h1.5M1001.62 648.33h1.5M1007.35 648.33h1.5M1013.08 648.33h1.5M947.18 653.99h1.5M952.91 653.99h1.5M958.64 653.99h1.5M964.38 653.99h1.5M970.11 653.99h1.5M975.84 653.99h1.5M981.57 653.99h1.5M987.30 653.99h1.5M993.03 653.99h1.5M998.76 653.99h1.5M1004.49 653.99h1.5M1010.22 653.99h1.5M950.05 659.66h1.5M955.78 659.66h1.5M961.51 659.66h1.5M967.24 659.66h1.5M972.97 659.66h1.5M978.70 659.66h1.5M984.43 659.66h1.5M990.16 659.66h1.5M995.89 659.66h1.5M1001.62 659.66h1.5M1007.35 659.66h1.5M1013.08 659.66h1.5M947.18 665.32h1.5M952.91 665.32h1.5M958.64 665.32h1.5M964.38 665.32h1.5M970.11 665.32h1.5M975.84 665.32h1.5M981.57 665.32h1.5M987.30 665.32h1.5M993.03 665.32h1.5M998.76 665.32h1.5M1004.49 665.32h1.5M1010.22 665.32h1.5M950.05 670.99h1.5M955.78 670.99h1.5M961.51 670.99h1.5M967.24 670.99h1.5M972.97 670.99h1.5M978.70 670.99h1.5M984.43 670.99h1.5M990.16 670.99h1.5M995.89 670.99h1.5M1001.62 670.99h1.5M1007.35 670.99h1.5M1013.08 670.99h1.5M947.18 676.65h1.5M952.91 676.65h1.5M958.64 676.65h1.5M964.38 676.65h1.5M970.11 676.65h1.5M975.84 676.65h1.5M981.57 676.65h1.5M987.30 676.65h1.5M993.03 676.65h1.5M998.76 676.65h1.5M1004.49 676.65h1.5M1010.22 676.65h1.5M950.05 682.32h1.5M955.78 682.32h1.5M961.51 682.32h1.5M967.24 682.32h1.5M972.97 682.32h1.5M978.70 682.32h1.5M984.43 682.32h1.5M990.16 682.32h1.5M995.89 682.32h1.5M1001.62 682.32h1.5M1007.35 682.32h1.5M1013.08 682.32h1.5M947.18 687.98h1.5M952.91 687.98h1.5M958.64 687.98h1.5M964.38 687.98h1.5M970.11 687.98h1.5M975.84 687.98h1.5M981.57 687.98h1.5M987.30 687.98h1.5M993.03 687.98h1.5M998.76 687.98h1.5M1004.49 687.98h1.5M1010.22 687.98h1.5M950.05 693.65h1.5M955.78 693.65h1.5M961.51 693.65h1.5M967.24 693.65h1.5M972.97 693.65h1.5M978.70 693.65h1.5M984.43 693.65h1.5M990.16 693.65h1.5M995.89 693.65h1.5M1001.62 693.65h1.5M1007.35 693.65h1.5M1013.08 693.65h1.5M947.18 699.31h1.5M952.91 699.31h1.5M958.64 699.31h1.5M964.38 699.31h1.5M970.11 699.31h1.5M975.84 699.31h1.5M981.57 699.31h1.5M987.30 699.31h1.5M993.03 699.31h1.5M998.76 699.31h1.5M1004.49 699.31h1.5M1010.22 699.31h1.5M950.05 704.98h1.5M955.78 704.98h1.5M961.51 704.98h1.5M967.24 704.98h1.5M972.97 704.98h1.5M978.70 704.98h1.5M984.43 704.98h1.5M990.16 704.98h1.5M995.89 704.98h1.5M1001.62 704.98h1.5M1007.35 704.98h1.5M1013.08 704.98h1.5M947.18 710.64h1.5M952.91 710.64h1.5M958.64 710.64h1.5M964.38 710.64h1.5M970.11 710.64h1.5M975.84 710.64h1.5M981.57 710.64h1.5M987.30 710.64h1.5M993.03 710.64h1.5M998.76 710.64h1.5M1004.49 710.64h1.5M1010.22 710.64h1.5M950.05 716.31h1.5M955.78 716.31h1.5M961.51 716.31h1.5M967.24 716.31h1.5M972.97 716.31h1.5M978.70 716.31h1.5M984.43 716.31h1.5M990.16 716.31h1.5M995.89 716.31h1.5M1001.62 716.31h1.5M1007.35 716.31h1.5M1013.08 716.31h1.5M947.18 721.97h1.5M952.91 721.97h1.5M958.64 721.97h1.5M964.38 721.97h1.5M970.11 721.97h1.5M975.84 721.97h1.5M981.57 721.97h1.5M987.30 721.97h1.5M993.03 721.97h1.5M998.76 721.97h1.5M1004.49 721.97h1.5M1010.22 721.97h1.5M950.05 727.64h1.5M955.78 727.64h1.5M961.51 727.64h1.5M967.24 727.64h1.5M972.97 727.64h1.5M978.70 727.64h1.5M984.43 727.64h1.5M990.16 727.64h1.5M995.89 727.64h1.5M1001.62 727.64h1.5M1007.35 727.64h1.5M1013.08 727.64h1.5M947.18 733.30h1.5M952.91 733.30h1.5M958.64 733.30h1.5M964.38 733.30h1.5M970.11 733.30h1.5M975.84 733.30h1.5M981.57 733.30h1.5M987.30 733.30h1.5M993.03 733.30h1.5M998.76 733.30h1.5M1004.49 733.30h1.5M1010.22 733.30h1.5M950.05 738.97h1.5M955.78 738.97h1.5M961.51 738.97h1.5M967.24 738.97h1.5M972.97 738.97h1.5M978.70 738.97h1.5M984.43 738.97h1.5M990.16 738.97h1.5M995.89 738.97h1.5M1001.62 738.97h1.5M1007.35 738.97h1.5M1013.08 738.97h1.5" stroke="#111" stroke-width="1.5" fill="none"/>
<path d="M944.8 742.1V630.8H1015.6V742.1" fill="none" stroke="#111" stroke-width="4.2" stroke-linejoin="round"/>
<path d="M980.4 630.8V627.2 M962.4 627.2H998.4" stroke="#111" stroke-width="3.9" stroke-linecap="round" fill="none"/>
<rect x="1051.4" y="542.1" width="71.0" height="200.0" fill="#fff"/>
<path d="M1051.4 547.95H1122.4M1051.4 553.85H1122.4M1051.4 559.74H1122.4M1051.4 565.64H1122.4M1051.4 571.54H1122.4M1051.4 577.44H1122.4M1051.4 583.33H1122.4M1051.4 589.23H1122.4M1051.4 595.13H1122.4M1051.4 601.02H1122.4M1051.4 606.92H1122.4M1051.4 612.82H1122.4M1051.4 618.71H1122.4M1051.4 624.61H1122.4M1051.4 630.51H1122.4M1051.4 636.41H1122.4M1051.4 642.30H1122.4M1051.4 648.20H1122.4M1051.4 654.10H1122.4M1051.4 659.99H1122.4M1051.4 665.89H1122.4M1051.4 671.79H1122.4M1051.4 677.68H1122.4M1051.4 683.58H1122.4M1051.4 689.48H1122.4M1051.4 695.38H1122.4M1051.4 701.27H1122.4M1051.4 707.17H1122.4M1051.4 713.07H1122.4M1051.4 718.96H1122.4M1051.4 724.86H1122.4M1051.4 730.76H1122.4M1051.4 736.65H1122.4" stroke="#111" stroke-width="1.3" fill="none"/>
<path d="M1051.4 742.1V542.1H1122.4V742.1" fill="none" stroke="#111" stroke-width="4.2" stroke-linejoin="round"/>
<path d="M1087.1 542.1V530.8 M1069.1 530.8H1105.1" stroke="#111" stroke-width="3.9" stroke-linecap="round" fill="none"/>
<rect x="1155.9" y="597.1" width="75.0" height="145.0" rx="2.4" fill="#111"/>
<path d="M1193.6 599.1V592.9 M1175.6 592.9H1211.6" stroke="#111" stroke-width="3.9" stroke-linecap="round" fill="none"/>
<path d="M812.0 742.1H1247.25" stroke="#111" stroke-width="3.1" stroke-linecap="round" fill="none"/>
<path d="M978.75 490.9V482.5H1193.9V490.9" stroke="#111" stroke-width="1.5" fill="none"/>
<text class="t" x="1086.3" y="477.8" font-size="24.6" text-anchor="middle">*</text>
<text class="tb" transform="translate(751.0,747.25) rotate(-90) scale(0.9812,1)" font-size="24">CD4</text>
<text class="tb" transform="translate(740.44,700.27) rotate(-90)" font-size="19.7">+</text>
<text class="tb" transform="translate(751.0,682.85) rotate(-90) scale(0.9300,1)" font-size="24">T</text>
<text class="tb" transform="translate(751.0,660.32) rotate(-90) scale(0.9997,1)" font-size="24">cell</text>
<text class="tb" transform="translate(751.0,617.88) rotate(-90) scale(1.0077,1)" font-size="24">count</text>
<text class="tb" transform="translate(751.0,546.54) rotate(-90) scale(1.0800,1)" font-size="24">(cells/ul)</text>
<rect x="1276.45" y="614.65" width="30.1" height="15.4" rx="0.6" fill="#fff" stroke="#111" stroke-width="4.3" stroke-linejoin="round"/>
<text class="t" transform="translate(1323.53,630.5) scale(0.9916,1)" font-size="23.3">Naive</text>
<rect x="1276.45" y="647.55" width="30.1" height="15.4" rx="0.6" fill="#fff" stroke="#111" stroke-width="4.3" stroke-linejoin="round"/>
<path d="M1281.80 653.90h1.4M1287.58 653.90h1.4M1293.36 653.90h1.4M1299.14 653.90h1.4M1278.90 659.40h1.4M1284.68 659.40h1.4M1290.46 659.40h1.4M1296.24 659.40h1.4M1302.02 659.40h1.4" stroke="#111" stroke-width="1.4" fill="none"/>
<text class="t" transform="translate(1324.28,663.23) scale(1.0000,1)" font-size="23.3">Ts</text>
<rect x="1276.45" y="680.4499999999999" width="30.1" height="15.4" rx="0.6" fill="#fff" stroke="#111" stroke-width="4.3" stroke-linejoin="round"/>
<path d="M1278.3 686.8H1304.7" stroke="#111" stroke-width="1.2" fill="none"/>
<path d="M1278.3 692.4H1304.7" stroke="#666" stroke-width="1.2" fill="none"/>
<text class="t" transform="translate(1323.73,695.96) scale(1.0000,1)" font-size="23.3">RSV</text>
<rect x="1274.3" y="711.2" width="34.4" height="19.7" rx="2.2" fill="#111"/>
<text class="t" transform="translate(1323.75,728.69) scale(0.9750,1)" font-size="23.3">RSV-Ts</text></g>
</svg></body></html>
